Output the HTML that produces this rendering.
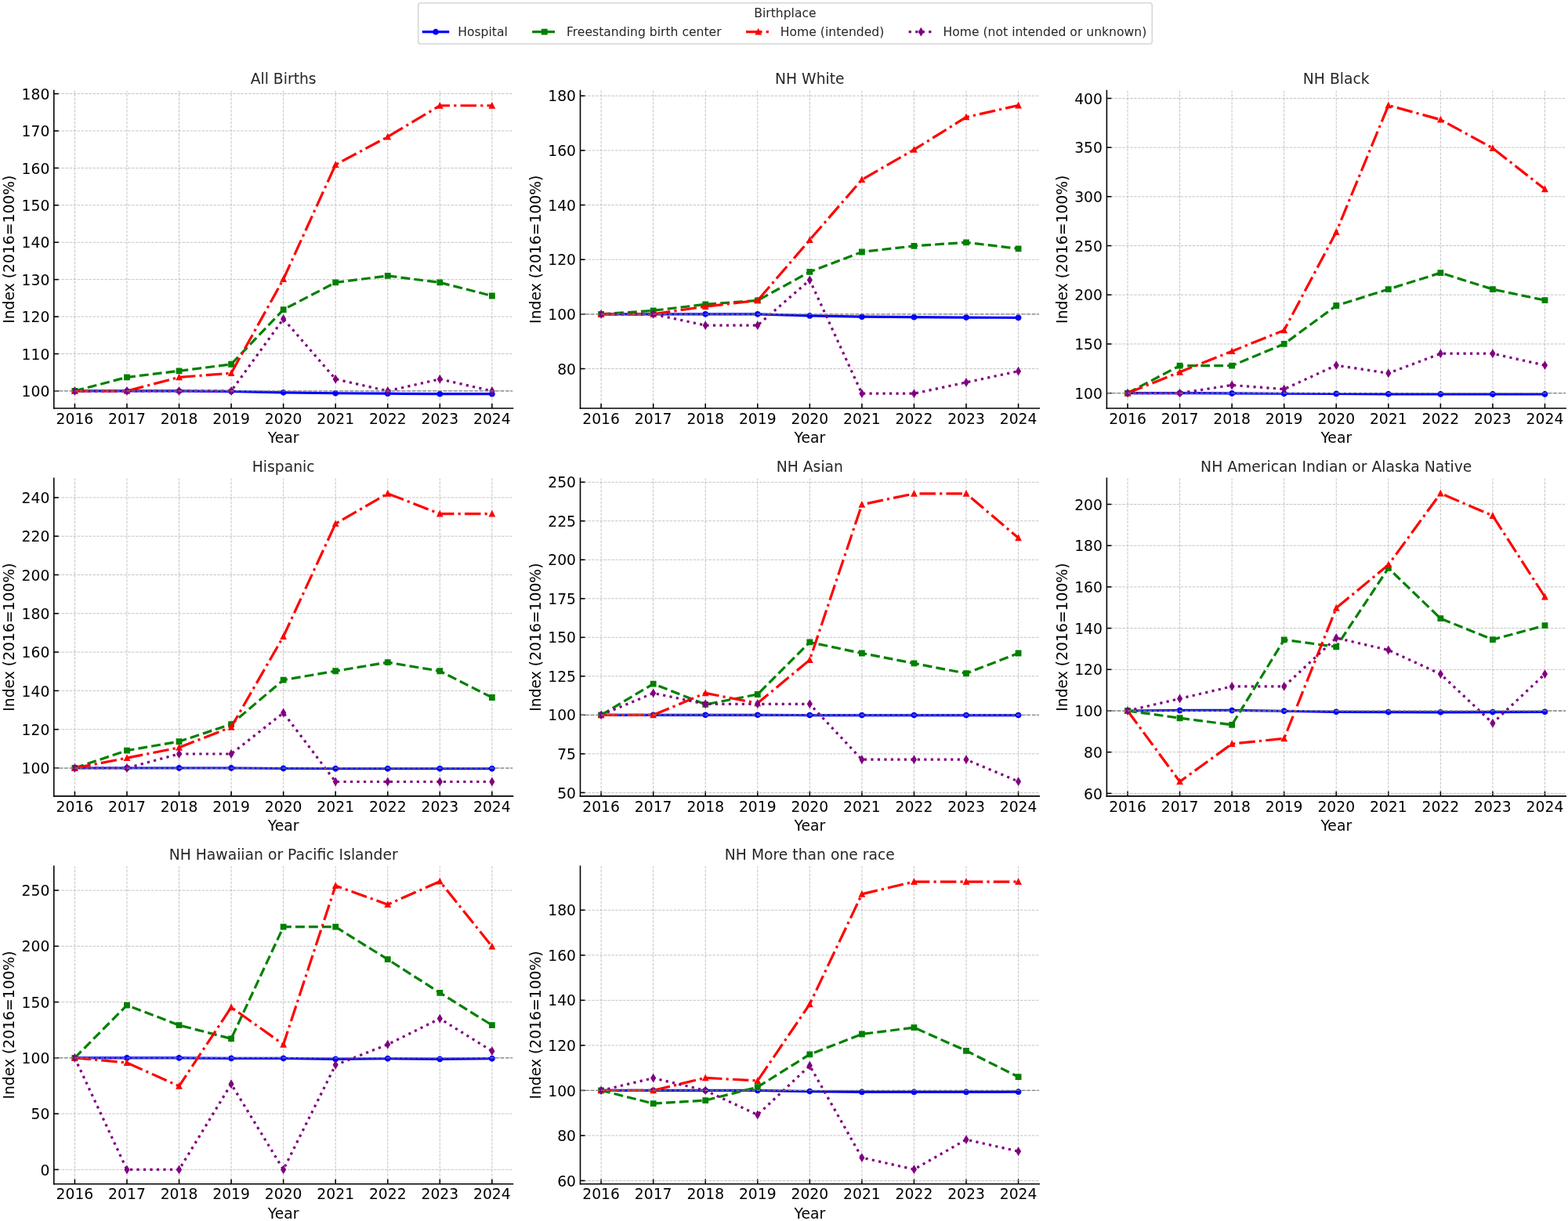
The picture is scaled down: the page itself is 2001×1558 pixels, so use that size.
<!DOCTYPE html>
<html><head><meta charset="utf-8"><title>Birthplace index by race/ethnicity</title>
<style>html,body{margin:0;padding:0;background:#fff;width:2001px;height:1558px;overflow:hidden}
text{font-family:"DejaVu Sans","Liberation Sans",sans-serif}</style></head>
<body>
<svg width="2001" height="1558" viewBox="0 0 1280.64 997.12" style="display:block">
<defs>
<style type="text/css">svg *{stroke-linejoin: round; stroke-linecap: butt}</style>
</defs>
<g id="figure_1">
<g id="patch_1">
<path d="M 0 997.12
L 1280.64 997.12
L 1280.64 0
L 0 0
z
" style="fill: #ffffff"/>
</g>
<g id="axes_1">
<g id="patch_2">
<path d="M 44.032 333.44
L 418.88 333.44
L 418.88 73.92
L 44.032 73.92
z
" style="fill: #ffffff"/>
</g>
<g id="matplotlib.axis_1">
<g id="xtick_1">
<g id="line2d_1">
<path d="M 61.070545 333.44
L 61.070545 73.92
" clip-path="url(#p42d1062738)" style="fill: none; stroke-dasharray: 2.22,0.96; stroke-dashoffset: 0; stroke: #b0b0b0; stroke-opacity: 0.8; stroke-width: 0.6"/>
</g>
<g id="line2d_2">
<g>
<path d="M 0 0
L 0 -3.85
" transform="translate(61.070545 333.44)" style="stroke: #000000; stroke: #000000"/>
</g>
</g>
<g id="text_1">
<text style="font-size: 12px; font-family: 'DejaVu Sans', 'Liberation Sans', sans-serif; text-anchor: middle" x="61.070545" y="346.058125" transform="rotate(-0 61.070545 346.058125)">2016</text>
</g>
</g>
<g id="xtick_2">
<g id="line2d_3">
<path d="M 103.666909 333.44
L 103.666909 73.92
" clip-path="url(#p42d1062738)" style="fill: none; stroke-dasharray: 2.22,0.96; stroke-dashoffset: 0; stroke: #b0b0b0; stroke-opacity: 0.8; stroke-width: 0.6"/>
</g>
<g id="line2d_4">
<g>
<path d="M 0 0
L 0 -3.85
" transform="translate(103.666909 333.44)" style="stroke: #000000; stroke: #000000"/>
</g>
</g>
<g id="text_2">
<text style="font-size: 12px; font-family: 'DejaVu Sans', 'Liberation Sans', sans-serif; text-anchor: middle" x="103.666909" y="346.058125" transform="rotate(-0 103.666909 346.058125)">2017</text>
</g>
</g>
<g id="xtick_3">
<g id="line2d_5">
<path d="M 146.263273 333.44
L 146.263273 73.92
" clip-path="url(#p42d1062738)" style="fill: none; stroke-dasharray: 2.22,0.96; stroke-dashoffset: 0; stroke: #b0b0b0; stroke-opacity: 0.8; stroke-width: 0.6"/>
</g>
<g id="line2d_6">
<g>
<path d="M 0 0
L 0 -3.85
" transform="translate(146.263273 333.44)" style="stroke: #000000; stroke: #000000"/>
</g>
</g>
<g id="text_3">
<text style="font-size: 12px; font-family: 'DejaVu Sans', 'Liberation Sans', sans-serif; text-anchor: middle" x="146.263273" y="346.058125" transform="rotate(-0 146.263273 346.058125)">2018</text>
</g>
</g>
<g id="xtick_4">
<g id="line2d_7">
<path d="M 188.859636 333.44
L 188.859636 73.92
" clip-path="url(#p42d1062738)" style="fill: none; stroke-dasharray: 2.22,0.96; stroke-dashoffset: 0; stroke: #b0b0b0; stroke-opacity: 0.8; stroke-width: 0.6"/>
</g>
<g id="line2d_8">
<g>
<path d="M 0 0
L 0 -3.85
" transform="translate(188.859636 333.44)" style="stroke: #000000; stroke: #000000"/>
</g>
</g>
<g id="text_4">
<text style="font-size: 12px; font-family: 'DejaVu Sans', 'Liberation Sans', sans-serif; text-anchor: middle" x="188.859636" y="346.058125" transform="rotate(-0 188.859636 346.058125)">2019</text>
</g>
</g>
<g id="xtick_5">
<g id="line2d_9">
<path d="M 231.456 333.44
L 231.456 73.92
" clip-path="url(#p42d1062738)" style="fill: none; stroke-dasharray: 2.22,0.96; stroke-dashoffset: 0; stroke: #b0b0b0; stroke-opacity: 0.8; stroke-width: 0.6"/>
</g>
<g id="line2d_10">
<g>
<path d="M 0 0
L 0 -3.85
" transform="translate(231.456 333.44)" style="stroke: #000000; stroke: #000000"/>
</g>
</g>
<g id="text_5">
<text style="font-size: 12px; font-family: 'DejaVu Sans', 'Liberation Sans', sans-serif; text-anchor: middle" x="231.456" y="346.058125" transform="rotate(-0 231.456 346.058125)">2020</text>
</g>
</g>
<g id="xtick_6">
<g id="line2d_11">
<path d="M 274.052364 333.44
L 274.052364 73.92
" clip-path="url(#p42d1062738)" style="fill: none; stroke-dasharray: 2.22,0.96; stroke-dashoffset: 0; stroke: #b0b0b0; stroke-opacity: 0.8; stroke-width: 0.6"/>
</g>
<g id="line2d_12">
<g>
<path d="M 0 0
L 0 -3.85
" transform="translate(274.052364 333.44)" style="stroke: #000000; stroke: #000000"/>
</g>
</g>
<g id="text_6">
<text style="font-size: 12px; font-family: 'DejaVu Sans', 'Liberation Sans', sans-serif; text-anchor: middle" x="274.052364" y="346.058125" transform="rotate(-0 274.052364 346.058125)">2021</text>
</g>
</g>
<g id="xtick_7">
<g id="line2d_13">
<path d="M 316.648727 333.44
L 316.648727 73.92
" clip-path="url(#p42d1062738)" style="fill: none; stroke-dasharray: 2.22,0.96; stroke-dashoffset: 0; stroke: #b0b0b0; stroke-opacity: 0.8; stroke-width: 0.6"/>
</g>
<g id="line2d_14">
<g>
<path d="M 0 0
L 0 -3.85
" transform="translate(316.648727 333.44)" style="stroke: #000000; stroke: #000000"/>
</g>
</g>
<g id="text_7">
<text style="font-size: 12px; font-family: 'DejaVu Sans', 'Liberation Sans', sans-serif; text-anchor: middle" x="316.648727" y="346.058125" transform="rotate(-0 316.648727 346.058125)">2022</text>
</g>
</g>
<g id="xtick_8">
<g id="line2d_15">
<path d="M 359.245091 333.44
L 359.245091 73.92
" clip-path="url(#p42d1062738)" style="fill: none; stroke-dasharray: 2.22,0.96; stroke-dashoffset: 0; stroke: #b0b0b0; stroke-opacity: 0.8; stroke-width: 0.6"/>
</g>
<g id="line2d_16">
<g>
<path d="M 0 0
L 0 -3.85
" transform="translate(359.245091 333.44)" style="stroke: #000000; stroke: #000000"/>
</g>
</g>
<g id="text_8">
<text style="font-size: 12px; font-family: 'DejaVu Sans', 'Liberation Sans', sans-serif; text-anchor: middle" x="359.245091" y="346.058125" transform="rotate(-0 359.245091 346.058125)">2023</text>
</g>
</g>
<g id="xtick_9">
<g id="line2d_17">
<path d="M 401.841455 333.44
L 401.841455 73.92
" clip-path="url(#p42d1062738)" style="fill: none; stroke-dasharray: 2.22,0.96; stroke-dashoffset: 0; stroke: #b0b0b0; stroke-opacity: 0.8; stroke-width: 0.6"/>
</g>
<g id="line2d_18">
<g>
<path d="M 0 0
L 0 -3.85
" transform="translate(401.841455 333.44)" style="stroke: #000000; stroke: #000000"/>
</g>
</g>
<g id="text_9">
<text style="font-size: 12px; font-family: 'DejaVu Sans', 'Liberation Sans', sans-serif; text-anchor: middle" x="401.841455" y="346.058125" transform="rotate(-0 401.841455 346.058125)">2024</text>
</g>
</g>
<g id="text_10">
<text style="font-size: 12px; font-family: 'DejaVu Sans', 'Liberation Sans', sans-serif; text-anchor: middle" x="231.456" y="361.671875" transform="rotate(-0 231.456 361.671875)">Year</text>
</g>
</g>
<g id="matplotlib.axis_2">
<g id="ytick_1">
<g id="line2d_19">
<path d="M 44.032 319.296
L 418.88 319.296
" clip-path="url(#p42d1062738)" style="fill: none; stroke-dasharray: 2.22,0.96; stroke-dashoffset: 0; stroke: #b0b0b0; stroke-opacity: 0.8; stroke-width: 0.6"/>
</g>
<g id="line2d_20">
<g>
<path d="M 0 0
L 3.85 0
" transform="translate(44.032 319.296)" style="stroke: #000000; stroke: #000000"/>
</g>
</g>
<g id="text_11">
<text style="font-size: 12px; font-family: 'DejaVu Sans', 'Liberation Sans', sans-serif; text-anchor: end" x="40.532" y="323.855062" transform="rotate(-0 40.532 323.855062)">100</text>
</g>
</g>
<g id="ytick_2">
<g id="line2d_21">
<path d="M 44.032 288.952
L 418.88 288.952
" clip-path="url(#p42d1062738)" style="fill: none; stroke-dasharray: 2.22,0.96; stroke-dashoffset: 0; stroke: #b0b0b0; stroke-opacity: 0.8; stroke-width: 0.6"/>
</g>
<g id="line2d_22">
<g>
<path d="M 0 0
L 3.85 0
" transform="translate(44.032 288.952)" style="stroke: #000000; stroke: #000000"/>
</g>
</g>
<g id="text_12">
<text style="font-size: 12px; font-family: 'DejaVu Sans', 'Liberation Sans', sans-serif; text-anchor: end" x="40.532" y="293.511062" transform="rotate(-0 40.532 293.511062)">110</text>
</g>
</g>
<g id="ytick_3">
<g id="line2d_23">
<path d="M 44.032 258.608
L 418.88 258.608
" clip-path="url(#p42d1062738)" style="fill: none; stroke-dasharray: 2.22,0.96; stroke-dashoffset: 0; stroke: #b0b0b0; stroke-opacity: 0.8; stroke-width: 0.6"/>
</g>
<g id="line2d_24">
<g>
<path d="M 0 0
L 3.85 0
" transform="translate(44.032 258.608)" style="stroke: #000000; stroke: #000000"/>
</g>
</g>
<g id="text_13">
<text style="font-size: 12px; font-family: 'DejaVu Sans', 'Liberation Sans', sans-serif; text-anchor: end" x="40.532" y="263.167062" transform="rotate(-0 40.532 263.167062)">120</text>
</g>
</g>
<g id="ytick_4">
<g id="line2d_25">
<path d="M 44.032 228.264
L 418.88 228.264
" clip-path="url(#p42d1062738)" style="fill: none; stroke-dasharray: 2.22,0.96; stroke-dashoffset: 0; stroke: #b0b0b0; stroke-opacity: 0.8; stroke-width: 0.6"/>
</g>
<g id="line2d_26">
<g>
<path d="M 0 0
L 3.85 0
" transform="translate(44.032 228.264)" style="stroke: #000000; stroke: #000000"/>
</g>
</g>
<g id="text_14">
<text style="font-size: 12px; font-family: 'DejaVu Sans', 'Liberation Sans', sans-serif; text-anchor: end" x="40.532" y="232.823062" transform="rotate(-0 40.532 232.823062)">130</text>
</g>
</g>
<g id="ytick_5">
<g id="line2d_27">
<path d="M 44.032 197.92
L 418.88 197.92
" clip-path="url(#p42d1062738)" style="fill: none; stroke-dasharray: 2.22,0.96; stroke-dashoffset: 0; stroke: #b0b0b0; stroke-opacity: 0.8; stroke-width: 0.6"/>
</g>
<g id="line2d_28">
<g>
<path d="M 0 0
L 3.85 0
" transform="translate(44.032 197.92)" style="stroke: #000000; stroke: #000000"/>
</g>
</g>
<g id="text_15">
<text style="font-size: 12px; font-family: 'DejaVu Sans', 'Liberation Sans', sans-serif; text-anchor: end" x="40.532" y="202.479062" transform="rotate(-0 40.532 202.479062)">140</text>
</g>
</g>
<g id="ytick_6">
<g id="line2d_29">
<path d="M 44.032 167.576
L 418.88 167.576
" clip-path="url(#p42d1062738)" style="fill: none; stroke-dasharray: 2.22,0.96; stroke-dashoffset: 0; stroke: #b0b0b0; stroke-opacity: 0.8; stroke-width: 0.6"/>
</g>
<g id="line2d_30">
<g>
<path d="M 0 0
L 3.85 0
" transform="translate(44.032 167.576)" style="stroke: #000000; stroke: #000000"/>
</g>
</g>
<g id="text_16">
<text style="font-size: 12px; font-family: 'DejaVu Sans', 'Liberation Sans', sans-serif; text-anchor: end" x="40.532" y="172.135062" transform="rotate(-0 40.532 172.135062)">150</text>
</g>
</g>
<g id="ytick_7">
<g id="line2d_31">
<path d="M 44.032 137.232
L 418.88 137.232
" clip-path="url(#p42d1062738)" style="fill: none; stroke-dasharray: 2.22,0.96; stroke-dashoffset: 0; stroke: #b0b0b0; stroke-opacity: 0.8; stroke-width: 0.6"/>
</g>
<g id="line2d_32">
<g>
<path d="M 0 0
L 3.85 0
" transform="translate(44.032 137.232)" style="stroke: #000000; stroke: #000000"/>
</g>
</g>
<g id="text_17">
<text style="font-size: 12px; font-family: 'DejaVu Sans', 'Liberation Sans', sans-serif; text-anchor: end" x="40.532" y="141.791062" transform="rotate(-0 40.532 141.791062)">160</text>
</g>
</g>
<g id="ytick_8">
<g id="line2d_33">
<path d="M 44.032 106.888
L 418.88 106.888
" clip-path="url(#p42d1062738)" style="fill: none; stroke-dasharray: 2.22,0.96; stroke-dashoffset: 0; stroke: #b0b0b0; stroke-opacity: 0.8; stroke-width: 0.6"/>
</g>
<g id="line2d_34">
<g>
<path d="M 0 0
L 3.85 0
" transform="translate(44.032 106.888)" style="stroke: #000000; stroke: #000000"/>
</g>
</g>
<g id="text_18">
<text style="font-size: 12px; font-family: 'DejaVu Sans', 'Liberation Sans', sans-serif; text-anchor: end" x="40.532" y="111.447063" transform="rotate(-0 40.532 111.447063)">170</text>
</g>
</g>
<g id="ytick_9">
<g id="line2d_35">
<path d="M 44.032 76.544
L 418.88 76.544
" clip-path="url(#p42d1062738)" style="fill: none; stroke-dasharray: 2.22,0.96; stroke-dashoffset: 0; stroke: #b0b0b0; stroke-opacity: 0.8; stroke-width: 0.6"/>
</g>
<g id="line2d_36">
<g>
<path d="M 0 0
L 3.85 0
" transform="translate(44.032 76.544)" style="stroke: #000000; stroke: #000000"/>
</g>
</g>
<g id="text_19">
<text style="font-size: 12px; font-family: 'DejaVu Sans', 'Liberation Sans', sans-serif; text-anchor: end" x="40.532" y="81.103062" transform="rotate(-0 40.532 81.103062)">180</text>
</g>
</g>
<g id="text_20">
<text style="font-size: 12px; font-family: 'DejaVu Sans', 'Liberation Sans', sans-serif; text-anchor: middle" x="11.631375" y="203.68" transform="rotate(-90 11.631375 203.68)">Index (2016=100%)</text>
</g>
</g>
<g id="line2d_37">
<path d="M 61.070545 319.296
L 103.666909 319.296
L 146.263273 319.296
L 188.859636 319.59944
L 231.456 320.50976
L 274.052364 321.11664
L 316.648727 321.42008
L 359.245091 321.72352
L 401.841455 321.72352
" clip-path="url(#p42d1062738)" style="fill: none; stroke: #0000ff; stroke-width: 2.05; stroke-linecap: square"/>
<g clip-path="url(#p42d1062738)">
<path d="M 0 2
C 0.530406 2 1.03916 1.789267 1.414214 1.414214
C 1.789267 1.03916 2 0.530406 2 0
C 2 -0.530406 1.789267 -1.03916 1.414214 -1.414214
C 1.03916 -1.789267 0.530406 -2 0 -2
C -0.530406 -2 -1.03916 -1.789267 -1.414214 -1.414214
C -1.789267 -1.03916 -2 -0.530406 -2 0
C -2 0.530406 -1.789267 1.03916 -1.414214 1.414214
C -1.03916 1.789267 -0.530406 2 0 2
z
" transform="translate(61.070545 319.296)" style="fill: #0000ff; stroke: #0000ff; stroke: #0000ff"/>
<path d="M 0 2
C 0.530406 2 1.03916 1.789267 1.414214 1.414214
C 1.789267 1.03916 2 0.530406 2 0
C 2 -0.530406 1.789267 -1.03916 1.414214 -1.414214
C 1.03916 -1.789267 0.530406 -2 0 -2
C -0.530406 -2 -1.03916 -1.789267 -1.414214 -1.414214
C -1.789267 -1.03916 -2 -0.530406 -2 0
C -2 0.530406 -1.789267 1.03916 -1.414214 1.414214
C -1.03916 1.789267 -0.530406 2 0 2
z
" transform="translate(103.666909 319.296)" style="fill: #0000ff; stroke: #0000ff; stroke: #0000ff"/>
<path d="M 0 2
C 0.530406 2 1.03916 1.789267 1.414214 1.414214
C 1.789267 1.03916 2 0.530406 2 0
C 2 -0.530406 1.789267 -1.03916 1.414214 -1.414214
C 1.03916 -1.789267 0.530406 -2 0 -2
C -0.530406 -2 -1.03916 -1.789267 -1.414214 -1.414214
C -1.789267 -1.03916 -2 -0.530406 -2 0
C -2 0.530406 -1.789267 1.03916 -1.414214 1.414214
C -1.03916 1.789267 -0.530406 2 0 2
z
" transform="translate(146.263273 319.296)" style="fill: #0000ff; stroke: #0000ff; stroke: #0000ff"/>
<path d="M 0 2
C 0.530406 2 1.03916 1.789267 1.414214 1.414214
C 1.789267 1.03916 2 0.530406 2 0
C 2 -0.530406 1.789267 -1.03916 1.414214 -1.414214
C 1.03916 -1.789267 0.530406 -2 0 -2
C -0.530406 -2 -1.03916 -1.789267 -1.414214 -1.414214
C -1.789267 -1.03916 -2 -0.530406 -2 0
C -2 0.530406 -1.789267 1.03916 -1.414214 1.414214
C -1.03916 1.789267 -0.530406 2 0 2
z
" transform="translate(188.859636 319.59944)" style="fill: #0000ff; stroke: #0000ff; stroke: #0000ff"/>
<path d="M 0 2
C 0.530406 2 1.03916 1.789267 1.414214 1.414214
C 1.789267 1.03916 2 0.530406 2 0
C 2 -0.530406 1.789267 -1.03916 1.414214 -1.414214
C 1.03916 -1.789267 0.530406 -2 0 -2
C -0.530406 -2 -1.03916 -1.789267 -1.414214 -1.414214
C -1.789267 -1.03916 -2 -0.530406 -2 0
C -2 0.530406 -1.789267 1.03916 -1.414214 1.414214
C -1.03916 1.789267 -0.530406 2 0 2
z
" transform="translate(231.456 320.50976)" style="fill: #0000ff; stroke: #0000ff; stroke: #0000ff"/>
<path d="M 0 2
C 0.530406 2 1.03916 1.789267 1.414214 1.414214
C 1.789267 1.03916 2 0.530406 2 0
C 2 -0.530406 1.789267 -1.03916 1.414214 -1.414214
C 1.03916 -1.789267 0.530406 -2 0 -2
C -0.530406 -2 -1.03916 -1.789267 -1.414214 -1.414214
C -1.789267 -1.03916 -2 -0.530406 -2 0
C -2 0.530406 -1.789267 1.03916 -1.414214 1.414214
C -1.03916 1.789267 -0.530406 2 0 2
z
" transform="translate(274.052364 321.11664)" style="fill: #0000ff; stroke: #0000ff; stroke: #0000ff"/>
<path d="M 0 2
C 0.530406 2 1.03916 1.789267 1.414214 1.414214
C 1.789267 1.03916 2 0.530406 2 0
C 2 -0.530406 1.789267 -1.03916 1.414214 -1.414214
C 1.03916 -1.789267 0.530406 -2 0 -2
C -0.530406 -2 -1.03916 -1.789267 -1.414214 -1.414214
C -1.789267 -1.03916 -2 -0.530406 -2 0
C -2 0.530406 -1.789267 1.03916 -1.414214 1.414214
C -1.03916 1.789267 -0.530406 2 0 2
z
" transform="translate(316.648727 321.42008)" style="fill: #0000ff; stroke: #0000ff; stroke: #0000ff"/>
<path d="M 0 2
C 0.530406 2 1.03916 1.789267 1.414214 1.414214
C 1.789267 1.03916 2 0.530406 2 0
C 2 -0.530406 1.789267 -1.03916 1.414214 -1.414214
C 1.03916 -1.789267 0.530406 -2 0 -2
C -0.530406 -2 -1.03916 -1.789267 -1.414214 -1.414214
C -1.789267 -1.03916 -2 -0.530406 -2 0
C -2 0.530406 -1.789267 1.03916 -1.414214 1.414214
C -1.03916 1.789267 -0.530406 2 0 2
z
" transform="translate(359.245091 321.72352)" style="fill: #0000ff; stroke: #0000ff; stroke: #0000ff"/>
<path d="M 0 2
C 0.530406 2 1.03916 1.789267 1.414214 1.414214
C 1.789267 1.03916 2 0.530406 2 0
C 2 -0.530406 1.789267 -1.03916 1.414214 -1.414214
C 1.03916 -1.789267 0.530406 -2 0 -2
C -0.530406 -2 -1.03916 -1.789267 -1.414214 -1.414214
C -1.789267 -1.03916 -2 -0.530406 -2 0
C -2 0.530406 -1.789267 1.03916 -1.414214 1.414214
C -1.03916 1.789267 -0.530406 2 0 2
z
" transform="translate(401.841455 321.72352)" style="fill: #0000ff; stroke: #0000ff; stroke: #0000ff"/>
</g>
</g>
<g id="line2d_38">
<path d="M 61.070545 319.296
L 103.666909 308.06872
L 146.263273 302.91024
L 188.859636 297.44832
L 231.456 252.84264
L 274.052364 230.69152
L 316.648727 225.2296
L 359.245091 230.69152
L 401.841455 241.61536
" clip-path="url(#p42d1062738)" style="fill: none; stroke-dasharray: 7.585,3.28; stroke-dashoffset: 0; stroke: #008000; stroke-width: 2.05"/>
<g clip-path="url(#p42d1062738)">
<path d="M -2 2
L 2 2
L 2 -2
L -2 -2
z
" transform="translate(61.070545 319.296)" style="fill: #008000; stroke: #008000; stroke-linejoin: miter; stroke: #008000; stroke-linejoin: miter"/>
<path d="M -2 2
L 2 2
L 2 -2
L -2 -2
z
" transform="translate(103.666909 308.06872)" style="fill: #008000; stroke: #008000; stroke-linejoin: miter; stroke: #008000; stroke-linejoin: miter"/>
<path d="M -2 2
L 2 2
L 2 -2
L -2 -2
z
" transform="translate(146.263273 302.91024)" style="fill: #008000; stroke: #008000; stroke-linejoin: miter; stroke: #008000; stroke-linejoin: miter"/>
<path d="M -2 2
L 2 2
L 2 -2
L -2 -2
z
" transform="translate(188.859636 297.44832)" style="fill: #008000; stroke: #008000; stroke-linejoin: miter; stroke: #008000; stroke-linejoin: miter"/>
<path d="M -2 2
L 2 2
L 2 -2
L -2 -2
z
" transform="translate(231.456 252.84264)" style="fill: #008000; stroke: #008000; stroke-linejoin: miter; stroke: #008000; stroke-linejoin: miter"/>
<path d="M -2 2
L 2 2
L 2 -2
L -2 -2
z
" transform="translate(274.052364 230.69152)" style="fill: #008000; stroke: #008000; stroke-linejoin: miter; stroke: #008000; stroke-linejoin: miter"/>
<path d="M -2 2
L 2 2
L 2 -2
L -2 -2
z
" transform="translate(316.648727 225.2296)" style="fill: #008000; stroke: #008000; stroke-linejoin: miter; stroke: #008000; stroke-linejoin: miter"/>
<path d="M -2 2
L 2 2
L 2 -2
L -2 -2
z
" transform="translate(359.245091 230.69152)" style="fill: #008000; stroke: #008000; stroke-linejoin: miter; stroke: #008000; stroke-linejoin: miter"/>
<path d="M -2 2
L 2 2
L 2 -2
L -2 -2
z
" transform="translate(401.841455 241.61536)" style="fill: #008000; stroke: #008000; stroke-linejoin: miter; stroke: #008000; stroke-linejoin: miter"/>
</g>
</g>
<g id="line2d_39">
<path d="M 61.070545 319.296
L 103.666909 319.296
L 146.263273 308.06872
L 188.859636 304.73088
L 231.456 227.96056
L 274.052364 134.50104
L 316.648727 111.74304
L 359.245091 86.25408
L 401.841455 86.25408
" clip-path="url(#p42d1062738)" style="fill: none; stroke-dasharray: 13.12,3.28,2.05,3.28; stroke-dashoffset: 0; stroke: #ff0000; stroke-width: 2.05"/>
<g clip-path="url(#p42d1062738)">
<path d="M 0 -2
L -2 2
L 2 2
z
" transform="translate(61.070545 319.296)" style="fill: #ff0000; stroke: #ff0000; stroke-linejoin: miter; stroke: #ff0000; stroke-linejoin: miter"/>
<path d="M 0 -2
L -2 2
L 2 2
z
" transform="translate(103.666909 319.296)" style="fill: #ff0000; stroke: #ff0000; stroke-linejoin: miter; stroke: #ff0000; stroke-linejoin: miter"/>
<path d="M 0 -2
L -2 2
L 2 2
z
" transform="translate(146.263273 308.06872)" style="fill: #ff0000; stroke: #ff0000; stroke-linejoin: miter; stroke: #ff0000; stroke-linejoin: miter"/>
<path d="M 0 -2
L -2 2
L 2 2
z
" transform="translate(188.859636 304.73088)" style="fill: #ff0000; stroke: #ff0000; stroke-linejoin: miter; stroke: #ff0000; stroke-linejoin: miter"/>
<path d="M 0 -2
L -2 2
L 2 2
z
" transform="translate(231.456 227.96056)" style="fill: #ff0000; stroke: #ff0000; stroke-linejoin: miter; stroke: #ff0000; stroke-linejoin: miter"/>
<path d="M 0 -2
L -2 2
L 2 2
z
" transform="translate(274.052364 134.50104)" style="fill: #ff0000; stroke: #ff0000; stroke-linejoin: miter; stroke: #ff0000; stroke-linejoin: miter"/>
<path d="M 0 -2
L -2 2
L 2 2
z
" transform="translate(316.648727 111.74304)" style="fill: #ff0000; stroke: #ff0000; stroke-linejoin: miter; stroke: #ff0000; stroke-linejoin: miter"/>
<path d="M 0 -2
L -2 2
L 2 2
z
" transform="translate(359.245091 86.25408)" style="fill: #ff0000; stroke: #ff0000; stroke-linejoin: miter; stroke: #ff0000; stroke-linejoin: miter"/>
<path d="M 0 -2
L -2 2
L 2 2
z
" transform="translate(401.841455 86.25408)" style="fill: #ff0000; stroke: #ff0000; stroke-linejoin: miter; stroke: #ff0000; stroke-linejoin: miter"/>
</g>
</g>
<g id="line2d_40">
<path d="M 61.070545 319.296
L 103.666909 319.296
L 146.263273 319.296
L 188.859636 319.296
L 231.456 260.42864
L 274.052364 309.58592
L 316.648727 319.296
L 359.245091 309.58592
L 401.841455 319.296
" clip-path="url(#p42d1062738)" style="fill: none; stroke-dasharray: 2.05,3.3825; stroke-dashoffset: 0; stroke: #800080; stroke-width: 2.05"/>
<g clip-path="url(#p42d1062738)">
<path d="M -0 2.828427
L 1.697056 0
L 0 -2.828427
L -1.697056 -0
z
" transform="translate(61.070545 319.296)" style="fill: #800080; stroke: #800080; stroke-linejoin: miter; stroke: #800080; stroke-linejoin: miter"/>
<path d="M -0 2.828427
L 1.697056 0
L 0 -2.828427
L -1.697056 -0
z
" transform="translate(103.666909 319.296)" style="fill: #800080; stroke: #800080; stroke-linejoin: miter; stroke: #800080; stroke-linejoin: miter"/>
<path d="M -0 2.828427
L 1.697056 0
L 0 -2.828427
L -1.697056 -0
z
" transform="translate(146.263273 319.296)" style="fill: #800080; stroke: #800080; stroke-linejoin: miter; stroke: #800080; stroke-linejoin: miter"/>
<path d="M -0 2.828427
L 1.697056 0
L 0 -2.828427
L -1.697056 -0
z
" transform="translate(188.859636 319.296)" style="fill: #800080; stroke: #800080; stroke-linejoin: miter; stroke: #800080; stroke-linejoin: miter"/>
<path d="M -0 2.828427
L 1.697056 0
L 0 -2.828427
L -1.697056 -0
z
" transform="translate(231.456 260.42864)" style="fill: #800080; stroke: #800080; stroke-linejoin: miter; stroke: #800080; stroke-linejoin: miter"/>
<path d="M -0 2.828427
L 1.697056 0
L 0 -2.828427
L -1.697056 -0
z
" transform="translate(274.052364 309.58592)" style="fill: #800080; stroke: #800080; stroke-linejoin: miter; stroke: #800080; stroke-linejoin: miter"/>
<path d="M -0 2.828427
L 1.697056 0
L 0 -2.828427
L -1.697056 -0
z
" transform="translate(316.648727 319.296)" style="fill: #800080; stroke: #800080; stroke-linejoin: miter; stroke: #800080; stroke-linejoin: miter"/>
<path d="M -0 2.828427
L 1.697056 0
L 0 -2.828427
L -1.697056 -0
z
" transform="translate(359.245091 309.58592)" style="fill: #800080; stroke: #800080; stroke-linejoin: miter; stroke: #800080; stroke-linejoin: miter"/>
<path d="M -0 2.828427
L 1.697056 0
L 0 -2.828427
L -1.697056 -0
z
" transform="translate(401.841455 319.296)" style="fill: #800080; stroke: #800080; stroke-linejoin: miter; stroke: #800080; stroke-linejoin: miter"/>
</g>
</g>
<g id="line2d_41">
<path d="M 44.032 319.296
L 418.88 319.296
" clip-path="url(#p42d1062738)" style="fill: none; stroke-dasharray: 2.96,1.28; stroke-dashoffset: 0; stroke: #808080; stroke-width: 0.8"/>
</g>
<g id="patch_3">
<path d="M 44.032 333.44
L 44.032 73.92
" style="fill: none; stroke: #000000; stroke-linejoin: miter; stroke-linecap: square"/>
</g>
<g id="patch_4">
<path d="M 44.032 333.44
L 418.88 333.44
" style="fill: none; stroke: #000000; stroke-linejoin: miter; stroke-linecap: square"/>
</g>
<g id="text_21">
<text style="font-size: 12px; font-family: 'DejaVu Sans', 'Liberation Sans', sans-serif; text-anchor: middle; fill: #262626" x="231.456" y="68.52" transform="rotate(-0 231.456 68.52)">All Births</text>
</g>
</g>
<g id="axes_2">
<g id="patch_5">
<path d="M 473.92 333.44
L 848.768 333.44
L 848.768 73.92
L 473.92 73.92
z
" style="fill: #ffffff"/>
</g>
<g id="matplotlib.axis_3">
<g id="xtick_10">
<g id="line2d_42">
<path d="M 490.958545 333.44
L 490.958545 73.92
" clip-path="url(#p2471ae372f)" style="fill: none; stroke-dasharray: 2.22,0.96; stroke-dashoffset: 0; stroke: #b0b0b0; stroke-opacity: 0.8; stroke-width: 0.6"/>
</g>
<g id="line2d_43">
<g>
<path d="M 0 0
L 0 -3.85
" transform="translate(490.958545 333.44)" style="stroke: #000000; stroke: #000000"/>
</g>
</g>
<g id="text_22">
<text style="font-size: 12px; font-family: 'DejaVu Sans', 'Liberation Sans', sans-serif; text-anchor: middle" x="490.958545" y="346.058125" transform="rotate(-0 490.958545 346.058125)">2016</text>
</g>
</g>
<g id="xtick_11">
<g id="line2d_44">
<path d="M 533.554909 333.44
L 533.554909 73.92
" clip-path="url(#p2471ae372f)" style="fill: none; stroke-dasharray: 2.22,0.96; stroke-dashoffset: 0; stroke: #b0b0b0; stroke-opacity: 0.8; stroke-width: 0.6"/>
</g>
<g id="line2d_45">
<g>
<path d="M 0 0
L 0 -3.85
" transform="translate(533.554909 333.44)" style="stroke: #000000; stroke: #000000"/>
</g>
</g>
<g id="text_23">
<text style="font-size: 12px; font-family: 'DejaVu Sans', 'Liberation Sans', sans-serif; text-anchor: middle" x="533.554909" y="346.058125" transform="rotate(-0 533.554909 346.058125)">2017</text>
</g>
</g>
<g id="xtick_12">
<g id="line2d_46">
<path d="M 576.151273 333.44
L 576.151273 73.92
" clip-path="url(#p2471ae372f)" style="fill: none; stroke-dasharray: 2.22,0.96; stroke-dashoffset: 0; stroke: #b0b0b0; stroke-opacity: 0.8; stroke-width: 0.6"/>
</g>
<g id="line2d_47">
<g>
<path d="M 0 0
L 0 -3.85
" transform="translate(576.151273 333.44)" style="stroke: #000000; stroke: #000000"/>
</g>
</g>
<g id="text_24">
<text style="font-size: 12px; font-family: 'DejaVu Sans', 'Liberation Sans', sans-serif; text-anchor: middle" x="576.151273" y="346.058125" transform="rotate(-0 576.151273 346.058125)">2018</text>
</g>
</g>
<g id="xtick_13">
<g id="line2d_48">
<path d="M 618.747636 333.44
L 618.747636 73.92
" clip-path="url(#p2471ae372f)" style="fill: none; stroke-dasharray: 2.22,0.96; stroke-dashoffset: 0; stroke: #b0b0b0; stroke-opacity: 0.8; stroke-width: 0.6"/>
</g>
<g id="line2d_49">
<g>
<path d="M 0 0
L 0 -3.85
" transform="translate(618.747636 333.44)" style="stroke: #000000; stroke: #000000"/>
</g>
</g>
<g id="text_25">
<text style="font-size: 12px; font-family: 'DejaVu Sans', 'Liberation Sans', sans-serif; text-anchor: middle" x="618.747636" y="346.058125" transform="rotate(-0 618.747636 346.058125)">2019</text>
</g>
</g>
<g id="xtick_14">
<g id="line2d_50">
<path d="M 661.344 333.44
L 661.344 73.92
" clip-path="url(#p2471ae372f)" style="fill: none; stroke-dasharray: 2.22,0.96; stroke-dashoffset: 0; stroke: #b0b0b0; stroke-opacity: 0.8; stroke-width: 0.6"/>
</g>
<g id="line2d_51">
<g>
<path d="M 0 0
L 0 -3.85
" transform="translate(661.344 333.44)" style="stroke: #000000; stroke: #000000"/>
</g>
</g>
<g id="text_26">
<text style="font-size: 12px; font-family: 'DejaVu Sans', 'Liberation Sans', sans-serif; text-anchor: middle" x="661.344" y="346.058125" transform="rotate(-0 661.344 346.058125)">2020</text>
</g>
</g>
<g id="xtick_15">
<g id="line2d_52">
<path d="M 703.940364 333.44
L 703.940364 73.92
" clip-path="url(#p2471ae372f)" style="fill: none; stroke-dasharray: 2.22,0.96; stroke-dashoffset: 0; stroke: #b0b0b0; stroke-opacity: 0.8; stroke-width: 0.6"/>
</g>
<g id="line2d_53">
<g>
<path d="M 0 0
L 0 -3.85
" transform="translate(703.940364 333.44)" style="stroke: #000000; stroke: #000000"/>
</g>
</g>
<g id="text_27">
<text style="font-size: 12px; font-family: 'DejaVu Sans', 'Liberation Sans', sans-serif; text-anchor: middle" x="703.940364" y="346.058125" transform="rotate(-0 703.940364 346.058125)">2021</text>
</g>
</g>
<g id="xtick_16">
<g id="line2d_54">
<path d="M 746.536727 333.44
L 746.536727 73.92
" clip-path="url(#p2471ae372f)" style="fill: none; stroke-dasharray: 2.22,0.96; stroke-dashoffset: 0; stroke: #b0b0b0; stroke-opacity: 0.8; stroke-width: 0.6"/>
</g>
<g id="line2d_55">
<g>
<path d="M 0 0
L 0 -3.85
" transform="translate(746.536727 333.44)" style="stroke: #000000; stroke: #000000"/>
</g>
</g>
<g id="text_28">
<text style="font-size: 12px; font-family: 'DejaVu Sans', 'Liberation Sans', sans-serif; text-anchor: middle" x="746.536727" y="346.058125" transform="rotate(-0 746.536727 346.058125)">2022</text>
</g>
</g>
<g id="xtick_17">
<g id="line2d_56">
<path d="M 789.133091 333.44
L 789.133091 73.92
" clip-path="url(#p2471ae372f)" style="fill: none; stroke-dasharray: 2.22,0.96; stroke-dashoffset: 0; stroke: #b0b0b0; stroke-opacity: 0.8; stroke-width: 0.6"/>
</g>
<g id="line2d_57">
<g>
<path d="M 0 0
L 0 -3.85
" transform="translate(789.133091 333.44)" style="stroke: #000000; stroke: #000000"/>
</g>
</g>
<g id="text_29">
<text style="font-size: 12px; font-family: 'DejaVu Sans', 'Liberation Sans', sans-serif; text-anchor: middle" x="789.133091" y="346.058125" transform="rotate(-0 789.133091 346.058125)">2023</text>
</g>
</g>
<g id="xtick_18">
<g id="line2d_58">
<path d="M 831.729455 333.44
L 831.729455 73.92
" clip-path="url(#p2471ae372f)" style="fill: none; stroke-dasharray: 2.22,0.96; stroke-dashoffset: 0; stroke: #b0b0b0; stroke-opacity: 0.8; stroke-width: 0.6"/>
</g>
<g id="line2d_59">
<g>
<path d="M 0 0
L 0 -3.85
" transform="translate(831.729455 333.44)" style="stroke: #000000; stroke: #000000"/>
</g>
</g>
<g id="text_30">
<text style="font-size: 12px; font-family: 'DejaVu Sans', 'Liberation Sans', sans-serif; text-anchor: middle" x="831.729455" y="346.058125" transform="rotate(-0 831.729455 346.058125)">2024</text>
</g>
</g>
<g id="text_31">
<text style="font-size: 12px; font-family: 'DejaVu Sans', 'Liberation Sans', sans-serif; text-anchor: middle" x="661.344" y="361.671875" transform="rotate(-0 661.344 361.671875)">Year</text>
</g>
</g>
<g id="matplotlib.axis_4">
<g id="ytick_10">
<g id="line2d_60">
<path d="M 473.92 301.12
L 848.768 301.12
" clip-path="url(#p2471ae372f)" style="fill: none; stroke-dasharray: 2.22,0.96; stroke-dashoffset: 0; stroke: #b0b0b0; stroke-opacity: 0.8; stroke-width: 0.6"/>
</g>
<g id="line2d_61">
<g>
<path d="M 0 0
L 3.85 0
" transform="translate(473.92 301.12)" style="stroke: #000000; stroke: #000000"/>
</g>
</g>
<g id="text_32">
<text style="font-size: 12px; font-family: 'DejaVu Sans', 'Liberation Sans', sans-serif; text-anchor: end" x="470.42" y="305.679062" transform="rotate(-0 470.42 305.679062)">80</text>
</g>
</g>
<g id="ytick_11">
<g id="line2d_62">
<path d="M 473.92 256.5504
L 848.768 256.5504
" clip-path="url(#p2471ae372f)" style="fill: none; stroke-dasharray: 2.22,0.96; stroke-dashoffset: 0; stroke: #b0b0b0; stroke-opacity: 0.8; stroke-width: 0.6"/>
</g>
<g id="line2d_63">
<g>
<path d="M 0 0
L 3.85 0
" transform="translate(473.92 256.5504)" style="stroke: #000000; stroke: #000000"/>
</g>
</g>
<g id="text_33">
<text style="font-size: 12px; font-family: 'DejaVu Sans', 'Liberation Sans', sans-serif; text-anchor: end" x="470.42" y="261.109462" transform="rotate(-0 470.42 261.109462)">100</text>
</g>
</g>
<g id="ytick_12">
<g id="line2d_64">
<path d="M 473.92 211.9808
L 848.768 211.9808
" clip-path="url(#p2471ae372f)" style="fill: none; stroke-dasharray: 2.22,0.96; stroke-dashoffset: 0; stroke: #b0b0b0; stroke-opacity: 0.8; stroke-width: 0.6"/>
</g>
<g id="line2d_65">
<g>
<path d="M 0 0
L 3.85 0
" transform="translate(473.92 211.9808)" style="stroke: #000000; stroke: #000000"/>
</g>
</g>
<g id="text_34">
<text style="font-size: 12px; font-family: 'DejaVu Sans', 'Liberation Sans', sans-serif; text-anchor: end" x="470.42" y="216.539862" transform="rotate(-0 470.42 216.539862)">120</text>
</g>
</g>
<g id="ytick_13">
<g id="line2d_66">
<path d="M 473.92 167.4112
L 848.768 167.4112
" clip-path="url(#p2471ae372f)" style="fill: none; stroke-dasharray: 2.22,0.96; stroke-dashoffset: 0; stroke: #b0b0b0; stroke-opacity: 0.8; stroke-width: 0.6"/>
</g>
<g id="line2d_67">
<g>
<path d="M 0 0
L 3.85 0
" transform="translate(473.92 167.4112)" style="stroke: #000000; stroke: #000000"/>
</g>
</g>
<g id="text_35">
<text style="font-size: 12px; font-family: 'DejaVu Sans', 'Liberation Sans', sans-serif; text-anchor: end" x="470.42" y="171.970262" transform="rotate(-0 470.42 171.970262)">140</text>
</g>
</g>
<g id="ytick_14">
<g id="line2d_68">
<path d="M 473.92 122.8416
L 848.768 122.8416
" clip-path="url(#p2471ae372f)" style="fill: none; stroke-dasharray: 2.22,0.96; stroke-dashoffset: 0; stroke: #b0b0b0; stroke-opacity: 0.8; stroke-width: 0.6"/>
</g>
<g id="line2d_69">
<g>
<path d="M 0 0
L 3.85 0
" transform="translate(473.92 122.8416)" style="stroke: #000000; stroke: #000000"/>
</g>
</g>
<g id="text_36">
<text style="font-size: 12px; font-family: 'DejaVu Sans', 'Liberation Sans', sans-serif; text-anchor: end" x="470.42" y="127.400662" transform="rotate(-0 470.42 127.400662)">160</text>
</g>
</g>
<g id="ytick_15">
<g id="line2d_70">
<path d="M 473.92 78.272
L 848.768 78.272
" clip-path="url(#p2471ae372f)" style="fill: none; stroke-dasharray: 2.22,0.96; stroke-dashoffset: 0; stroke: #b0b0b0; stroke-opacity: 0.8; stroke-width: 0.6"/>
</g>
<g id="line2d_71">
<g>
<path d="M 0 0
L 3.85 0
" transform="translate(473.92 78.272)" style="stroke: #000000; stroke: #000000"/>
</g>
</g>
<g id="text_37">
<text style="font-size: 12px; font-family: 'DejaVu Sans', 'Liberation Sans', sans-serif; text-anchor: end" x="470.42" y="82.831062" transform="rotate(-0 470.42 82.831062)">180</text>
</g>
</g>
<g id="text_38">
<text style="font-size: 12px; font-family: 'DejaVu Sans', 'Liberation Sans', sans-serif; text-anchor: middle" x="441.519375" y="203.68" transform="rotate(-90 441.519375 203.68)">Index (2016=100%)</text>
</g>
</g>
<g id="line2d_72">
<path d="M 490.958545 256.5504
L 533.554909 256.5504
L 576.151273 256.5504
L 618.747636 256.5504
L 661.344 257.887488
L 703.940364 258.667456
L 746.536727 259.001728
L 789.133091 259.224576
L 831.729455 259.447424
" clip-path="url(#p2471ae372f)" style="fill: none; stroke: #0000ff; stroke-width: 2.05; stroke-linecap: square"/>
<g clip-path="url(#p2471ae372f)">
<path d="M 0 2
C 0.530406 2 1.03916 1.789267 1.414214 1.414214
C 1.789267 1.03916 2 0.530406 2 0
C 2 -0.530406 1.789267 -1.03916 1.414214 -1.414214
C 1.03916 -1.789267 0.530406 -2 0 -2
C -0.530406 -2 -1.03916 -1.789267 -1.414214 -1.414214
C -1.789267 -1.03916 -2 -0.530406 -2 0
C -2 0.530406 -1.789267 1.03916 -1.414214 1.414214
C -1.03916 1.789267 -0.530406 2 0 2
z
" transform="translate(490.958545 256.5504)" style="fill: #0000ff; stroke: #0000ff; stroke: #0000ff"/>
<path d="M 0 2
C 0.530406 2 1.03916 1.789267 1.414214 1.414214
C 1.789267 1.03916 2 0.530406 2 0
C 2 -0.530406 1.789267 -1.03916 1.414214 -1.414214
C 1.03916 -1.789267 0.530406 -2 0 -2
C -0.530406 -2 -1.03916 -1.789267 -1.414214 -1.414214
C -1.789267 -1.03916 -2 -0.530406 -2 0
C -2 0.530406 -1.789267 1.03916 -1.414214 1.414214
C -1.03916 1.789267 -0.530406 2 0 2
z
" transform="translate(533.554909 256.5504)" style="fill: #0000ff; stroke: #0000ff; stroke: #0000ff"/>
<path d="M 0 2
C 0.530406 2 1.03916 1.789267 1.414214 1.414214
C 1.789267 1.03916 2 0.530406 2 0
C 2 -0.530406 1.789267 -1.03916 1.414214 -1.414214
C 1.03916 -1.789267 0.530406 -2 0 -2
C -0.530406 -2 -1.03916 -1.789267 -1.414214 -1.414214
C -1.789267 -1.03916 -2 -0.530406 -2 0
C -2 0.530406 -1.789267 1.03916 -1.414214 1.414214
C -1.03916 1.789267 -0.530406 2 0 2
z
" transform="translate(576.151273 256.5504)" style="fill: #0000ff; stroke: #0000ff; stroke: #0000ff"/>
<path d="M 0 2
C 0.530406 2 1.03916 1.789267 1.414214 1.414214
C 1.789267 1.03916 2 0.530406 2 0
C 2 -0.530406 1.789267 -1.03916 1.414214 -1.414214
C 1.03916 -1.789267 0.530406 -2 0 -2
C -0.530406 -2 -1.03916 -1.789267 -1.414214 -1.414214
C -1.789267 -1.03916 -2 -0.530406 -2 0
C -2 0.530406 -1.789267 1.03916 -1.414214 1.414214
C -1.03916 1.789267 -0.530406 2 0 2
z
" transform="translate(618.747636 256.5504)" style="fill: #0000ff; stroke: #0000ff; stroke: #0000ff"/>
<path d="M 0 2
C 0.530406 2 1.03916 1.789267 1.414214 1.414214
C 1.789267 1.03916 2 0.530406 2 0
C 2 -0.530406 1.789267 -1.03916 1.414214 -1.414214
C 1.03916 -1.789267 0.530406 -2 0 -2
C -0.530406 -2 -1.03916 -1.789267 -1.414214 -1.414214
C -1.789267 -1.03916 -2 -0.530406 -2 0
C -2 0.530406 -1.789267 1.03916 -1.414214 1.414214
C -1.03916 1.789267 -0.530406 2 0 2
z
" transform="translate(661.344 257.887488)" style="fill: #0000ff; stroke: #0000ff; stroke: #0000ff"/>
<path d="M 0 2
C 0.530406 2 1.03916 1.789267 1.414214 1.414214
C 1.789267 1.03916 2 0.530406 2 0
C 2 -0.530406 1.789267 -1.03916 1.414214 -1.414214
C 1.03916 -1.789267 0.530406 -2 0 -2
C -0.530406 -2 -1.03916 -1.789267 -1.414214 -1.414214
C -1.789267 -1.03916 -2 -0.530406 -2 0
C -2 0.530406 -1.789267 1.03916 -1.414214 1.414214
C -1.03916 1.789267 -0.530406 2 0 2
z
" transform="translate(703.940364 258.667456)" style="fill: #0000ff; stroke: #0000ff; stroke: #0000ff"/>
<path d="M 0 2
C 0.530406 2 1.03916 1.789267 1.414214 1.414214
C 1.789267 1.03916 2 0.530406 2 0
C 2 -0.530406 1.789267 -1.03916 1.414214 -1.414214
C 1.03916 -1.789267 0.530406 -2 0 -2
C -0.530406 -2 -1.03916 -1.789267 -1.414214 -1.414214
C -1.789267 -1.03916 -2 -0.530406 -2 0
C -2 0.530406 -1.789267 1.03916 -1.414214 1.414214
C -1.03916 1.789267 -0.530406 2 0 2
z
" transform="translate(746.536727 259.001728)" style="fill: #0000ff; stroke: #0000ff; stroke: #0000ff"/>
<path d="M 0 2
C 0.530406 2 1.03916 1.789267 1.414214 1.414214
C 1.789267 1.03916 2 0.530406 2 0
C 2 -0.530406 1.789267 -1.03916 1.414214 -1.414214
C 1.03916 -1.789267 0.530406 -2 0 -2
C -0.530406 -2 -1.03916 -1.789267 -1.414214 -1.414214
C -1.789267 -1.03916 -2 -0.530406 -2 0
C -2 0.530406 -1.789267 1.03916 -1.414214 1.414214
C -1.03916 1.789267 -0.530406 2 0 2
z
" transform="translate(789.133091 259.224576)" style="fill: #0000ff; stroke: #0000ff; stroke: #0000ff"/>
<path d="M 0 2
C 0.530406 2 1.03916 1.789267 1.414214 1.414214
C 1.789267 1.03916 2 0.530406 2 0
C 2 -0.530406 1.789267 -1.03916 1.414214 -1.414214
C 1.03916 -1.789267 0.530406 -2 0 -2
C -0.530406 -2 -1.03916 -1.789267 -1.414214 -1.414214
C -1.789267 -1.03916 -2 -0.530406 -2 0
C -2 0.530406 -1.789267 1.03916 -1.414214 1.414214
C -1.03916 1.789267 -0.530406 2 0 2
z
" transform="translate(831.729455 259.447424)" style="fill: #0000ff; stroke: #0000ff; stroke: #0000ff"/>
</g>
</g>
<g id="line2d_73">
<path d="M 490.958545 256.5504
L 533.554909 253.653376
L 576.151273 248.527872
L 618.747636 245.408
L 661.344 222.00896
L 703.940364 205.741056
L 746.536727 200.8384
L 789.133091 197.941376
L 831.729455 203.06688
" clip-path="url(#p2471ae372f)" style="fill: none; stroke-dasharray: 7.585,3.28; stroke-dashoffset: 0; stroke: #008000; stroke-width: 2.05"/>
<g clip-path="url(#p2471ae372f)">
<path d="M -2 2
L 2 2
L 2 -2
L -2 -2
z
" transform="translate(490.958545 256.5504)" style="fill: #008000; stroke: #008000; stroke-linejoin: miter; stroke: #008000; stroke-linejoin: miter"/>
<path d="M -2 2
L 2 2
L 2 -2
L -2 -2
z
" transform="translate(533.554909 253.653376)" style="fill: #008000; stroke: #008000; stroke-linejoin: miter; stroke: #008000; stroke-linejoin: miter"/>
<path d="M -2 2
L 2 2
L 2 -2
L -2 -2
z
" transform="translate(576.151273 248.527872)" style="fill: #008000; stroke: #008000; stroke-linejoin: miter; stroke: #008000; stroke-linejoin: miter"/>
<path d="M -2 2
L 2 2
L 2 -2
L -2 -2
z
" transform="translate(618.747636 245.408)" style="fill: #008000; stroke: #008000; stroke-linejoin: miter; stroke: #008000; stroke-linejoin: miter"/>
<path d="M -2 2
L 2 2
L 2 -2
L -2 -2
z
" transform="translate(661.344 222.00896)" style="fill: #008000; stroke: #008000; stroke-linejoin: miter; stroke: #008000; stroke-linejoin: miter"/>
<path d="M -2 2
L 2 2
L 2 -2
L -2 -2
z
" transform="translate(703.940364 205.741056)" style="fill: #008000; stroke: #008000; stroke-linejoin: miter; stroke: #008000; stroke-linejoin: miter"/>
<path d="M -2 2
L 2 2
L 2 -2
L -2 -2
z
" transform="translate(746.536727 200.8384)" style="fill: #008000; stroke: #008000; stroke-linejoin: miter; stroke: #008000; stroke-linejoin: miter"/>
<path d="M -2 2
L 2 2
L 2 -2
L -2 -2
z
" transform="translate(789.133091 197.941376)" style="fill: #008000; stroke: #008000; stroke-linejoin: miter; stroke: #008000; stroke-linejoin: miter"/>
<path d="M -2 2
L 2 2
L 2 -2
L -2 -2
z
" transform="translate(831.729455 203.06688)" style="fill: #008000; stroke: #008000; stroke-linejoin: miter; stroke: #008000; stroke-linejoin: miter"/>
</g>
</g>
<g id="line2d_74">
<path d="M 490.958545 256.5504
L 533.554909 256.5504
L 576.151273 250.310656
L 618.747636 245.408
L 661.344 195.935744
L 703.940364 146.686336
L 746.536727 122.173056
L 789.133091 95.654144
L 831.729455 86.07168
" clip-path="url(#p2471ae372f)" style="fill: none; stroke-dasharray: 13.12,3.28,2.05,3.28; stroke-dashoffset: 0; stroke: #ff0000; stroke-width: 2.05"/>
<g clip-path="url(#p2471ae372f)">
<path d="M 0 -2
L -2 2
L 2 2
z
" transform="translate(490.958545 256.5504)" style="fill: #ff0000; stroke: #ff0000; stroke-linejoin: miter; stroke: #ff0000; stroke-linejoin: miter"/>
<path d="M 0 -2
L -2 2
L 2 2
z
" transform="translate(533.554909 256.5504)" style="fill: #ff0000; stroke: #ff0000; stroke-linejoin: miter; stroke: #ff0000; stroke-linejoin: miter"/>
<path d="M 0 -2
L -2 2
L 2 2
z
" transform="translate(576.151273 250.310656)" style="fill: #ff0000; stroke: #ff0000; stroke-linejoin: miter; stroke: #ff0000; stroke-linejoin: miter"/>
<path d="M 0 -2
L -2 2
L 2 2
z
" transform="translate(618.747636 245.408)" style="fill: #ff0000; stroke: #ff0000; stroke-linejoin: miter; stroke: #ff0000; stroke-linejoin: miter"/>
<path d="M 0 -2
L -2 2
L 2 2
z
" transform="translate(661.344 195.935744)" style="fill: #ff0000; stroke: #ff0000; stroke-linejoin: miter; stroke: #ff0000; stroke-linejoin: miter"/>
<path d="M 0 -2
L -2 2
L 2 2
z
" transform="translate(703.940364 146.686336)" style="fill: #ff0000; stroke: #ff0000; stroke-linejoin: miter; stroke: #ff0000; stroke-linejoin: miter"/>
<path d="M 0 -2
L -2 2
L 2 2
z
" transform="translate(746.536727 122.173056)" style="fill: #ff0000; stroke: #ff0000; stroke-linejoin: miter; stroke: #ff0000; stroke-linejoin: miter"/>
<path d="M 0 -2
L -2 2
L 2 2
z
" transform="translate(789.133091 95.654144)" style="fill: #ff0000; stroke: #ff0000; stroke-linejoin: miter; stroke: #ff0000; stroke-linejoin: miter"/>
<path d="M 0 -2
L -2 2
L 2 2
z
" transform="translate(831.729455 86.07168)" style="fill: #ff0000; stroke: #ff0000; stroke-linejoin: miter; stroke: #ff0000; stroke-linejoin: miter"/>
</g>
</g>
<g id="line2d_75">
<path d="M 490.958545 256.5504
L 533.554909 256.5504
L 576.151273 265.687168
L 618.747636 265.687168
L 661.344 228.6944
L 703.940364 321.399168
L 746.536727 321.399168
L 789.133091 312.2624
L 831.729455 303.125632
" clip-path="url(#p2471ae372f)" style="fill: none; stroke-dasharray: 2.05,3.3825; stroke-dashoffset: 0; stroke: #800080; stroke-width: 2.05"/>
<g clip-path="url(#p2471ae372f)">
<path d="M -0 2.828427
L 1.697056 0
L 0 -2.828427
L -1.697056 -0
z
" transform="translate(490.958545 256.5504)" style="fill: #800080; stroke: #800080; stroke-linejoin: miter; stroke: #800080; stroke-linejoin: miter"/>
<path d="M -0 2.828427
L 1.697056 0
L 0 -2.828427
L -1.697056 -0
z
" transform="translate(533.554909 256.5504)" style="fill: #800080; stroke: #800080; stroke-linejoin: miter; stroke: #800080; stroke-linejoin: miter"/>
<path d="M -0 2.828427
L 1.697056 0
L 0 -2.828427
L -1.697056 -0
z
" transform="translate(576.151273 265.687168)" style="fill: #800080; stroke: #800080; stroke-linejoin: miter; stroke: #800080; stroke-linejoin: miter"/>
<path d="M -0 2.828427
L 1.697056 0
L 0 -2.828427
L -1.697056 -0
z
" transform="translate(618.747636 265.687168)" style="fill: #800080; stroke: #800080; stroke-linejoin: miter; stroke: #800080; stroke-linejoin: miter"/>
<path d="M -0 2.828427
L 1.697056 0
L 0 -2.828427
L -1.697056 -0
z
" transform="translate(661.344 228.6944)" style="fill: #800080; stroke: #800080; stroke-linejoin: miter; stroke: #800080; stroke-linejoin: miter"/>
<path d="M -0 2.828427
L 1.697056 0
L 0 -2.828427
L -1.697056 -0
z
" transform="translate(703.940364 321.399168)" style="fill: #800080; stroke: #800080; stroke-linejoin: miter; stroke: #800080; stroke-linejoin: miter"/>
<path d="M -0 2.828427
L 1.697056 0
L 0 -2.828427
L -1.697056 -0
z
" transform="translate(746.536727 321.399168)" style="fill: #800080; stroke: #800080; stroke-linejoin: miter; stroke: #800080; stroke-linejoin: miter"/>
<path d="M -0 2.828427
L 1.697056 0
L 0 -2.828427
L -1.697056 -0
z
" transform="translate(789.133091 312.2624)" style="fill: #800080; stroke: #800080; stroke-linejoin: miter; stroke: #800080; stroke-linejoin: miter"/>
<path d="M -0 2.828427
L 1.697056 0
L 0 -2.828427
L -1.697056 -0
z
" transform="translate(831.729455 303.125632)" style="fill: #800080; stroke: #800080; stroke-linejoin: miter; stroke: #800080; stroke-linejoin: miter"/>
</g>
</g>
<g id="line2d_76">
<path d="M 473.92 256.5504
L 848.768 256.5504
" clip-path="url(#p2471ae372f)" style="fill: none; stroke-dasharray: 2.96,1.28; stroke-dashoffset: 0; stroke: #808080; stroke-width: 0.8"/>
</g>
<g id="patch_6">
<path d="M 473.92 333.44
L 473.92 73.92
" style="fill: none; stroke: #000000; stroke-linejoin: miter; stroke-linecap: square"/>
</g>
<g id="patch_7">
<path d="M 473.92 333.44
L 848.768 333.44
" style="fill: none; stroke: #000000; stroke-linejoin: miter; stroke-linecap: square"/>
</g>
<g id="text_39">
<text style="font-size: 12px; font-family: 'DejaVu Sans', 'Liberation Sans', sans-serif; text-anchor: middle; fill: #262626" x="661.344" y="68.52" transform="rotate(-0 661.344 68.52)">NH White</text>
</g>
</g>
<g id="axes_3">
<g id="patch_8">
<path d="M 903.936 333.44
L 1278.784 333.44
L 1278.784 73.92
L 903.936 73.92
z
" style="fill: #ffffff"/>
</g>
<g id="matplotlib.axis_5">
<g id="xtick_19">
<g id="line2d_77">
<path d="M 920.974545 333.44
L 920.974545 73.92
" clip-path="url(#p7671c64854)" style="fill: none; stroke-dasharray: 2.22,0.96; stroke-dashoffset: 0; stroke: #b0b0b0; stroke-opacity: 0.8; stroke-width: 0.6"/>
</g>
<g id="line2d_78">
<g>
<path d="M 0 0
L 0 -3.85
" transform="translate(920.974545 333.44)" style="stroke: #000000; stroke: #000000"/>
</g>
</g>
<g id="text_40">
<text style="font-size: 12px; font-family: 'DejaVu Sans', 'Liberation Sans', sans-serif; text-anchor: middle" x="920.974545" y="346.058125" transform="rotate(-0 920.974545 346.058125)">2016</text>
</g>
</g>
<g id="xtick_20">
<g id="line2d_79">
<path d="M 963.570909 333.44
L 963.570909 73.92
" clip-path="url(#p7671c64854)" style="fill: none; stroke-dasharray: 2.22,0.96; stroke-dashoffset: 0; stroke: #b0b0b0; stroke-opacity: 0.8; stroke-width: 0.6"/>
</g>
<g id="line2d_80">
<g>
<path d="M 0 0
L 0 -3.85
" transform="translate(963.570909 333.44)" style="stroke: #000000; stroke: #000000"/>
</g>
</g>
<g id="text_41">
<text style="font-size: 12px; font-family: 'DejaVu Sans', 'Liberation Sans', sans-serif; text-anchor: middle" x="963.570909" y="346.058125" transform="rotate(-0 963.570909 346.058125)">2017</text>
</g>
</g>
<g id="xtick_21">
<g id="line2d_81">
<path d="M 1006.167273 333.44
L 1006.167273 73.92
" clip-path="url(#p7671c64854)" style="fill: none; stroke-dasharray: 2.22,0.96; stroke-dashoffset: 0; stroke: #b0b0b0; stroke-opacity: 0.8; stroke-width: 0.6"/>
</g>
<g id="line2d_82">
<g>
<path d="M 0 0
L 0 -3.85
" transform="translate(1006.167273 333.44)" style="stroke: #000000; stroke: #000000"/>
</g>
</g>
<g id="text_42">
<text style="font-size: 12px; font-family: 'DejaVu Sans', 'Liberation Sans', sans-serif; text-anchor: middle" x="1006.167273" y="346.058125" transform="rotate(-0 1006.167273 346.058125)">2018</text>
</g>
</g>
<g id="xtick_22">
<g id="line2d_83">
<path d="M 1048.763636 333.44
L 1048.763636 73.92
" clip-path="url(#p7671c64854)" style="fill: none; stroke-dasharray: 2.22,0.96; stroke-dashoffset: 0; stroke: #b0b0b0; stroke-opacity: 0.8; stroke-width: 0.6"/>
</g>
<g id="line2d_84">
<g>
<path d="M 0 0
L 0 -3.85
" transform="translate(1048.763636 333.44)" style="stroke: #000000; stroke: #000000"/>
</g>
</g>
<g id="text_43">
<text style="font-size: 12px; font-family: 'DejaVu Sans', 'Liberation Sans', sans-serif; text-anchor: middle" x="1048.763636" y="346.058125" transform="rotate(-0 1048.763636 346.058125)">2019</text>
</g>
</g>
<g id="xtick_23">
<g id="line2d_85">
<path d="M 1091.36 333.44
L 1091.36 73.92
" clip-path="url(#p7671c64854)" style="fill: none; stroke-dasharray: 2.22,0.96; stroke-dashoffset: 0; stroke: #b0b0b0; stroke-opacity: 0.8; stroke-width: 0.6"/>
</g>
<g id="line2d_86">
<g>
<path d="M 0 0
L 0 -3.85
" transform="translate(1091.36 333.44)" style="stroke: #000000; stroke: #000000"/>
</g>
</g>
<g id="text_44">
<text style="font-size: 12px; font-family: 'DejaVu Sans', 'Liberation Sans', sans-serif; text-anchor: middle" x="1091.36" y="346.058125" transform="rotate(-0 1091.36 346.058125)">2020</text>
</g>
</g>
<g id="xtick_24">
<g id="line2d_87">
<path d="M 1133.956364 333.44
L 1133.956364 73.92
" clip-path="url(#p7671c64854)" style="fill: none; stroke-dasharray: 2.22,0.96; stroke-dashoffset: 0; stroke: #b0b0b0; stroke-opacity: 0.8; stroke-width: 0.6"/>
</g>
<g id="line2d_88">
<g>
<path d="M 0 0
L 0 -3.85
" transform="translate(1133.956364 333.44)" style="stroke: #000000; stroke: #000000"/>
</g>
</g>
<g id="text_45">
<text style="font-size: 12px; font-family: 'DejaVu Sans', 'Liberation Sans', sans-serif; text-anchor: middle" x="1133.956364" y="346.058125" transform="rotate(-0 1133.956364 346.058125)">2021</text>
</g>
</g>
<g id="xtick_25">
<g id="line2d_89">
<path d="M 1176.552727 333.44
L 1176.552727 73.92
" clip-path="url(#p7671c64854)" style="fill: none; stroke-dasharray: 2.22,0.96; stroke-dashoffset: 0; stroke: #b0b0b0; stroke-opacity: 0.8; stroke-width: 0.6"/>
</g>
<g id="line2d_90">
<g>
<path d="M 0 0
L 0 -3.85
" transform="translate(1176.552727 333.44)" style="stroke: #000000; stroke: #000000"/>
</g>
</g>
<g id="text_46">
<text style="font-size: 12px; font-family: 'DejaVu Sans', 'Liberation Sans', sans-serif; text-anchor: middle" x="1176.552727" y="346.058125" transform="rotate(-0 1176.552727 346.058125)">2022</text>
</g>
</g>
<g id="xtick_26">
<g id="line2d_91">
<path d="M 1219.149091 333.44
L 1219.149091 73.92
" clip-path="url(#p7671c64854)" style="fill: none; stroke-dasharray: 2.22,0.96; stroke-dashoffset: 0; stroke: #b0b0b0; stroke-opacity: 0.8; stroke-width: 0.6"/>
</g>
<g id="line2d_92">
<g>
<path d="M 0 0
L 0 -3.85
" transform="translate(1219.149091 333.44)" style="stroke: #000000; stroke: #000000"/>
</g>
</g>
<g id="text_47">
<text style="font-size: 12px; font-family: 'DejaVu Sans', 'Liberation Sans', sans-serif; text-anchor: middle" x="1219.149091" y="346.058125" transform="rotate(-0 1219.149091 346.058125)">2023</text>
</g>
</g>
<g id="xtick_27">
<g id="line2d_93">
<path d="M 1261.745455 333.44
L 1261.745455 73.92
" clip-path="url(#p7671c64854)" style="fill: none; stroke-dasharray: 2.22,0.96; stroke-dashoffset: 0; stroke: #b0b0b0; stroke-opacity: 0.8; stroke-width: 0.6"/>
</g>
<g id="line2d_94">
<g>
<path d="M 0 0
L 0 -3.85
" transform="translate(1261.745455 333.44)" style="stroke: #000000; stroke: #000000"/>
</g>
</g>
<g id="text_48">
<text style="font-size: 12px; font-family: 'DejaVu Sans', 'Liberation Sans', sans-serif; text-anchor: middle" x="1261.745455" y="346.058125" transform="rotate(-0 1261.745455 346.058125)">2024</text>
</g>
</g>
<g id="text_49">
<text style="font-size: 12px; font-family: 'DejaVu Sans', 'Liberation Sans', sans-serif; text-anchor: middle" x="1091.36" y="361.671875" transform="rotate(-0 1091.36 361.671875)">Year</text>
</g>
</g>
<g id="matplotlib.axis_6">
<g id="ytick_16">
<g id="line2d_95">
<path d="M 903.936 321.024
L 1278.784 321.024
" clip-path="url(#p7671c64854)" style="fill: none; stroke-dasharray: 2.22,0.96; stroke-dashoffset: 0; stroke: #b0b0b0; stroke-opacity: 0.8; stroke-width: 0.6"/>
</g>
<g id="line2d_96">
<g>
<path d="M 0 0
L 3.85 0
" transform="translate(903.936 321.024)" style="stroke: #000000; stroke: #000000"/>
</g>
</g>
<g id="text_50">
<text style="font-size: 12px; font-family: 'DejaVu Sans', 'Liberation Sans', sans-serif; text-anchor: end" x="900.436" y="325.583062" transform="rotate(-0 900.436 325.583062)">100</text>
</g>
</g>
<g id="ytick_17">
<g id="line2d_97">
<path d="M 903.936 280.906667
L 1278.784 280.906667
" clip-path="url(#p7671c64854)" style="fill: none; stroke-dasharray: 2.22,0.96; stroke-dashoffset: 0; stroke: #b0b0b0; stroke-opacity: 0.8; stroke-width: 0.6"/>
</g>
<g id="line2d_98">
<g>
<path d="M 0 0
L 3.85 0
" transform="translate(903.936 280.906667)" style="stroke: #000000; stroke: #000000"/>
</g>
</g>
<g id="text_51">
<text style="font-size: 12px; font-family: 'DejaVu Sans', 'Liberation Sans', sans-serif; text-anchor: end" x="900.436" y="285.465729" transform="rotate(-0 900.436 285.465729)">150</text>
</g>
</g>
<g id="ytick_18">
<g id="line2d_99">
<path d="M 903.936 240.789333
L 1278.784 240.789333
" clip-path="url(#p7671c64854)" style="fill: none; stroke-dasharray: 2.22,0.96; stroke-dashoffset: 0; stroke: #b0b0b0; stroke-opacity: 0.8; stroke-width: 0.6"/>
</g>
<g id="line2d_100">
<g>
<path d="M 0 0
L 3.85 0
" transform="translate(903.936 240.789333)" style="stroke: #000000; stroke: #000000"/>
</g>
</g>
<g id="text_52">
<text style="font-size: 12px; font-family: 'DejaVu Sans', 'Liberation Sans', sans-serif; text-anchor: end" x="900.436" y="245.348396" transform="rotate(-0 900.436 245.348396)">200</text>
</g>
</g>
<g id="ytick_19">
<g id="line2d_101">
<path d="M 903.936 200.672
L 1278.784 200.672
" clip-path="url(#p7671c64854)" style="fill: none; stroke-dasharray: 2.22,0.96; stroke-dashoffset: 0; stroke: #b0b0b0; stroke-opacity: 0.8; stroke-width: 0.6"/>
</g>
<g id="line2d_102">
<g>
<path d="M 0 0
L 3.85 0
" transform="translate(903.936 200.672)" style="stroke: #000000; stroke: #000000"/>
</g>
</g>
<g id="text_53">
<text style="font-size: 12px; font-family: 'DejaVu Sans', 'Liberation Sans', sans-serif; text-anchor: end" x="900.436" y="205.231062" transform="rotate(-0 900.436 205.231062)">250</text>
</g>
</g>
<g id="ytick_20">
<g id="line2d_103">
<path d="M 903.936 160.554667
L 1278.784 160.554667
" clip-path="url(#p7671c64854)" style="fill: none; stroke-dasharray: 2.22,0.96; stroke-dashoffset: 0; stroke: #b0b0b0; stroke-opacity: 0.8; stroke-width: 0.6"/>
</g>
<g id="line2d_104">
<g>
<path d="M 0 0
L 3.85 0
" transform="translate(903.936 160.554667)" style="stroke: #000000; stroke: #000000"/>
</g>
</g>
<g id="text_54">
<text style="font-size: 12px; font-family: 'DejaVu Sans', 'Liberation Sans', sans-serif; text-anchor: end" x="900.436" y="165.113729" transform="rotate(-0 900.436 165.113729)">300</text>
</g>
</g>
<g id="ytick_21">
<g id="line2d_105">
<path d="M 903.936 120.437333
L 1278.784 120.437333
" clip-path="url(#p7671c64854)" style="fill: none; stroke-dasharray: 2.22,0.96; stroke-dashoffset: 0; stroke: #b0b0b0; stroke-opacity: 0.8; stroke-width: 0.6"/>
</g>
<g id="line2d_106">
<g>
<path d="M 0 0
L 3.85 0
" transform="translate(903.936 120.437333)" style="stroke: #000000; stroke: #000000"/>
</g>
</g>
<g id="text_55">
<text style="font-size: 12px; font-family: 'DejaVu Sans', 'Liberation Sans', sans-serif; text-anchor: end" x="900.436" y="124.996396" transform="rotate(-0 900.436 124.996396)">350</text>
</g>
</g>
<g id="ytick_22">
<g id="line2d_107">
<path d="M 903.936 80.32
L 1278.784 80.32
" clip-path="url(#p7671c64854)" style="fill: none; stroke-dasharray: 2.22,0.96; stroke-dashoffset: 0; stroke: #b0b0b0; stroke-opacity: 0.8; stroke-width: 0.6"/>
</g>
<g id="line2d_108">
<g>
<path d="M 0 0
L 3.85 0
" transform="translate(903.936 80.32)" style="stroke: #000000; stroke: #000000"/>
</g>
</g>
<g id="text_56">
<text style="font-size: 12px; font-family: 'DejaVu Sans', 'Liberation Sans', sans-serif; text-anchor: end" x="900.436" y="84.879062" transform="rotate(-0 900.436 84.879062)">400</text>
</g>
</g>
<g id="text_57">
<text style="font-size: 12px; font-family: 'DejaVu Sans', 'Liberation Sans', sans-serif; text-anchor: middle" x="871.535375" y="203.68" transform="rotate(-90 871.535375 203.68)">Index (2016=100%)</text>
</g>
</g>
<g id="line2d_109">
<path d="M 920.974545 321.024
L 963.570909 321.024
L 1006.167273 321.264704
L 1048.763636 321.425173
L 1091.36 321.585643
L 1133.956364 321.826347
L 1176.552727 321.906581
L 1219.149091 321.906581
L 1261.745455 321.906581
" clip-path="url(#p7671c64854)" style="fill: none; stroke: #0000ff; stroke-width: 2.05; stroke-linecap: square"/>
<g clip-path="url(#p7671c64854)">
<path d="M 0 2
C 0.530406 2 1.03916 1.789267 1.414214 1.414214
C 1.789267 1.03916 2 0.530406 2 0
C 2 -0.530406 1.789267 -1.03916 1.414214 -1.414214
C 1.03916 -1.789267 0.530406 -2 0 -2
C -0.530406 -2 -1.03916 -1.789267 -1.414214 -1.414214
C -1.789267 -1.03916 -2 -0.530406 -2 0
C -2 0.530406 -1.789267 1.03916 -1.414214 1.414214
C -1.03916 1.789267 -0.530406 2 0 2
z
" transform="translate(920.974545 321.024)" style="fill: #0000ff; stroke: #0000ff; stroke: #0000ff"/>
<path d="M 0 2
C 0.530406 2 1.03916 1.789267 1.414214 1.414214
C 1.789267 1.03916 2 0.530406 2 0
C 2 -0.530406 1.789267 -1.03916 1.414214 -1.414214
C 1.03916 -1.789267 0.530406 -2 0 -2
C -0.530406 -2 -1.03916 -1.789267 -1.414214 -1.414214
C -1.789267 -1.03916 -2 -0.530406 -2 0
C -2 0.530406 -1.789267 1.03916 -1.414214 1.414214
C -1.03916 1.789267 -0.530406 2 0 2
z
" transform="translate(963.570909 321.024)" style="fill: #0000ff; stroke: #0000ff; stroke: #0000ff"/>
<path d="M 0 2
C 0.530406 2 1.03916 1.789267 1.414214 1.414214
C 1.789267 1.03916 2 0.530406 2 0
C 2 -0.530406 1.789267 -1.03916 1.414214 -1.414214
C 1.03916 -1.789267 0.530406 -2 0 -2
C -0.530406 -2 -1.03916 -1.789267 -1.414214 -1.414214
C -1.789267 -1.03916 -2 -0.530406 -2 0
C -2 0.530406 -1.789267 1.03916 -1.414214 1.414214
C -1.03916 1.789267 -0.530406 2 0 2
z
" transform="translate(1006.167273 321.264704)" style="fill: #0000ff; stroke: #0000ff; stroke: #0000ff"/>
<path d="M 0 2
C 0.530406 2 1.03916 1.789267 1.414214 1.414214
C 1.789267 1.03916 2 0.530406 2 0
C 2 -0.530406 1.789267 -1.03916 1.414214 -1.414214
C 1.03916 -1.789267 0.530406 -2 0 -2
C -0.530406 -2 -1.03916 -1.789267 -1.414214 -1.414214
C -1.789267 -1.03916 -2 -0.530406 -2 0
C -2 0.530406 -1.789267 1.03916 -1.414214 1.414214
C -1.03916 1.789267 -0.530406 2 0 2
z
" transform="translate(1048.763636 321.425173)" style="fill: #0000ff; stroke: #0000ff; stroke: #0000ff"/>
<path d="M 0 2
C 0.530406 2 1.03916 1.789267 1.414214 1.414214
C 1.789267 1.03916 2 0.530406 2 0
C 2 -0.530406 1.789267 -1.03916 1.414214 -1.414214
C 1.03916 -1.789267 0.530406 -2 0 -2
C -0.530406 -2 -1.03916 -1.789267 -1.414214 -1.414214
C -1.789267 -1.03916 -2 -0.530406 -2 0
C -2 0.530406 -1.789267 1.03916 -1.414214 1.414214
C -1.03916 1.789267 -0.530406 2 0 2
z
" transform="translate(1091.36 321.585643)" style="fill: #0000ff; stroke: #0000ff; stroke: #0000ff"/>
<path d="M 0 2
C 0.530406 2 1.03916 1.789267 1.414214 1.414214
C 1.789267 1.03916 2 0.530406 2 0
C 2 -0.530406 1.789267 -1.03916 1.414214 -1.414214
C 1.03916 -1.789267 0.530406 -2 0 -2
C -0.530406 -2 -1.03916 -1.789267 -1.414214 -1.414214
C -1.789267 -1.03916 -2 -0.530406 -2 0
C -2 0.530406 -1.789267 1.03916 -1.414214 1.414214
C -1.03916 1.789267 -0.530406 2 0 2
z
" transform="translate(1133.956364 321.826347)" style="fill: #0000ff; stroke: #0000ff; stroke: #0000ff"/>
<path d="M 0 2
C 0.530406 2 1.03916 1.789267 1.414214 1.414214
C 1.789267 1.03916 2 0.530406 2 0
C 2 -0.530406 1.789267 -1.03916 1.414214 -1.414214
C 1.03916 -1.789267 0.530406 -2 0 -2
C -0.530406 -2 -1.03916 -1.789267 -1.414214 -1.414214
C -1.789267 -1.03916 -2 -0.530406 -2 0
C -2 0.530406 -1.789267 1.03916 -1.414214 1.414214
C -1.03916 1.789267 -0.530406 2 0 2
z
" transform="translate(1176.552727 321.906581)" style="fill: #0000ff; stroke: #0000ff; stroke: #0000ff"/>
<path d="M 0 2
C 0.530406 2 1.03916 1.789267 1.414214 1.414214
C 1.789267 1.03916 2 0.530406 2 0
C 2 -0.530406 1.789267 -1.03916 1.414214 -1.414214
C 1.03916 -1.789267 0.530406 -2 0 -2
C -0.530406 -2 -1.03916 -1.789267 -1.414214 -1.414214
C -1.789267 -1.03916 -2 -0.530406 -2 0
C -2 0.530406 -1.789267 1.03916 -1.414214 1.414214
C -1.03916 1.789267 -0.530406 2 0 2
z
" transform="translate(1219.149091 321.906581)" style="fill: #0000ff; stroke: #0000ff; stroke: #0000ff"/>
<path d="M 0 2
C 0.530406 2 1.03916 1.789267 1.414214 1.414214
C 1.789267 1.03916 2 0.530406 2 0
C 2 -0.530406 1.789267 -1.03916 1.414214 -1.414214
C 1.03916 -1.789267 0.530406 -2 0 -2
C -0.530406 -2 -1.03916 -1.789267 -1.414214 -1.414214
C -1.789267 -1.03916 -2 -0.530406 -2 0
C -2 0.530406 -1.789267 1.03916 -1.414214 1.414214
C -1.03916 1.789267 -0.530406 2 0 2
z
" transform="translate(1261.745455 321.906581)" style="fill: #0000ff; stroke: #0000ff; stroke: #0000ff"/>
</g>
</g>
<g id="line2d_110">
<path d="M 920.974545 321.024
L 963.570909 298.638528
L 1006.167273 298.638528
L 1048.763636 280.906667
L 1091.36 249.615147
L 1133.956364 236.215957
L 1176.552727 222.816768
L 1219.149091 236.215957
L 1261.745455 245.20224
" clip-path="url(#p7671c64854)" style="fill: none; stroke-dasharray: 7.585,3.28; stroke-dashoffset: 0; stroke: #008000; stroke-width: 2.05"/>
<g clip-path="url(#p7671c64854)">
<path d="M -2 2
L 2 2
L 2 -2
L -2 -2
z
" transform="translate(920.974545 321.024)" style="fill: #008000; stroke: #008000; stroke-linejoin: miter; stroke: #008000; stroke-linejoin: miter"/>
<path d="M -2 2
L 2 2
L 2 -2
L -2 -2
z
" transform="translate(963.570909 298.638528)" style="fill: #008000; stroke: #008000; stroke-linejoin: miter; stroke: #008000; stroke-linejoin: miter"/>
<path d="M -2 2
L 2 2
L 2 -2
L -2 -2
z
" transform="translate(1006.167273 298.638528)" style="fill: #008000; stroke: #008000; stroke-linejoin: miter; stroke: #008000; stroke-linejoin: miter"/>
<path d="M -2 2
L 2 2
L 2 -2
L -2 -2
z
" transform="translate(1048.763636 280.906667)" style="fill: #008000; stroke: #008000; stroke-linejoin: miter; stroke: #008000; stroke-linejoin: miter"/>
<path d="M -2 2
L 2 2
L 2 -2
L -2 -2
z
" transform="translate(1091.36 249.615147)" style="fill: #008000; stroke: #008000; stroke-linejoin: miter; stroke: #008000; stroke-linejoin: miter"/>
<path d="M -2 2
L 2 2
L 2 -2
L -2 -2
z
" transform="translate(1133.956364 236.215957)" style="fill: #008000; stroke: #008000; stroke-linejoin: miter; stroke: #008000; stroke-linejoin: miter"/>
<path d="M -2 2
L 2 2
L 2 -2
L -2 -2
z
" transform="translate(1176.552727 222.816768)" style="fill: #008000; stroke: #008000; stroke-linejoin: miter; stroke: #008000; stroke-linejoin: miter"/>
<path d="M -2 2
L 2 2
L 2 -2
L -2 -2
z
" transform="translate(1219.149091 236.215957)" style="fill: #008000; stroke: #008000; stroke-linejoin: miter; stroke: #008000; stroke-linejoin: miter"/>
<path d="M -2 2
L 2 2
L 2 -2
L -2 -2
z
" transform="translate(1261.745455 245.20224)" style="fill: #008000; stroke: #008000; stroke-linejoin: miter; stroke: #008000; stroke-linejoin: miter"/>
</g>
</g>
<g id="line2d_111">
<path d="M 920.974545 321.024
L 963.570909 303.853781
L 1006.167273 286.844032
L 1048.763636 269.673813
L 1091.36 189.439147
L 1133.956364 86.016661
L 1176.552727 97.730923
L 1219.149091 120.998976
L 1261.745455 154.456832
" clip-path="url(#p7671c64854)" style="fill: none; stroke-dasharray: 13.12,3.28,2.05,3.28; stroke-dashoffset: 0; stroke: #ff0000; stroke-width: 2.05"/>
<g clip-path="url(#p7671c64854)">
<path d="M 0 -2
L -2 2
L 2 2
z
" transform="translate(920.974545 321.024)" style="fill: #ff0000; stroke: #ff0000; stroke-linejoin: miter; stroke: #ff0000; stroke-linejoin: miter"/>
<path d="M 0 -2
L -2 2
L 2 2
z
" transform="translate(963.570909 303.853781)" style="fill: #ff0000; stroke: #ff0000; stroke-linejoin: miter; stroke: #ff0000; stroke-linejoin: miter"/>
<path d="M 0 -2
L -2 2
L 2 2
z
" transform="translate(1006.167273 286.844032)" style="fill: #ff0000; stroke: #ff0000; stroke-linejoin: miter; stroke: #ff0000; stroke-linejoin: miter"/>
<path d="M 0 -2
L -2 2
L 2 2
z
" transform="translate(1048.763636 269.673813)" style="fill: #ff0000; stroke: #ff0000; stroke-linejoin: miter; stroke: #ff0000; stroke-linejoin: miter"/>
<path d="M 0 -2
L -2 2
L 2 2
z
" transform="translate(1091.36 189.439147)" style="fill: #ff0000; stroke: #ff0000; stroke-linejoin: miter; stroke: #ff0000; stroke-linejoin: miter"/>
<path d="M 0 -2
L -2 2
L 2 2
z
" transform="translate(1133.956364 86.016661)" style="fill: #ff0000; stroke: #ff0000; stroke-linejoin: miter; stroke: #ff0000; stroke-linejoin: miter"/>
<path d="M 0 -2
L -2 2
L 2 2
z
" transform="translate(1176.552727 97.730923)" style="fill: #ff0000; stroke: #ff0000; stroke-linejoin: miter; stroke: #ff0000; stroke-linejoin: miter"/>
<path d="M 0 -2
L -2 2
L 2 2
z
" transform="translate(1219.149091 120.998976)" style="fill: #ff0000; stroke: #ff0000; stroke-linejoin: miter; stroke: #ff0000; stroke-linejoin: miter"/>
<path d="M 0 -2
L -2 2
L 2 2
z
" transform="translate(1261.745455 154.456832)" style="fill: #ff0000; stroke: #ff0000; stroke-linejoin: miter; stroke: #ff0000; stroke-linejoin: miter"/>
</g>
</g>
<g id="line2d_112">
<path d="M 920.974545 321.024
L 963.570909 321.024
L 1006.167273 314.524992
L 1048.763636 317.814613
L 1091.36 298.317589
L 1133.956364 304.816597
L 1176.552727 288.769664
L 1219.149091 288.769664
L 1261.745455 298.317589
" clip-path="url(#p7671c64854)" style="fill: none; stroke-dasharray: 2.05,3.3825; stroke-dashoffset: 0; stroke: #800080; stroke-width: 2.05"/>
<g clip-path="url(#p7671c64854)">
<path d="M -0 2.828427
L 1.697056 0
L 0 -2.828427
L -1.697056 -0
z
" transform="translate(920.974545 321.024)" style="fill: #800080; stroke: #800080; stroke-linejoin: miter; stroke: #800080; stroke-linejoin: miter"/>
<path d="M -0 2.828427
L 1.697056 0
L 0 -2.828427
L -1.697056 -0
z
" transform="translate(963.570909 321.024)" style="fill: #800080; stroke: #800080; stroke-linejoin: miter; stroke: #800080; stroke-linejoin: miter"/>
<path d="M -0 2.828427
L 1.697056 0
L 0 -2.828427
L -1.697056 -0
z
" transform="translate(1006.167273 314.524992)" style="fill: #800080; stroke: #800080; stroke-linejoin: miter; stroke: #800080; stroke-linejoin: miter"/>
<path d="M -0 2.828427
L 1.697056 0
L 0 -2.828427
L -1.697056 -0
z
" transform="translate(1048.763636 317.814613)" style="fill: #800080; stroke: #800080; stroke-linejoin: miter; stroke: #800080; stroke-linejoin: miter"/>
<path d="M -0 2.828427
L 1.697056 0
L 0 -2.828427
L -1.697056 -0
z
" transform="translate(1091.36 298.317589)" style="fill: #800080; stroke: #800080; stroke-linejoin: miter; stroke: #800080; stroke-linejoin: miter"/>
<path d="M -0 2.828427
L 1.697056 0
L 0 -2.828427
L -1.697056 -0
z
" transform="translate(1133.956364 304.816597)" style="fill: #800080; stroke: #800080; stroke-linejoin: miter; stroke: #800080; stroke-linejoin: miter"/>
<path d="M -0 2.828427
L 1.697056 0
L 0 -2.828427
L -1.697056 -0
z
" transform="translate(1176.552727 288.769664)" style="fill: #800080; stroke: #800080; stroke-linejoin: miter; stroke: #800080; stroke-linejoin: miter"/>
<path d="M -0 2.828427
L 1.697056 0
L 0 -2.828427
L -1.697056 -0
z
" transform="translate(1219.149091 288.769664)" style="fill: #800080; stroke: #800080; stroke-linejoin: miter; stroke: #800080; stroke-linejoin: miter"/>
<path d="M -0 2.828427
L 1.697056 0
L 0 -2.828427
L -1.697056 -0
z
" transform="translate(1261.745455 298.317589)" style="fill: #800080; stroke: #800080; stroke-linejoin: miter; stroke: #800080; stroke-linejoin: miter"/>
</g>
</g>
<g id="line2d_113">
<path d="M 903.936 321.024
L 1278.784 321.024
" clip-path="url(#p7671c64854)" style="fill: none; stroke-dasharray: 2.96,1.28; stroke-dashoffset: 0; stroke: #808080; stroke-width: 0.8"/>
</g>
<g id="patch_9">
<path d="M 903.936 333.44
L 903.936 73.92
" style="fill: none; stroke: #000000; stroke-linejoin: miter; stroke-linecap: square"/>
</g>
<g id="patch_10">
<path d="M 903.936 333.44
L 1278.784 333.44
" style="fill: none; stroke: #000000; stroke-linejoin: miter; stroke-linecap: square"/>
</g>
<g id="text_58">
<text style="font-size: 12px; font-family: 'DejaVu Sans', 'Liberation Sans', sans-serif; text-anchor: middle; fill: #262626" x="1091.36" y="68.52" transform="rotate(-0 1091.36 68.52)">NH Black</text>
</g>
</g>
<g id="axes_4">
<g id="patch_11">
<path d="M 44.032 650.144
L 418.88 650.144
L 418.88 390.624
L 44.032 390.624
z
" style="fill: #ffffff"/>
</g>
<g id="matplotlib.axis_7">
<g id="xtick_28">
<g id="line2d_114">
<path d="M 61.070545 650.144
L 61.070545 390.624
" clip-path="url(#pc52edb78c0)" style="fill: none; stroke-dasharray: 2.22,0.96; stroke-dashoffset: 0; stroke: #b0b0b0; stroke-opacity: 0.8; stroke-width: 0.6"/>
</g>
<g id="line2d_115">
<g>
<path d="M 0 0
L 0 -3.85
" transform="translate(61.070545 650.144)" style="stroke: #000000; stroke: #000000"/>
</g>
</g>
<g id="text_59">
<text style="font-size: 12px; font-family: 'DejaVu Sans', 'Liberation Sans', sans-serif; text-anchor: middle" x="61.070545" y="662.762125" transform="rotate(-0 61.070545 662.762125)">2016</text>
</g>
</g>
<g id="xtick_29">
<g id="line2d_116">
<path d="M 103.666909 650.144
L 103.666909 390.624
" clip-path="url(#pc52edb78c0)" style="fill: none; stroke-dasharray: 2.22,0.96; stroke-dashoffset: 0; stroke: #b0b0b0; stroke-opacity: 0.8; stroke-width: 0.6"/>
</g>
<g id="line2d_117">
<g>
<path d="M 0 0
L 0 -3.85
" transform="translate(103.666909 650.144)" style="stroke: #000000; stroke: #000000"/>
</g>
</g>
<g id="text_60">
<text style="font-size: 12px; font-family: 'DejaVu Sans', 'Liberation Sans', sans-serif; text-anchor: middle" x="103.666909" y="662.762125" transform="rotate(-0 103.666909 662.762125)">2017</text>
</g>
</g>
<g id="xtick_30">
<g id="line2d_118">
<path d="M 146.263273 650.144
L 146.263273 390.624
" clip-path="url(#pc52edb78c0)" style="fill: none; stroke-dasharray: 2.22,0.96; stroke-dashoffset: 0; stroke: #b0b0b0; stroke-opacity: 0.8; stroke-width: 0.6"/>
</g>
<g id="line2d_119">
<g>
<path d="M 0 0
L 0 -3.85
" transform="translate(146.263273 650.144)" style="stroke: #000000; stroke: #000000"/>
</g>
</g>
<g id="text_61">
<text style="font-size: 12px; font-family: 'DejaVu Sans', 'Liberation Sans', sans-serif; text-anchor: middle" x="146.263273" y="662.762125" transform="rotate(-0 146.263273 662.762125)">2018</text>
</g>
</g>
<g id="xtick_31">
<g id="line2d_120">
<path d="M 188.859636 650.144
L 188.859636 390.624
" clip-path="url(#pc52edb78c0)" style="fill: none; stroke-dasharray: 2.22,0.96; stroke-dashoffset: 0; stroke: #b0b0b0; stroke-opacity: 0.8; stroke-width: 0.6"/>
</g>
<g id="line2d_121">
<g>
<path d="M 0 0
L 0 -3.85
" transform="translate(188.859636 650.144)" style="stroke: #000000; stroke: #000000"/>
</g>
</g>
<g id="text_62">
<text style="font-size: 12px; font-family: 'DejaVu Sans', 'Liberation Sans', sans-serif; text-anchor: middle" x="188.859636" y="662.762125" transform="rotate(-0 188.859636 662.762125)">2019</text>
</g>
</g>
<g id="xtick_32">
<g id="line2d_122">
<path d="M 231.456 650.144
L 231.456 390.624
" clip-path="url(#pc52edb78c0)" style="fill: none; stroke-dasharray: 2.22,0.96; stroke-dashoffset: 0; stroke: #b0b0b0; stroke-opacity: 0.8; stroke-width: 0.6"/>
</g>
<g id="line2d_123">
<g>
<path d="M 0 0
L 0 -3.85
" transform="translate(231.456 650.144)" style="stroke: #000000; stroke: #000000"/>
</g>
</g>
<g id="text_63">
<text style="font-size: 12px; font-family: 'DejaVu Sans', 'Liberation Sans', sans-serif; text-anchor: middle" x="231.456" y="662.762125" transform="rotate(-0 231.456 662.762125)">2020</text>
</g>
</g>
<g id="xtick_33">
<g id="line2d_124">
<path d="M 274.052364 650.144
L 274.052364 390.624
" clip-path="url(#pc52edb78c0)" style="fill: none; stroke-dasharray: 2.22,0.96; stroke-dashoffset: 0; stroke: #b0b0b0; stroke-opacity: 0.8; stroke-width: 0.6"/>
</g>
<g id="line2d_125">
<g>
<path d="M 0 0
L 0 -3.85
" transform="translate(274.052364 650.144)" style="stroke: #000000; stroke: #000000"/>
</g>
</g>
<g id="text_64">
<text style="font-size: 12px; font-family: 'DejaVu Sans', 'Liberation Sans', sans-serif; text-anchor: middle" x="274.052364" y="662.762125" transform="rotate(-0 274.052364 662.762125)">2021</text>
</g>
</g>
<g id="xtick_34">
<g id="line2d_126">
<path d="M 316.648727 650.144
L 316.648727 390.624
" clip-path="url(#pc52edb78c0)" style="fill: none; stroke-dasharray: 2.22,0.96; stroke-dashoffset: 0; stroke: #b0b0b0; stroke-opacity: 0.8; stroke-width: 0.6"/>
</g>
<g id="line2d_127">
<g>
<path d="M 0 0
L 0 -3.85
" transform="translate(316.648727 650.144)" style="stroke: #000000; stroke: #000000"/>
</g>
</g>
<g id="text_65">
<text style="font-size: 12px; font-family: 'DejaVu Sans', 'Liberation Sans', sans-serif; text-anchor: middle" x="316.648727" y="662.762125" transform="rotate(-0 316.648727 662.762125)">2022</text>
</g>
</g>
<g id="xtick_35">
<g id="line2d_128">
<path d="M 359.245091 650.144
L 359.245091 390.624
" clip-path="url(#pc52edb78c0)" style="fill: none; stroke-dasharray: 2.22,0.96; stroke-dashoffset: 0; stroke: #b0b0b0; stroke-opacity: 0.8; stroke-width: 0.6"/>
</g>
<g id="line2d_129">
<g>
<path d="M 0 0
L 0 -3.85
" transform="translate(359.245091 650.144)" style="stroke: #000000; stroke: #000000"/>
</g>
</g>
<g id="text_66">
<text style="font-size: 12px; font-family: 'DejaVu Sans', 'Liberation Sans', sans-serif; text-anchor: middle" x="359.245091" y="662.762125" transform="rotate(-0 359.245091 662.762125)">2023</text>
</g>
</g>
<g id="xtick_36">
<g id="line2d_130">
<path d="M 401.841455 650.144
L 401.841455 390.624
" clip-path="url(#pc52edb78c0)" style="fill: none; stroke-dasharray: 2.22,0.96; stroke-dashoffset: 0; stroke: #b0b0b0; stroke-opacity: 0.8; stroke-width: 0.6"/>
</g>
<g id="line2d_131">
<g>
<path d="M 0 0
L 0 -3.85
" transform="translate(401.841455 650.144)" style="stroke: #000000; stroke: #000000"/>
</g>
</g>
<g id="text_67">
<text style="font-size: 12px; font-family: 'DejaVu Sans', 'Liberation Sans', sans-serif; text-anchor: middle" x="401.841455" y="662.762125" transform="rotate(-0 401.841455 662.762125)">2024</text>
</g>
</g>
<g id="text_68">
<text style="font-size: 12px; font-family: 'DejaVu Sans', 'Liberation Sans', sans-serif; text-anchor: middle" x="231.456" y="678.375875" transform="rotate(-0 231.456 678.375875)">Year</text>
</g>
</g>
<g id="matplotlib.axis_8">
<g id="ytick_23">
<g id="line2d_132">
<path d="M 44.032 627.2
L 418.88 627.2
" clip-path="url(#pc52edb78c0)" style="fill: none; stroke-dasharray: 2.22,0.96; stroke-dashoffset: 0; stroke: #b0b0b0; stroke-opacity: 0.8; stroke-width: 0.6"/>
</g>
<g id="line2d_133">
<g>
<path d="M 0 0
L 3.85 0
" transform="translate(44.032 627.2)" style="stroke: #000000; stroke: #000000"/>
</g>
</g>
<g id="text_69">
<text style="font-size: 12px; font-family: 'DejaVu Sans', 'Liberation Sans', sans-serif; text-anchor: end" x="40.532" y="631.759062" transform="rotate(-0 40.532 631.759062)">100</text>
</g>
</g>
<g id="ytick_24">
<g id="line2d_134">
<path d="M 44.032 595.648
L 418.88 595.648
" clip-path="url(#pc52edb78c0)" style="fill: none; stroke-dasharray: 2.22,0.96; stroke-dashoffset: 0; stroke: #b0b0b0; stroke-opacity: 0.8; stroke-width: 0.6"/>
</g>
<g id="line2d_135">
<g>
<path d="M 0 0
L 3.85 0
" transform="translate(44.032 595.648)" style="stroke: #000000; stroke: #000000"/>
</g>
</g>
<g id="text_70">
<text style="font-size: 12px; font-family: 'DejaVu Sans', 'Liberation Sans', sans-serif; text-anchor: end" x="40.532" y="600.207062" transform="rotate(-0 40.532 600.207062)">120</text>
</g>
</g>
<g id="ytick_25">
<g id="line2d_136">
<path d="M 44.032 564.096
L 418.88 564.096
" clip-path="url(#pc52edb78c0)" style="fill: none; stroke-dasharray: 2.22,0.96; stroke-dashoffset: 0; stroke: #b0b0b0; stroke-opacity: 0.8; stroke-width: 0.6"/>
</g>
<g id="line2d_137">
<g>
<path d="M 0 0
L 3.85 0
" transform="translate(44.032 564.096)" style="stroke: #000000; stroke: #000000"/>
</g>
</g>
<g id="text_71">
<text style="font-size: 12px; font-family: 'DejaVu Sans', 'Liberation Sans', sans-serif; text-anchor: end" x="40.532" y="568.655062" transform="rotate(-0 40.532 568.655062)">140</text>
</g>
</g>
<g id="ytick_26">
<g id="line2d_138">
<path d="M 44.032 532.544
L 418.88 532.544
" clip-path="url(#pc52edb78c0)" style="fill: none; stroke-dasharray: 2.22,0.96; stroke-dashoffset: 0; stroke: #b0b0b0; stroke-opacity: 0.8; stroke-width: 0.6"/>
</g>
<g id="line2d_139">
<g>
<path d="M 0 0
L 3.85 0
" transform="translate(44.032 532.544)" style="stroke: #000000; stroke: #000000"/>
</g>
</g>
<g id="text_72">
<text style="font-size: 12px; font-family: 'DejaVu Sans', 'Liberation Sans', sans-serif; text-anchor: end" x="40.532" y="537.103062" transform="rotate(-0 40.532 537.103062)">160</text>
</g>
</g>
<g id="ytick_27">
<g id="line2d_140">
<path d="M 44.032 500.992
L 418.88 500.992
" clip-path="url(#pc52edb78c0)" style="fill: none; stroke-dasharray: 2.22,0.96; stroke-dashoffset: 0; stroke: #b0b0b0; stroke-opacity: 0.8; stroke-width: 0.6"/>
</g>
<g id="line2d_141">
<g>
<path d="M 0 0
L 3.85 0
" transform="translate(44.032 500.992)" style="stroke: #000000; stroke: #000000"/>
</g>
</g>
<g id="text_73">
<text style="font-size: 12px; font-family: 'DejaVu Sans', 'Liberation Sans', sans-serif; text-anchor: end" x="40.532" y="505.551062" transform="rotate(-0 40.532 505.551062)">180</text>
</g>
</g>
<g id="ytick_28">
<g id="line2d_142">
<path d="M 44.032 469.44
L 418.88 469.44
" clip-path="url(#pc52edb78c0)" style="fill: none; stroke-dasharray: 2.22,0.96; stroke-dashoffset: 0; stroke: #b0b0b0; stroke-opacity: 0.8; stroke-width: 0.6"/>
</g>
<g id="line2d_143">
<g>
<path d="M 0 0
L 3.85 0
" transform="translate(44.032 469.44)" style="stroke: #000000; stroke: #000000"/>
</g>
</g>
<g id="text_74">
<text style="font-size: 12px; font-family: 'DejaVu Sans', 'Liberation Sans', sans-serif; text-anchor: end" x="40.532" y="473.999062" transform="rotate(-0 40.532 473.999062)">200</text>
</g>
</g>
<g id="ytick_29">
<g id="line2d_144">
<path d="M 44.032 437.888
L 418.88 437.888
" clip-path="url(#pc52edb78c0)" style="fill: none; stroke-dasharray: 2.22,0.96; stroke-dashoffset: 0; stroke: #b0b0b0; stroke-opacity: 0.8; stroke-width: 0.6"/>
</g>
<g id="line2d_145">
<g>
<path d="M 0 0
L 3.85 0
" transform="translate(44.032 437.888)" style="stroke: #000000; stroke: #000000"/>
</g>
</g>
<g id="text_75">
<text style="font-size: 12px; font-family: 'DejaVu Sans', 'Liberation Sans', sans-serif; text-anchor: end" x="40.532" y="442.447063" transform="rotate(-0 40.532 442.447063)">220</text>
</g>
</g>
<g id="ytick_30">
<g id="line2d_146">
<path d="M 44.032 406.336
L 418.88 406.336
" clip-path="url(#pc52edb78c0)" style="fill: none; stroke-dasharray: 2.22,0.96; stroke-dashoffset: 0; stroke: #b0b0b0; stroke-opacity: 0.8; stroke-width: 0.6"/>
</g>
<g id="line2d_147">
<g>
<path d="M 0 0
L 3.85 0
" transform="translate(44.032 406.336)" style="stroke: #000000; stroke: #000000"/>
</g>
</g>
<g id="text_76">
<text style="font-size: 12px; font-family: 'DejaVu Sans', 'Liberation Sans', sans-serif; text-anchor: end" x="40.532" y="410.895062" transform="rotate(-0 40.532 410.895062)">240</text>
</g>
</g>
<g id="text_77">
<text style="font-size: 12px; font-family: 'DejaVu Sans', 'Liberation Sans', sans-serif; text-anchor: middle" x="11.631375" y="520.384" transform="rotate(-90 11.631375 520.384)">Index (2016=100%)</text>
</g>
</g>
<g id="line2d_148">
<path d="M 61.070545 627.2
L 103.666909 627.2
L 146.263273 627.2
L 188.859636 627.2
L 231.456 627.51552
L 274.052364 627.67328
L 316.648727 627.67328
L 359.245091 627.67328
L 401.841455 627.67328
" clip-path="url(#pc52edb78c0)" style="fill: none; stroke: #0000ff; stroke-width: 2.05; stroke-linecap: square"/>
<g clip-path="url(#pc52edb78c0)">
<path d="M 0 2
C 0.530406 2 1.03916 1.789267 1.414214 1.414214
C 1.789267 1.03916 2 0.530406 2 0
C 2 -0.530406 1.789267 -1.03916 1.414214 -1.414214
C 1.03916 -1.789267 0.530406 -2 0 -2
C -0.530406 -2 -1.03916 -1.789267 -1.414214 -1.414214
C -1.789267 -1.03916 -2 -0.530406 -2 0
C -2 0.530406 -1.789267 1.03916 -1.414214 1.414214
C -1.03916 1.789267 -0.530406 2 0 2
z
" transform="translate(61.070545 627.2)" style="fill: #0000ff; stroke: #0000ff; stroke: #0000ff"/>
<path d="M 0 2
C 0.530406 2 1.03916 1.789267 1.414214 1.414214
C 1.789267 1.03916 2 0.530406 2 0
C 2 -0.530406 1.789267 -1.03916 1.414214 -1.414214
C 1.03916 -1.789267 0.530406 -2 0 -2
C -0.530406 -2 -1.03916 -1.789267 -1.414214 -1.414214
C -1.789267 -1.03916 -2 -0.530406 -2 0
C -2 0.530406 -1.789267 1.03916 -1.414214 1.414214
C -1.03916 1.789267 -0.530406 2 0 2
z
" transform="translate(103.666909 627.2)" style="fill: #0000ff; stroke: #0000ff; stroke: #0000ff"/>
<path d="M 0 2
C 0.530406 2 1.03916 1.789267 1.414214 1.414214
C 1.789267 1.03916 2 0.530406 2 0
C 2 -0.530406 1.789267 -1.03916 1.414214 -1.414214
C 1.03916 -1.789267 0.530406 -2 0 -2
C -0.530406 -2 -1.03916 -1.789267 -1.414214 -1.414214
C -1.789267 -1.03916 -2 -0.530406 -2 0
C -2 0.530406 -1.789267 1.03916 -1.414214 1.414214
C -1.03916 1.789267 -0.530406 2 0 2
z
" transform="translate(146.263273 627.2)" style="fill: #0000ff; stroke: #0000ff; stroke: #0000ff"/>
<path d="M 0 2
C 0.530406 2 1.03916 1.789267 1.414214 1.414214
C 1.789267 1.03916 2 0.530406 2 0
C 2 -0.530406 1.789267 -1.03916 1.414214 -1.414214
C 1.03916 -1.789267 0.530406 -2 0 -2
C -0.530406 -2 -1.03916 -1.789267 -1.414214 -1.414214
C -1.789267 -1.03916 -2 -0.530406 -2 0
C -2 0.530406 -1.789267 1.03916 -1.414214 1.414214
C -1.03916 1.789267 -0.530406 2 0 2
z
" transform="translate(188.859636 627.2)" style="fill: #0000ff; stroke: #0000ff; stroke: #0000ff"/>
<path d="M 0 2
C 0.530406 2 1.03916 1.789267 1.414214 1.414214
C 1.789267 1.03916 2 0.530406 2 0
C 2 -0.530406 1.789267 -1.03916 1.414214 -1.414214
C 1.03916 -1.789267 0.530406 -2 0 -2
C -0.530406 -2 -1.03916 -1.789267 -1.414214 -1.414214
C -1.789267 -1.03916 -2 -0.530406 -2 0
C -2 0.530406 -1.789267 1.03916 -1.414214 1.414214
C -1.03916 1.789267 -0.530406 2 0 2
z
" transform="translate(231.456 627.51552)" style="fill: #0000ff; stroke: #0000ff; stroke: #0000ff"/>
<path d="M 0 2
C 0.530406 2 1.03916 1.789267 1.414214 1.414214
C 1.789267 1.03916 2 0.530406 2 0
C 2 -0.530406 1.789267 -1.03916 1.414214 -1.414214
C 1.03916 -1.789267 0.530406 -2 0 -2
C -0.530406 -2 -1.03916 -1.789267 -1.414214 -1.414214
C -1.789267 -1.03916 -2 -0.530406 -2 0
C -2 0.530406 -1.789267 1.03916 -1.414214 1.414214
C -1.03916 1.789267 -0.530406 2 0 2
z
" transform="translate(274.052364 627.67328)" style="fill: #0000ff; stroke: #0000ff; stroke: #0000ff"/>
<path d="M 0 2
C 0.530406 2 1.03916 1.789267 1.414214 1.414214
C 1.789267 1.03916 2 0.530406 2 0
C 2 -0.530406 1.789267 -1.03916 1.414214 -1.414214
C 1.03916 -1.789267 0.530406 -2 0 -2
C -0.530406 -2 -1.03916 -1.789267 -1.414214 -1.414214
C -1.789267 -1.03916 -2 -0.530406 -2 0
C -2 0.530406 -1.789267 1.03916 -1.414214 1.414214
C -1.03916 1.789267 -0.530406 2 0 2
z
" transform="translate(316.648727 627.67328)" style="fill: #0000ff; stroke: #0000ff; stroke: #0000ff"/>
<path d="M 0 2
C 0.530406 2 1.03916 1.789267 1.414214 1.414214
C 1.789267 1.03916 2 0.530406 2 0
C 2 -0.530406 1.789267 -1.03916 1.414214 -1.414214
C 1.03916 -1.789267 0.530406 -2 0 -2
C -0.530406 -2 -1.03916 -1.789267 -1.414214 -1.414214
C -1.789267 -1.03916 -2 -0.530406 -2 0
C -2 0.530406 -1.789267 1.03916 -1.414214 1.414214
C -1.03916 1.789267 -0.530406 2 0 2
z
" transform="translate(359.245091 627.67328)" style="fill: #0000ff; stroke: #0000ff; stroke: #0000ff"/>
<path d="M 0 2
C 0.530406 2 1.03916 1.789267 1.414214 1.414214
C 1.789267 1.03916 2 0.530406 2 0
C 2 -0.530406 1.789267 -1.03916 1.414214 -1.414214
C 1.03916 -1.789267 0.530406 -2 0 -2
C -0.530406 -2 -1.03916 -1.789267 -1.414214 -1.414214
C -1.789267 -1.03916 -2 -0.530406 -2 0
C -2 0.530406 -1.789267 1.03916 -1.414214 1.414214
C -1.03916 1.789267 -0.530406 2 0 2
z
" transform="translate(401.841455 627.67328)" style="fill: #0000ff; stroke: #0000ff; stroke: #0000ff"/>
</g>
</g>
<g id="line2d_149">
<path d="M 61.070545 627.2
L 103.666909 612.84384
L 146.263273 605.58688
L 188.859636 591.38848
L 231.456 555.26144
L 274.052364 548.00448
L 316.648727 540.90528
L 359.245091 548.00448
L 401.841455 569.6176
" clip-path="url(#pc52edb78c0)" style="fill: none; stroke-dasharray: 7.585,3.28; stroke-dashoffset: 0; stroke: #008000; stroke-width: 2.05"/>
<g clip-path="url(#pc52edb78c0)">
<path d="M -2 2
L 2 2
L 2 -2
L -2 -2
z
" transform="translate(61.070545 627.2)" style="fill: #008000; stroke: #008000; stroke-linejoin: miter; stroke: #008000; stroke-linejoin: miter"/>
<path d="M -2 2
L 2 2
L 2 -2
L -2 -2
z
" transform="translate(103.666909 612.84384)" style="fill: #008000; stroke: #008000; stroke-linejoin: miter; stroke: #008000; stroke-linejoin: miter"/>
<path d="M -2 2
L 2 2
L 2 -2
L -2 -2
z
" transform="translate(146.263273 605.58688)" style="fill: #008000; stroke: #008000; stroke-linejoin: miter; stroke: #008000; stroke-linejoin: miter"/>
<path d="M -2 2
L 2 2
L 2 -2
L -2 -2
z
" transform="translate(188.859636 591.38848)" style="fill: #008000; stroke: #008000; stroke-linejoin: miter; stroke: #008000; stroke-linejoin: miter"/>
<path d="M -2 2
L 2 2
L 2 -2
L -2 -2
z
" transform="translate(231.456 555.26144)" style="fill: #008000; stroke: #008000; stroke-linejoin: miter; stroke: #008000; stroke-linejoin: miter"/>
<path d="M -2 2
L 2 2
L 2 -2
L -2 -2
z
" transform="translate(274.052364 548.00448)" style="fill: #008000; stroke: #008000; stroke-linejoin: miter; stroke: #008000; stroke-linejoin: miter"/>
<path d="M -2 2
L 2 2
L 2 -2
L -2 -2
z
" transform="translate(316.648727 540.90528)" style="fill: #008000; stroke: #008000; stroke-linejoin: miter; stroke: #008000; stroke-linejoin: miter"/>
<path d="M -2 2
L 2 2
L 2 -2
L -2 -2
z
" transform="translate(359.245091 548.00448)" style="fill: #008000; stroke: #008000; stroke-linejoin: miter; stroke: #008000; stroke-linejoin: miter"/>
<path d="M -2 2
L 2 2
L 2 -2
L -2 -2
z
" transform="translate(401.841455 569.6176)" style="fill: #008000; stroke: #008000; stroke-linejoin: miter; stroke: #008000; stroke-linejoin: miter"/>
</g>
</g>
<g id="line2d_150">
<path d="M 61.070545 627.2
L 103.666909 618.99648
L 146.263273 610.47744
L 188.859636 593.75488
L 231.456 519.76544
L 274.052364 427.6336
L 316.648727 403.02304
L 359.245091 419.58784
L 401.841455 419.58784
" clip-path="url(#pc52edb78c0)" style="fill: none; stroke-dasharray: 13.12,3.28,2.05,3.28; stroke-dashoffset: 0; stroke: #ff0000; stroke-width: 2.05"/>
<g clip-path="url(#pc52edb78c0)">
<path d="M 0 -2
L -2 2
L 2 2
z
" transform="translate(61.070545 627.2)" style="fill: #ff0000; stroke: #ff0000; stroke-linejoin: miter; stroke: #ff0000; stroke-linejoin: miter"/>
<path d="M 0 -2
L -2 2
L 2 2
z
" transform="translate(103.666909 618.99648)" style="fill: #ff0000; stroke: #ff0000; stroke-linejoin: miter; stroke: #ff0000; stroke-linejoin: miter"/>
<path d="M 0 -2
L -2 2
L 2 2
z
" transform="translate(146.263273 610.47744)" style="fill: #ff0000; stroke: #ff0000; stroke-linejoin: miter; stroke: #ff0000; stroke-linejoin: miter"/>
<path d="M 0 -2
L -2 2
L 2 2
z
" transform="translate(188.859636 593.75488)" style="fill: #ff0000; stroke: #ff0000; stroke-linejoin: miter; stroke: #ff0000; stroke-linejoin: miter"/>
<path d="M 0 -2
L -2 2
L 2 2
z
" transform="translate(231.456 519.76544)" style="fill: #ff0000; stroke: #ff0000; stroke-linejoin: miter; stroke: #ff0000; stroke-linejoin: miter"/>
<path d="M 0 -2
L -2 2
L 2 2
z
" transform="translate(274.052364 427.6336)" style="fill: #ff0000; stroke: #ff0000; stroke-linejoin: miter; stroke: #ff0000; stroke-linejoin: miter"/>
<path d="M 0 -2
L -2 2
L 2 2
z
" transform="translate(316.648727 403.02304)" style="fill: #ff0000; stroke: #ff0000; stroke-linejoin: miter; stroke: #ff0000; stroke-linejoin: miter"/>
<path d="M 0 -2
L -2 2
L 2 2
z
" transform="translate(359.245091 419.58784)" style="fill: #ff0000; stroke: #ff0000; stroke-linejoin: miter; stroke: #ff0000; stroke-linejoin: miter"/>
<path d="M 0 -2
L -2 2
L 2 2
z
" transform="translate(401.841455 419.58784)" style="fill: #ff0000; stroke: #ff0000; stroke-linejoin: miter; stroke: #ff0000; stroke-linejoin: miter"/>
</g>
</g>
<g id="line2d_151">
<path d="M 61.070545 627.2
L 103.666909 627.2
L 146.263273 615.68352
L 188.859636 615.68352
L 231.456 582.08064
L 274.052364 638.40096
L 316.648727 638.40096
L 359.245091 638.40096
L 401.841455 638.40096
" clip-path="url(#pc52edb78c0)" style="fill: none; stroke-dasharray: 2.05,3.3825; stroke-dashoffset: 0; stroke: #800080; stroke-width: 2.05"/>
<g clip-path="url(#pc52edb78c0)">
<path d="M -0 2.828427
L 1.697056 0
L 0 -2.828427
L -1.697056 -0
z
" transform="translate(61.070545 627.2)" style="fill: #800080; stroke: #800080; stroke-linejoin: miter; stroke: #800080; stroke-linejoin: miter"/>
<path d="M -0 2.828427
L 1.697056 0
L 0 -2.828427
L -1.697056 -0
z
" transform="translate(103.666909 627.2)" style="fill: #800080; stroke: #800080; stroke-linejoin: miter; stroke: #800080; stroke-linejoin: miter"/>
<path d="M -0 2.828427
L 1.697056 0
L 0 -2.828427
L -1.697056 -0
z
" transform="translate(146.263273 615.68352)" style="fill: #800080; stroke: #800080; stroke-linejoin: miter; stroke: #800080; stroke-linejoin: miter"/>
<path d="M -0 2.828427
L 1.697056 0
L 0 -2.828427
L -1.697056 -0
z
" transform="translate(188.859636 615.68352)" style="fill: #800080; stroke: #800080; stroke-linejoin: miter; stroke: #800080; stroke-linejoin: miter"/>
<path d="M -0 2.828427
L 1.697056 0
L 0 -2.828427
L -1.697056 -0
z
" transform="translate(231.456 582.08064)" style="fill: #800080; stroke: #800080; stroke-linejoin: miter; stroke: #800080; stroke-linejoin: miter"/>
<path d="M -0 2.828427
L 1.697056 0
L 0 -2.828427
L -1.697056 -0
z
" transform="translate(274.052364 638.40096)" style="fill: #800080; stroke: #800080; stroke-linejoin: miter; stroke: #800080; stroke-linejoin: miter"/>
<path d="M -0 2.828427
L 1.697056 0
L 0 -2.828427
L -1.697056 -0
z
" transform="translate(316.648727 638.40096)" style="fill: #800080; stroke: #800080; stroke-linejoin: miter; stroke: #800080; stroke-linejoin: miter"/>
<path d="M -0 2.828427
L 1.697056 0
L 0 -2.828427
L -1.697056 -0
z
" transform="translate(359.245091 638.40096)" style="fill: #800080; stroke: #800080; stroke-linejoin: miter; stroke: #800080; stroke-linejoin: miter"/>
<path d="M -0 2.828427
L 1.697056 0
L 0 -2.828427
L -1.697056 -0
z
" transform="translate(401.841455 638.40096)" style="fill: #800080; stroke: #800080; stroke-linejoin: miter; stroke: #800080; stroke-linejoin: miter"/>
</g>
</g>
<g id="line2d_152">
<path d="M 44.032 627.2
L 418.88 627.2
" clip-path="url(#pc52edb78c0)" style="fill: none; stroke-dasharray: 2.96,1.28; stroke-dashoffset: 0; stroke: #808080; stroke-width: 0.8"/>
</g>
<g id="patch_12">
<path d="M 44.032 650.144
L 44.032 390.624
" style="fill: none; stroke: #000000; stroke-linejoin: miter; stroke-linecap: square"/>
</g>
<g id="patch_13">
<path d="M 44.032 650.144
L 418.88 650.144
" style="fill: none; stroke: #000000; stroke-linejoin: miter; stroke-linecap: square"/>
</g>
<g id="text_78">
<text style="font-size: 12px; font-family: 'DejaVu Sans', 'Liberation Sans', sans-serif; text-anchor: middle; fill: #262626" x="231.456" y="385.224" transform="rotate(-0 231.456 385.224)">Hispanic</text>
</g>
</g>
<g id="axes_5">
<g id="patch_14">
<path d="M 473.92 650.144
L 848.768 650.144
L 848.768 390.624
L 473.92 390.624
z
" style="fill: #ffffff"/>
</g>
<g id="matplotlib.axis_9">
<g id="xtick_37">
<g id="line2d_153">
<path d="M 490.958545 650.144
L 490.958545 390.624
" clip-path="url(#p35eec04493)" style="fill: none; stroke-dasharray: 2.22,0.96; stroke-dashoffset: 0; stroke: #b0b0b0; stroke-opacity: 0.8; stroke-width: 0.6"/>
</g>
<g id="line2d_154">
<g>
<path d="M 0 0
L 0 -3.85
" transform="translate(490.958545 650.144)" style="stroke: #000000; stroke: #000000"/>
</g>
</g>
<g id="text_79">
<text style="font-size: 12px; font-family: 'DejaVu Sans', 'Liberation Sans', sans-serif; text-anchor: middle" x="490.958545" y="662.762125" transform="rotate(-0 490.958545 662.762125)">2016</text>
</g>
</g>
<g id="xtick_38">
<g id="line2d_155">
<path d="M 533.554909 650.144
L 533.554909 390.624
" clip-path="url(#p35eec04493)" style="fill: none; stroke-dasharray: 2.22,0.96; stroke-dashoffset: 0; stroke: #b0b0b0; stroke-opacity: 0.8; stroke-width: 0.6"/>
</g>
<g id="line2d_156">
<g>
<path d="M 0 0
L 0 -3.85
" transform="translate(533.554909 650.144)" style="stroke: #000000; stroke: #000000"/>
</g>
</g>
<g id="text_80">
<text style="font-size: 12px; font-family: 'DejaVu Sans', 'Liberation Sans', sans-serif; text-anchor: middle" x="533.554909" y="662.762125" transform="rotate(-0 533.554909 662.762125)">2017</text>
</g>
</g>
<g id="xtick_39">
<g id="line2d_157">
<path d="M 576.151273 650.144
L 576.151273 390.624
" clip-path="url(#p35eec04493)" style="fill: none; stroke-dasharray: 2.22,0.96; stroke-dashoffset: 0; stroke: #b0b0b0; stroke-opacity: 0.8; stroke-width: 0.6"/>
</g>
<g id="line2d_158">
<g>
<path d="M 0 0
L 0 -3.85
" transform="translate(576.151273 650.144)" style="stroke: #000000; stroke: #000000"/>
</g>
</g>
<g id="text_81">
<text style="font-size: 12px; font-family: 'DejaVu Sans', 'Liberation Sans', sans-serif; text-anchor: middle" x="576.151273" y="662.762125" transform="rotate(-0 576.151273 662.762125)">2018</text>
</g>
</g>
<g id="xtick_40">
<g id="line2d_159">
<path d="M 618.747636 650.144
L 618.747636 390.624
" clip-path="url(#p35eec04493)" style="fill: none; stroke-dasharray: 2.22,0.96; stroke-dashoffset: 0; stroke: #b0b0b0; stroke-opacity: 0.8; stroke-width: 0.6"/>
</g>
<g id="line2d_160">
<g>
<path d="M 0 0
L 0 -3.85
" transform="translate(618.747636 650.144)" style="stroke: #000000; stroke: #000000"/>
</g>
</g>
<g id="text_82">
<text style="font-size: 12px; font-family: 'DejaVu Sans', 'Liberation Sans', sans-serif; text-anchor: middle" x="618.747636" y="662.762125" transform="rotate(-0 618.747636 662.762125)">2019</text>
</g>
</g>
<g id="xtick_41">
<g id="line2d_161">
<path d="M 661.344 650.144
L 661.344 390.624
" clip-path="url(#p35eec04493)" style="fill: none; stroke-dasharray: 2.22,0.96; stroke-dashoffset: 0; stroke: #b0b0b0; stroke-opacity: 0.8; stroke-width: 0.6"/>
</g>
<g id="line2d_162">
<g>
<path d="M 0 0
L 0 -3.85
" transform="translate(661.344 650.144)" style="stroke: #000000; stroke: #000000"/>
</g>
</g>
<g id="text_83">
<text style="font-size: 12px; font-family: 'DejaVu Sans', 'Liberation Sans', sans-serif; text-anchor: middle" x="661.344" y="662.762125" transform="rotate(-0 661.344 662.762125)">2020</text>
</g>
</g>
<g id="xtick_42">
<g id="line2d_163">
<path d="M 703.940364 650.144
L 703.940364 390.624
" clip-path="url(#p35eec04493)" style="fill: none; stroke-dasharray: 2.22,0.96; stroke-dashoffset: 0; stroke: #b0b0b0; stroke-opacity: 0.8; stroke-width: 0.6"/>
</g>
<g id="line2d_164">
<g>
<path d="M 0 0
L 0 -3.85
" transform="translate(703.940364 650.144)" style="stroke: #000000; stroke: #000000"/>
</g>
</g>
<g id="text_84">
<text style="font-size: 12px; font-family: 'DejaVu Sans', 'Liberation Sans', sans-serif; text-anchor: middle" x="703.940364" y="662.762125" transform="rotate(-0 703.940364 662.762125)">2021</text>
</g>
</g>
<g id="xtick_43">
<g id="line2d_165">
<path d="M 746.536727 650.144
L 746.536727 390.624
" clip-path="url(#p35eec04493)" style="fill: none; stroke-dasharray: 2.22,0.96; stroke-dashoffset: 0; stroke: #b0b0b0; stroke-opacity: 0.8; stroke-width: 0.6"/>
</g>
<g id="line2d_166">
<g>
<path d="M 0 0
L 0 -3.85
" transform="translate(746.536727 650.144)" style="stroke: #000000; stroke: #000000"/>
</g>
</g>
<g id="text_85">
<text style="font-size: 12px; font-family: 'DejaVu Sans', 'Liberation Sans', sans-serif; text-anchor: middle" x="746.536727" y="662.762125" transform="rotate(-0 746.536727 662.762125)">2022</text>
</g>
</g>
<g id="xtick_44">
<g id="line2d_167">
<path d="M 789.133091 650.144
L 789.133091 390.624
" clip-path="url(#p35eec04493)" style="fill: none; stroke-dasharray: 2.22,0.96; stroke-dashoffset: 0; stroke: #b0b0b0; stroke-opacity: 0.8; stroke-width: 0.6"/>
</g>
<g id="line2d_168">
<g>
<path d="M 0 0
L 0 -3.85
" transform="translate(789.133091 650.144)" style="stroke: #000000; stroke: #000000"/>
</g>
</g>
<g id="text_86">
<text style="font-size: 12px; font-family: 'DejaVu Sans', 'Liberation Sans', sans-serif; text-anchor: middle" x="789.133091" y="662.762125" transform="rotate(-0 789.133091 662.762125)">2023</text>
</g>
</g>
<g id="xtick_45">
<g id="line2d_169">
<path d="M 831.729455 650.144
L 831.729455 390.624
" clip-path="url(#p35eec04493)" style="fill: none; stroke-dasharray: 2.22,0.96; stroke-dashoffset: 0; stroke: #b0b0b0; stroke-opacity: 0.8; stroke-width: 0.6"/>
</g>
<g id="line2d_170">
<g>
<path d="M 0 0
L 0 -3.85
" transform="translate(831.729455 650.144)" style="stroke: #000000; stroke: #000000"/>
</g>
</g>
<g id="text_87">
<text style="font-size: 12px; font-family: 'DejaVu Sans', 'Liberation Sans', sans-serif; text-anchor: middle" x="831.729455" y="662.762125" transform="rotate(-0 831.729455 662.762125)">2024</text>
</g>
</g>
<g id="text_88">
<text style="font-size: 12px; font-family: 'DejaVu Sans', 'Liberation Sans', sans-serif; text-anchor: middle" x="661.344" y="678.375875" transform="rotate(-0 661.344 678.375875)">Year</text>
</g>
</g>
<g id="matplotlib.axis_10">
<g id="ytick_31">
<g id="line2d_171">
<path d="M 473.92 647.296
L 848.768 647.296
" clip-path="url(#p35eec04493)" style="fill: none; stroke-dasharray: 2.22,0.96; stroke-dashoffset: 0; stroke: #b0b0b0; stroke-opacity: 0.8; stroke-width: 0.6"/>
</g>
<g id="line2d_172">
<g>
<path d="M 0 0
L 3.85 0
" transform="translate(473.92 647.296)" style="stroke: #000000; stroke: #000000"/>
</g>
</g>
<g id="text_89">
<text style="font-size: 12px; font-family: 'DejaVu Sans', 'Liberation Sans', sans-serif; text-anchor: end" x="470.42" y="651.855062" transform="rotate(-0 470.42 651.855062)">50</text>
</g>
</g>
<g id="ytick_32">
<g id="line2d_173">
<path d="M 473.92 615.604
L 848.768 615.604
" clip-path="url(#p35eec04493)" style="fill: none; stroke-dasharray: 2.22,0.96; stroke-dashoffset: 0; stroke: #b0b0b0; stroke-opacity: 0.8; stroke-width: 0.6"/>
</g>
<g id="line2d_174">
<g>
<path d="M 0 0
L 3.85 0
" transform="translate(473.92 615.604)" style="stroke: #000000; stroke: #000000"/>
</g>
</g>
<g id="text_90">
<text style="font-size: 12px; font-family: 'DejaVu Sans', 'Liberation Sans', sans-serif; text-anchor: end" x="470.42" y="620.163062" transform="rotate(-0 470.42 620.163062)">75</text>
</g>
</g>
<g id="ytick_33">
<g id="line2d_175">
<path d="M 473.92 583.912
L 848.768 583.912
" clip-path="url(#p35eec04493)" style="fill: none; stroke-dasharray: 2.22,0.96; stroke-dashoffset: 0; stroke: #b0b0b0; stroke-opacity: 0.8; stroke-width: 0.6"/>
</g>
<g id="line2d_176">
<g>
<path d="M 0 0
L 3.85 0
" transform="translate(473.92 583.912)" style="stroke: #000000; stroke: #000000"/>
</g>
</g>
<g id="text_91">
<text style="font-size: 12px; font-family: 'DejaVu Sans', 'Liberation Sans', sans-serif; text-anchor: end" x="470.42" y="588.471063" transform="rotate(-0 470.42 588.471063)">100</text>
</g>
</g>
<g id="ytick_34">
<g id="line2d_177">
<path d="M 473.92 552.22
L 848.768 552.22
" clip-path="url(#p35eec04493)" style="fill: none; stroke-dasharray: 2.22,0.96; stroke-dashoffset: 0; stroke: #b0b0b0; stroke-opacity: 0.8; stroke-width: 0.6"/>
</g>
<g id="line2d_178">
<g>
<path d="M 0 0
L 3.85 0
" transform="translate(473.92 552.22)" style="stroke: #000000; stroke: #000000"/>
</g>
</g>
<g id="text_92">
<text style="font-size: 12px; font-family: 'DejaVu Sans', 'Liberation Sans', sans-serif; text-anchor: end" x="470.42" y="556.779063" transform="rotate(-0 470.42 556.779063)">125</text>
</g>
</g>
<g id="ytick_35">
<g id="line2d_179">
<path d="M 473.92 520.528
L 848.768 520.528
" clip-path="url(#p35eec04493)" style="fill: none; stroke-dasharray: 2.22,0.96; stroke-dashoffset: 0; stroke: #b0b0b0; stroke-opacity: 0.8; stroke-width: 0.6"/>
</g>
<g id="line2d_180">
<g>
<path d="M 0 0
L 3.85 0
" transform="translate(473.92 520.528)" style="stroke: #000000; stroke: #000000"/>
</g>
</g>
<g id="text_93">
<text style="font-size: 12px; font-family: 'DejaVu Sans', 'Liberation Sans', sans-serif; text-anchor: end" x="470.42" y="525.087063" transform="rotate(-0 470.42 525.087063)">150</text>
</g>
</g>
<g id="ytick_36">
<g id="line2d_181">
<path d="M 473.92 488.836
L 848.768 488.836
" clip-path="url(#p35eec04493)" style="fill: none; stroke-dasharray: 2.22,0.96; stroke-dashoffset: 0; stroke: #b0b0b0; stroke-opacity: 0.8; stroke-width: 0.6"/>
</g>
<g id="line2d_182">
<g>
<path d="M 0 0
L 3.85 0
" transform="translate(473.92 488.836)" style="stroke: #000000; stroke: #000000"/>
</g>
</g>
<g id="text_94">
<text style="font-size: 12px; font-family: 'DejaVu Sans', 'Liberation Sans', sans-serif; text-anchor: end" x="470.42" y="493.395062" transform="rotate(-0 470.42 493.395062)">175</text>
</g>
</g>
<g id="ytick_37">
<g id="line2d_183">
<path d="M 473.92 457.144
L 848.768 457.144
" clip-path="url(#p35eec04493)" style="fill: none; stroke-dasharray: 2.22,0.96; stroke-dashoffset: 0; stroke: #b0b0b0; stroke-opacity: 0.8; stroke-width: 0.6"/>
</g>
<g id="line2d_184">
<g>
<path d="M 0 0
L 3.85 0
" transform="translate(473.92 457.144)" style="stroke: #000000; stroke: #000000"/>
</g>
</g>
<g id="text_95">
<text style="font-size: 12px; font-family: 'DejaVu Sans', 'Liberation Sans', sans-serif; text-anchor: end" x="470.42" y="461.703062" transform="rotate(-0 470.42 461.703062)">200</text>
</g>
</g>
<g id="ytick_38">
<g id="line2d_185">
<path d="M 473.92 425.452
L 848.768 425.452
" clip-path="url(#p35eec04493)" style="fill: none; stroke-dasharray: 2.22,0.96; stroke-dashoffset: 0; stroke: #b0b0b0; stroke-opacity: 0.8; stroke-width: 0.6"/>
</g>
<g id="line2d_186">
<g>
<path d="M 0 0
L 3.85 0
" transform="translate(473.92 425.452)" style="stroke: #000000; stroke: #000000"/>
</g>
</g>
<g id="text_96">
<text style="font-size: 12px; font-family: 'DejaVu Sans', 'Liberation Sans', sans-serif; text-anchor: end" x="470.42" y="430.011062" transform="rotate(-0 470.42 430.011062)">225</text>
</g>
</g>
<g id="ytick_39">
<g id="line2d_187">
<path d="M 473.92 393.76
L 848.768 393.76
" clip-path="url(#p35eec04493)" style="fill: none; stroke-dasharray: 2.22,0.96; stroke-dashoffset: 0; stroke: #b0b0b0; stroke-opacity: 0.8; stroke-width: 0.6"/>
</g>
<g id="line2d_188">
<g>
<path d="M 0 0
L 3.85 0
" transform="translate(473.92 393.76)" style="stroke: #000000; stroke: #000000"/>
</g>
</g>
<g id="text_97">
<text style="font-size: 12px; font-family: 'DejaVu Sans', 'Liberation Sans', sans-serif; text-anchor: end" x="470.42" y="398.319062" transform="rotate(-0 470.42 398.319062)">250</text>
</g>
</g>
<g id="text_98">
<text style="font-size: 12px; font-family: 'DejaVu Sans', 'Liberation Sans', sans-serif; text-anchor: middle" x="441.519375" y="520.384" transform="rotate(-90 441.519375 520.384)">Index (2016=100%)</text>
</g>
</g>
<g id="line2d_189">
<path d="M 490.958545 583.912
L 533.554909 583.912
L 576.151273 583.912
L 618.747636 583.912
L 661.344 584.038768
L 703.940364 584.038768
L 746.536727 584.038768
L 789.133091 584.038768
L 831.729455 584.038768
" clip-path="url(#p35eec04493)" style="fill: none; stroke: #0000ff; stroke-width: 2.05; stroke-linecap: square"/>
<g clip-path="url(#p35eec04493)">
<path d="M 0 2
C 0.530406 2 1.03916 1.789267 1.414214 1.414214
C 1.789267 1.03916 2 0.530406 2 0
C 2 -0.530406 1.789267 -1.03916 1.414214 -1.414214
C 1.03916 -1.789267 0.530406 -2 0 -2
C -0.530406 -2 -1.03916 -1.789267 -1.414214 -1.414214
C -1.789267 -1.03916 -2 -0.530406 -2 0
C -2 0.530406 -1.789267 1.03916 -1.414214 1.414214
C -1.03916 1.789267 -0.530406 2 0 2
z
" transform="translate(490.958545 583.912)" style="fill: #0000ff; stroke: #0000ff; stroke: #0000ff"/>
<path d="M 0 2
C 0.530406 2 1.03916 1.789267 1.414214 1.414214
C 1.789267 1.03916 2 0.530406 2 0
C 2 -0.530406 1.789267 -1.03916 1.414214 -1.414214
C 1.03916 -1.789267 0.530406 -2 0 -2
C -0.530406 -2 -1.03916 -1.789267 -1.414214 -1.414214
C -1.789267 -1.03916 -2 -0.530406 -2 0
C -2 0.530406 -1.789267 1.03916 -1.414214 1.414214
C -1.03916 1.789267 -0.530406 2 0 2
z
" transform="translate(533.554909 583.912)" style="fill: #0000ff; stroke: #0000ff; stroke: #0000ff"/>
<path d="M 0 2
C 0.530406 2 1.03916 1.789267 1.414214 1.414214
C 1.789267 1.03916 2 0.530406 2 0
C 2 -0.530406 1.789267 -1.03916 1.414214 -1.414214
C 1.03916 -1.789267 0.530406 -2 0 -2
C -0.530406 -2 -1.03916 -1.789267 -1.414214 -1.414214
C -1.789267 -1.03916 -2 -0.530406 -2 0
C -2 0.530406 -1.789267 1.03916 -1.414214 1.414214
C -1.03916 1.789267 -0.530406 2 0 2
z
" transform="translate(576.151273 583.912)" style="fill: #0000ff; stroke: #0000ff; stroke: #0000ff"/>
<path d="M 0 2
C 0.530406 2 1.03916 1.789267 1.414214 1.414214
C 1.789267 1.03916 2 0.530406 2 0
C 2 -0.530406 1.789267 -1.03916 1.414214 -1.414214
C 1.03916 -1.789267 0.530406 -2 0 -2
C -0.530406 -2 -1.03916 -1.789267 -1.414214 -1.414214
C -1.789267 -1.03916 -2 -0.530406 -2 0
C -2 0.530406 -1.789267 1.03916 -1.414214 1.414214
C -1.03916 1.789267 -0.530406 2 0 2
z
" transform="translate(618.747636 583.912)" style="fill: #0000ff; stroke: #0000ff; stroke: #0000ff"/>
<path d="M 0 2
C 0.530406 2 1.03916 1.789267 1.414214 1.414214
C 1.789267 1.03916 2 0.530406 2 0
C 2 -0.530406 1.789267 -1.03916 1.414214 -1.414214
C 1.03916 -1.789267 0.530406 -2 0 -2
C -0.530406 -2 -1.03916 -1.789267 -1.414214 -1.414214
C -1.789267 -1.03916 -2 -0.530406 -2 0
C -2 0.530406 -1.789267 1.03916 -1.414214 1.414214
C -1.03916 1.789267 -0.530406 2 0 2
z
" transform="translate(661.344 584.038768)" style="fill: #0000ff; stroke: #0000ff; stroke: #0000ff"/>
<path d="M 0 2
C 0.530406 2 1.03916 1.789267 1.414214 1.414214
C 1.789267 1.03916 2 0.530406 2 0
C 2 -0.530406 1.789267 -1.03916 1.414214 -1.414214
C 1.03916 -1.789267 0.530406 -2 0 -2
C -0.530406 -2 -1.03916 -1.789267 -1.414214 -1.414214
C -1.789267 -1.03916 -2 -0.530406 -2 0
C -2 0.530406 -1.789267 1.03916 -1.414214 1.414214
C -1.03916 1.789267 -0.530406 2 0 2
z
" transform="translate(703.940364 584.038768)" style="fill: #0000ff; stroke: #0000ff; stroke: #0000ff"/>
<path d="M 0 2
C 0.530406 2 1.03916 1.789267 1.414214 1.414214
C 1.789267 1.03916 2 0.530406 2 0
C 2 -0.530406 1.789267 -1.03916 1.414214 -1.414214
C 1.03916 -1.789267 0.530406 -2 0 -2
C -0.530406 -2 -1.03916 -1.789267 -1.414214 -1.414214
C -1.789267 -1.03916 -2 -0.530406 -2 0
C -2 0.530406 -1.789267 1.03916 -1.414214 1.414214
C -1.03916 1.789267 -0.530406 2 0 2
z
" transform="translate(746.536727 584.038768)" style="fill: #0000ff; stroke: #0000ff; stroke: #0000ff"/>
<path d="M 0 2
C 0.530406 2 1.03916 1.789267 1.414214 1.414214
C 1.789267 1.03916 2 0.530406 2 0
C 2 -0.530406 1.789267 -1.03916 1.414214 -1.414214
C 1.03916 -1.789267 0.530406 -2 0 -2
C -0.530406 -2 -1.03916 -1.789267 -1.414214 -1.414214
C -1.789267 -1.03916 -2 -0.530406 -2 0
C -2 0.530406 -1.789267 1.03916 -1.414214 1.414214
C -1.03916 1.789267 -0.530406 2 0 2
z
" transform="translate(789.133091 584.038768)" style="fill: #0000ff; stroke: #0000ff; stroke: #0000ff"/>
<path d="M 0 2
C 0.530406 2 1.03916 1.789267 1.414214 1.414214
C 1.789267 1.03916 2 0.530406 2 0
C 2 -0.530406 1.789267 -1.03916 1.414214 -1.414214
C 1.03916 -1.789267 0.530406 -2 0 -2
C -0.530406 -2 -1.03916 -1.789267 -1.414214 -1.414214
C -1.789267 -1.03916 -2 -0.530406 -2 0
C -2 0.530406 -1.789267 1.03916 -1.414214 1.414214
C -1.03916 1.789267 -0.530406 2 0 2
z
" transform="translate(831.729455 584.038768)" style="fill: #0000ff; stroke: #0000ff; stroke: #0000ff"/>
</g>
</g>
<g id="line2d_190">
<path d="M 490.958545 583.912
L 533.554909 558.431632
L 576.151273 575.291776
L 618.747636 567.051856
L 661.344 524.457808
L 703.940364 533.458336
L 746.536727 541.698256
L 789.133091 549.938176
L 831.729455 533.458336
" clip-path="url(#p35eec04493)" style="fill: none; stroke-dasharray: 7.585,3.28; stroke-dashoffset: 0; stroke: #008000; stroke-width: 2.05"/>
<g clip-path="url(#p35eec04493)">
<path d="M -2 2
L 2 2
L 2 -2
L -2 -2
z
" transform="translate(490.958545 583.912)" style="fill: #008000; stroke: #008000; stroke-linejoin: miter; stroke: #008000; stroke-linejoin: miter"/>
<path d="M -2 2
L 2 2
L 2 -2
L -2 -2
z
" transform="translate(533.554909 558.431632)" style="fill: #008000; stroke: #008000; stroke-linejoin: miter; stroke: #008000; stroke-linejoin: miter"/>
<path d="M -2 2
L 2 2
L 2 -2
L -2 -2
z
" transform="translate(576.151273 575.291776)" style="fill: #008000; stroke: #008000; stroke-linejoin: miter; stroke: #008000; stroke-linejoin: miter"/>
<path d="M -2 2
L 2 2
L 2 -2
L -2 -2
z
" transform="translate(618.747636 567.051856)" style="fill: #008000; stroke: #008000; stroke-linejoin: miter; stroke: #008000; stroke-linejoin: miter"/>
<path d="M -2 2
L 2 2
L 2 -2
L -2 -2
z
" transform="translate(661.344 524.457808)" style="fill: #008000; stroke: #008000; stroke-linejoin: miter; stroke: #008000; stroke-linejoin: miter"/>
<path d="M -2 2
L 2 2
L 2 -2
L -2 -2
z
" transform="translate(703.940364 533.458336)" style="fill: #008000; stroke: #008000; stroke-linejoin: miter; stroke: #008000; stroke-linejoin: miter"/>
<path d="M -2 2
L 2 2
L 2 -2
L -2 -2
z
" transform="translate(746.536727 541.698256)" style="fill: #008000; stroke: #008000; stroke-linejoin: miter; stroke: #008000; stroke-linejoin: miter"/>
<path d="M -2 2
L 2 2
L 2 -2
L -2 -2
z
" transform="translate(789.133091 549.938176)" style="fill: #008000; stroke: #008000; stroke-linejoin: miter; stroke: #008000; stroke-linejoin: miter"/>
<path d="M -2 2
L 2 2
L 2 -2
L -2 -2
z
" transform="translate(831.729455 533.458336)" style="fill: #008000; stroke: #008000; stroke-linejoin: miter; stroke: #008000; stroke-linejoin: miter"/>
</g>
</g>
<g id="line2d_191">
<path d="M 490.958545 583.912
L 533.554909 583.912
L 576.151273 566.037712
L 618.747636 574.277632
L 661.344 538.90936
L 703.940364 412.014592
L 746.536727 403.140832
L 789.133091 403.140832
L 831.729455 439.269712
" clip-path="url(#p35eec04493)" style="fill: none; stroke-dasharray: 13.12,3.28,2.05,3.28; stroke-dashoffset: 0; stroke: #ff0000; stroke-width: 2.05"/>
<g clip-path="url(#p35eec04493)">
<path d="M 0 -2
L -2 2
L 2 2
z
" transform="translate(490.958545 583.912)" style="fill: #ff0000; stroke: #ff0000; stroke-linejoin: miter; stroke: #ff0000; stroke-linejoin: miter"/>
<path d="M 0 -2
L -2 2
L 2 2
z
" transform="translate(533.554909 583.912)" style="fill: #ff0000; stroke: #ff0000; stroke-linejoin: miter; stroke: #ff0000; stroke-linejoin: miter"/>
<path d="M 0 -2
L -2 2
L 2 2
z
" transform="translate(576.151273 566.037712)" style="fill: #ff0000; stroke: #ff0000; stroke-linejoin: miter; stroke: #ff0000; stroke-linejoin: miter"/>
<path d="M 0 -2
L -2 2
L 2 2
z
" transform="translate(618.747636 574.277632)" style="fill: #ff0000; stroke: #ff0000; stroke-linejoin: miter; stroke: #ff0000; stroke-linejoin: miter"/>
<path d="M 0 -2
L -2 2
L 2 2
z
" transform="translate(661.344 538.90936)" style="fill: #ff0000; stroke: #ff0000; stroke-linejoin: miter; stroke: #ff0000; stroke-linejoin: miter"/>
<path d="M 0 -2
L -2 2
L 2 2
z
" transform="translate(703.940364 412.014592)" style="fill: #ff0000; stroke: #ff0000; stroke-linejoin: miter; stroke: #ff0000; stroke-linejoin: miter"/>
<path d="M 0 -2
L -2 2
L 2 2
z
" transform="translate(746.536727 403.140832)" style="fill: #ff0000; stroke: #ff0000; stroke-linejoin: miter; stroke: #ff0000; stroke-linejoin: miter"/>
<path d="M 0 -2
L -2 2
L 2 2
z
" transform="translate(789.133091 403.140832)" style="fill: #ff0000; stroke: #ff0000; stroke-linejoin: miter; stroke: #ff0000; stroke-linejoin: miter"/>
<path d="M 0 -2
L -2 2
L 2 2
z
" transform="translate(831.729455 439.269712)" style="fill: #ff0000; stroke: #ff0000; stroke-linejoin: miter; stroke: #ff0000; stroke-linejoin: miter"/>
</g>
</g>
<g id="line2d_192">
<path d="M 490.958545 583.912
L 533.554909 566.037712
L 576.151273 574.911472
L 618.747636 574.911472
L 661.344 574.911472
L 703.940364 620.294416
L 746.536727 620.294416
L 789.133091 620.294416
L 831.729455 638.168704
" clip-path="url(#p35eec04493)" style="fill: none; stroke-dasharray: 2.05,3.3825; stroke-dashoffset: 0; stroke: #800080; stroke-width: 2.05"/>
<g clip-path="url(#p35eec04493)">
<path d="M -0 2.828427
L 1.697056 0
L 0 -2.828427
L -1.697056 -0
z
" transform="translate(490.958545 583.912)" style="fill: #800080; stroke: #800080; stroke-linejoin: miter; stroke: #800080; stroke-linejoin: miter"/>
<path d="M -0 2.828427
L 1.697056 0
L 0 -2.828427
L -1.697056 -0
z
" transform="translate(533.554909 566.037712)" style="fill: #800080; stroke: #800080; stroke-linejoin: miter; stroke: #800080; stroke-linejoin: miter"/>
<path d="M -0 2.828427
L 1.697056 0
L 0 -2.828427
L -1.697056 -0
z
" transform="translate(576.151273 574.911472)" style="fill: #800080; stroke: #800080; stroke-linejoin: miter; stroke: #800080; stroke-linejoin: miter"/>
<path d="M -0 2.828427
L 1.697056 0
L 0 -2.828427
L -1.697056 -0
z
" transform="translate(618.747636 574.911472)" style="fill: #800080; stroke: #800080; stroke-linejoin: miter; stroke: #800080; stroke-linejoin: miter"/>
<path d="M -0 2.828427
L 1.697056 0
L 0 -2.828427
L -1.697056 -0
z
" transform="translate(661.344 574.911472)" style="fill: #800080; stroke: #800080; stroke-linejoin: miter; stroke: #800080; stroke-linejoin: miter"/>
<path d="M -0 2.828427
L 1.697056 0
L 0 -2.828427
L -1.697056 -0
z
" transform="translate(703.940364 620.294416)" style="fill: #800080; stroke: #800080; stroke-linejoin: miter; stroke: #800080; stroke-linejoin: miter"/>
<path d="M -0 2.828427
L 1.697056 0
L 0 -2.828427
L -1.697056 -0
z
" transform="translate(746.536727 620.294416)" style="fill: #800080; stroke: #800080; stroke-linejoin: miter; stroke: #800080; stroke-linejoin: miter"/>
<path d="M -0 2.828427
L 1.697056 0
L 0 -2.828427
L -1.697056 -0
z
" transform="translate(789.133091 620.294416)" style="fill: #800080; stroke: #800080; stroke-linejoin: miter; stroke: #800080; stroke-linejoin: miter"/>
<path d="M -0 2.828427
L 1.697056 0
L 0 -2.828427
L -1.697056 -0
z
" transform="translate(831.729455 638.168704)" style="fill: #800080; stroke: #800080; stroke-linejoin: miter; stroke: #800080; stroke-linejoin: miter"/>
</g>
</g>
<g id="line2d_193">
<path d="M 473.92 583.912
L 848.768 583.912
" clip-path="url(#p35eec04493)" style="fill: none; stroke-dasharray: 2.96,1.28; stroke-dashoffset: 0; stroke: #808080; stroke-width: 0.8"/>
</g>
<g id="patch_15">
<path d="M 473.92 650.144
L 473.92 390.624
" style="fill: none; stroke: #000000; stroke-linejoin: miter; stroke-linecap: square"/>
</g>
<g id="patch_16">
<path d="M 473.92 650.144
L 848.768 650.144
" style="fill: none; stroke: #000000; stroke-linejoin: miter; stroke-linecap: square"/>
</g>
<g id="text_99">
<text style="font-size: 12px; font-family: 'DejaVu Sans', 'Liberation Sans', sans-serif; text-anchor: middle; fill: #262626" x="661.344" y="385.224" transform="rotate(-0 661.344 385.224)">NH Asian</text>
</g>
</g>
<g id="axes_6">
<g id="patch_17">
<path d="M 903.936 650.144
L 1278.784 650.144
L 1278.784 390.624
L 903.936 390.624
z
" style="fill: #ffffff"/>
</g>
<g id="matplotlib.axis_11">
<g id="xtick_46">
<g id="line2d_194">
<path d="M 920.974545 650.144
L 920.974545 390.624
" clip-path="url(#p7bd868a0d3)" style="fill: none; stroke-dasharray: 2.22,0.96; stroke-dashoffset: 0; stroke: #b0b0b0; stroke-opacity: 0.8; stroke-width: 0.6"/>
</g>
<g id="line2d_195">
<g>
<path d="M 0 0
L 0 -3.85
" transform="translate(920.974545 650.144)" style="stroke: #000000; stroke: #000000"/>
</g>
</g>
<g id="text_100">
<text style="font-size: 12px; font-family: 'DejaVu Sans', 'Liberation Sans', sans-serif; text-anchor: middle" x="920.974545" y="662.762125" transform="rotate(-0 920.974545 662.762125)">2016</text>
</g>
</g>
<g id="xtick_47">
<g id="line2d_196">
<path d="M 963.570909 650.144
L 963.570909 390.624
" clip-path="url(#p7bd868a0d3)" style="fill: none; stroke-dasharray: 2.22,0.96; stroke-dashoffset: 0; stroke: #b0b0b0; stroke-opacity: 0.8; stroke-width: 0.6"/>
</g>
<g id="line2d_197">
<g>
<path d="M 0 0
L 0 -3.85
" transform="translate(963.570909 650.144)" style="stroke: #000000; stroke: #000000"/>
</g>
</g>
<g id="text_101">
<text style="font-size: 12px; font-family: 'DejaVu Sans', 'Liberation Sans', sans-serif; text-anchor: middle" x="963.570909" y="662.762125" transform="rotate(-0 963.570909 662.762125)">2017</text>
</g>
</g>
<g id="xtick_48">
<g id="line2d_198">
<path d="M 1006.167273 650.144
L 1006.167273 390.624
" clip-path="url(#p7bd868a0d3)" style="fill: none; stroke-dasharray: 2.22,0.96; stroke-dashoffset: 0; stroke: #b0b0b0; stroke-opacity: 0.8; stroke-width: 0.6"/>
</g>
<g id="line2d_199">
<g>
<path d="M 0 0
L 0 -3.85
" transform="translate(1006.167273 650.144)" style="stroke: #000000; stroke: #000000"/>
</g>
</g>
<g id="text_102">
<text style="font-size: 12px; font-family: 'DejaVu Sans', 'Liberation Sans', sans-serif; text-anchor: middle" x="1006.167273" y="662.762125" transform="rotate(-0 1006.167273 662.762125)">2018</text>
</g>
</g>
<g id="xtick_49">
<g id="line2d_200">
<path d="M 1048.763636 650.144
L 1048.763636 390.624
" clip-path="url(#p7bd868a0d3)" style="fill: none; stroke-dasharray: 2.22,0.96; stroke-dashoffset: 0; stroke: #b0b0b0; stroke-opacity: 0.8; stroke-width: 0.6"/>
</g>
<g id="line2d_201">
<g>
<path d="M 0 0
L 0 -3.85
" transform="translate(1048.763636 650.144)" style="stroke: #000000; stroke: #000000"/>
</g>
</g>
<g id="text_103">
<text style="font-size: 12px; font-family: 'DejaVu Sans', 'Liberation Sans', sans-serif; text-anchor: middle" x="1048.763636" y="662.762125" transform="rotate(-0 1048.763636 662.762125)">2019</text>
</g>
</g>
<g id="xtick_50">
<g id="line2d_202">
<path d="M 1091.36 650.144
L 1091.36 390.624
" clip-path="url(#p7bd868a0d3)" style="fill: none; stroke-dasharray: 2.22,0.96; stroke-dashoffset: 0; stroke: #b0b0b0; stroke-opacity: 0.8; stroke-width: 0.6"/>
</g>
<g id="line2d_203">
<g>
<path d="M 0 0
L 0 -3.85
" transform="translate(1091.36 650.144)" style="stroke: #000000; stroke: #000000"/>
</g>
</g>
<g id="text_104">
<text style="font-size: 12px; font-family: 'DejaVu Sans', 'Liberation Sans', sans-serif; text-anchor: middle" x="1091.36" y="662.762125" transform="rotate(-0 1091.36 662.762125)">2020</text>
</g>
</g>
<g id="xtick_51">
<g id="line2d_204">
<path d="M 1133.956364 650.144
L 1133.956364 390.624
" clip-path="url(#p7bd868a0d3)" style="fill: none; stroke-dasharray: 2.22,0.96; stroke-dashoffset: 0; stroke: #b0b0b0; stroke-opacity: 0.8; stroke-width: 0.6"/>
</g>
<g id="line2d_205">
<g>
<path d="M 0 0
L 0 -3.85
" transform="translate(1133.956364 650.144)" style="stroke: #000000; stroke: #000000"/>
</g>
</g>
<g id="text_105">
<text style="font-size: 12px; font-family: 'DejaVu Sans', 'Liberation Sans', sans-serif; text-anchor: middle" x="1133.956364" y="662.762125" transform="rotate(-0 1133.956364 662.762125)">2021</text>
</g>
</g>
<g id="xtick_52">
<g id="line2d_206">
<path d="M 1176.552727 650.144
L 1176.552727 390.624
" clip-path="url(#p7bd868a0d3)" style="fill: none; stroke-dasharray: 2.22,0.96; stroke-dashoffset: 0; stroke: #b0b0b0; stroke-opacity: 0.8; stroke-width: 0.6"/>
</g>
<g id="line2d_207">
<g>
<path d="M 0 0
L 0 -3.85
" transform="translate(1176.552727 650.144)" style="stroke: #000000; stroke: #000000"/>
</g>
</g>
<g id="text_106">
<text style="font-size: 12px; font-family: 'DejaVu Sans', 'Liberation Sans', sans-serif; text-anchor: middle" x="1176.552727" y="662.762125" transform="rotate(-0 1176.552727 662.762125)">2022</text>
</g>
</g>
<g id="xtick_53">
<g id="line2d_208">
<path d="M 1219.149091 650.144
L 1219.149091 390.624
" clip-path="url(#p7bd868a0d3)" style="fill: none; stroke-dasharray: 2.22,0.96; stroke-dashoffset: 0; stroke: #b0b0b0; stroke-opacity: 0.8; stroke-width: 0.6"/>
</g>
<g id="line2d_209">
<g>
<path d="M 0 0
L 0 -3.85
" transform="translate(1219.149091 650.144)" style="stroke: #000000; stroke: #000000"/>
</g>
</g>
<g id="text_107">
<text style="font-size: 12px; font-family: 'DejaVu Sans', 'Liberation Sans', sans-serif; text-anchor: middle" x="1219.149091" y="662.762125" transform="rotate(-0 1219.149091 662.762125)">2023</text>
</g>
</g>
<g id="xtick_54">
<g id="line2d_210">
<path d="M 1261.745455 650.144
L 1261.745455 390.624
" clip-path="url(#p7bd868a0d3)" style="fill: none; stroke-dasharray: 2.22,0.96; stroke-dashoffset: 0; stroke: #b0b0b0; stroke-opacity: 0.8; stroke-width: 0.6"/>
</g>
<g id="line2d_211">
<g>
<path d="M 0 0
L 0 -3.85
" transform="translate(1261.745455 650.144)" style="stroke: #000000; stroke: #000000"/>
</g>
</g>
<g id="text_108">
<text style="font-size: 12px; font-family: 'DejaVu Sans', 'Liberation Sans', sans-serif; text-anchor: middle" x="1261.745455" y="662.762125" transform="rotate(-0 1261.745455 662.762125)">2024</text>
</g>
</g>
<g id="text_109">
<text style="font-size: 12px; font-family: 'DejaVu Sans', 'Liberation Sans', sans-serif; text-anchor: middle" x="1091.36" y="678.375875" transform="rotate(-0 1091.36 678.375875)">Year</text>
</g>
</g>
<g id="matplotlib.axis_12">
<g id="ytick_40">
<g id="line2d_212">
<path d="M 903.936 647.936
L 1278.784 647.936
" clip-path="url(#p7bd868a0d3)" style="fill: none; stroke-dasharray: 2.22,0.96; stroke-dashoffset: 0; stroke: #b0b0b0; stroke-opacity: 0.8; stroke-width: 0.6"/>
</g>
<g id="line2d_213">
<g>
<path d="M 0 0
L 3.85 0
" transform="translate(903.936 647.936)" style="stroke: #000000; stroke: #000000"/>
</g>
</g>
<g id="text_110">
<text style="font-size: 12px; font-family: 'DejaVu Sans', 'Liberation Sans', sans-serif; text-anchor: end" x="900.436" y="652.495062" transform="rotate(-0 900.436 652.495062)">60</text>
</g>
</g>
<g id="ytick_41">
<g id="line2d_214">
<path d="M 903.936 614.208
L 1278.784 614.208
" clip-path="url(#p7bd868a0d3)" style="fill: none; stroke-dasharray: 2.22,0.96; stroke-dashoffset: 0; stroke: #b0b0b0; stroke-opacity: 0.8; stroke-width: 0.6"/>
</g>
<g id="line2d_215">
<g>
<path d="M 0 0
L 3.85 0
" transform="translate(903.936 614.208)" style="stroke: #000000; stroke: #000000"/>
</g>
</g>
<g id="text_111">
<text style="font-size: 12px; font-family: 'DejaVu Sans', 'Liberation Sans', sans-serif; text-anchor: end" x="900.436" y="618.767062" transform="rotate(-0 900.436 618.767062)">80</text>
</g>
</g>
<g id="ytick_42">
<g id="line2d_216">
<path d="M 903.936 580.48
L 1278.784 580.48
" clip-path="url(#p7bd868a0d3)" style="fill: none; stroke-dasharray: 2.22,0.96; stroke-dashoffset: 0; stroke: #b0b0b0; stroke-opacity: 0.8; stroke-width: 0.6"/>
</g>
<g id="line2d_217">
<g>
<path d="M 0 0
L 3.85 0
" transform="translate(903.936 580.48)" style="stroke: #000000; stroke: #000000"/>
</g>
</g>
<g id="text_112">
<text style="font-size: 12px; font-family: 'DejaVu Sans', 'Liberation Sans', sans-serif; text-anchor: end" x="900.436" y="585.039062" transform="rotate(-0 900.436 585.039062)">100</text>
</g>
</g>
<g id="ytick_43">
<g id="line2d_218">
<path d="M 903.936 546.752
L 1278.784 546.752
" clip-path="url(#p7bd868a0d3)" style="fill: none; stroke-dasharray: 2.22,0.96; stroke-dashoffset: 0; stroke: #b0b0b0; stroke-opacity: 0.8; stroke-width: 0.6"/>
</g>
<g id="line2d_219">
<g>
<path d="M 0 0
L 3.85 0
" transform="translate(903.936 546.752)" style="stroke: #000000; stroke: #000000"/>
</g>
</g>
<g id="text_113">
<text style="font-size: 12px; font-family: 'DejaVu Sans', 'Liberation Sans', sans-serif; text-anchor: end" x="900.436" y="551.311062" transform="rotate(-0 900.436 551.311062)">120</text>
</g>
</g>
<g id="ytick_44">
<g id="line2d_220">
<path d="M 903.936 513.024
L 1278.784 513.024
" clip-path="url(#p7bd868a0d3)" style="fill: none; stroke-dasharray: 2.22,0.96; stroke-dashoffset: 0; stroke: #b0b0b0; stroke-opacity: 0.8; stroke-width: 0.6"/>
</g>
<g id="line2d_221">
<g>
<path d="M 0 0
L 3.85 0
" transform="translate(903.936 513.024)" style="stroke: #000000; stroke: #000000"/>
</g>
</g>
<g id="text_114">
<text style="font-size: 12px; font-family: 'DejaVu Sans', 'Liberation Sans', sans-serif; text-anchor: end" x="900.436" y="517.583062" transform="rotate(-0 900.436 517.583062)">140</text>
</g>
</g>
<g id="ytick_45">
<g id="line2d_222">
<path d="M 903.936 479.296
L 1278.784 479.296
" clip-path="url(#p7bd868a0d3)" style="fill: none; stroke-dasharray: 2.22,0.96; stroke-dashoffset: 0; stroke: #b0b0b0; stroke-opacity: 0.8; stroke-width: 0.6"/>
</g>
<g id="line2d_223">
<g>
<path d="M 0 0
L 3.85 0
" transform="translate(903.936 479.296)" style="stroke: #000000; stroke: #000000"/>
</g>
</g>
<g id="text_115">
<text style="font-size: 12px; font-family: 'DejaVu Sans', 'Liberation Sans', sans-serif; text-anchor: end" x="900.436" y="483.855062" transform="rotate(-0 900.436 483.855062)">160</text>
</g>
</g>
<g id="ytick_46">
<g id="line2d_224">
<path d="M 903.936 445.568
L 1278.784 445.568
" clip-path="url(#p7bd868a0d3)" style="fill: none; stroke-dasharray: 2.22,0.96; stroke-dashoffset: 0; stroke: #b0b0b0; stroke-opacity: 0.8; stroke-width: 0.6"/>
</g>
<g id="line2d_225">
<g>
<path d="M 0 0
L 3.85 0
" transform="translate(903.936 445.568)" style="stroke: #000000; stroke: #000000"/>
</g>
</g>
<g id="text_116">
<text style="font-size: 12px; font-family: 'DejaVu Sans', 'Liberation Sans', sans-serif; text-anchor: end" x="900.436" y="450.127062" transform="rotate(-0 900.436 450.127062)">180</text>
</g>
</g>
<g id="ytick_47">
<g id="line2d_226">
<path d="M 903.936 411.84
L 1278.784 411.84
" clip-path="url(#p7bd868a0d3)" style="fill: none; stroke-dasharray: 2.22,0.96; stroke-dashoffset: 0; stroke: #b0b0b0; stroke-opacity: 0.8; stroke-width: 0.6"/>
</g>
<g id="line2d_227">
<g>
<path d="M 0 0
L 3.85 0
" transform="translate(903.936 411.84)" style="stroke: #000000; stroke: #000000"/>
</g>
</g>
<g id="text_117">
<text style="font-size: 12px; font-family: 'DejaVu Sans', 'Liberation Sans', sans-serif; text-anchor: end" x="900.436" y="416.399063" transform="rotate(-0 900.436 416.399063)">200</text>
</g>
</g>
<g id="text_118">
<text style="font-size: 12px; font-family: 'DejaVu Sans', 'Liberation Sans', sans-serif; text-anchor: middle" x="871.535375" y="520.384" transform="rotate(-90 871.535375 520.384)">Index (2016=100%)</text>
</g>
</g>
<g id="line2d_228">
<path d="M 920.974545 580.48
L 963.570909 580.14272
L 1006.167273 580.14272
L 1048.763636 580.64864
L 1091.36 581.3232
L 1133.956364 581.49184
L 1176.552727 581.66048
L 1219.149091 581.49184
L 1261.745455 581.3232
" clip-path="url(#p7bd868a0d3)" style="fill: none; stroke: #0000ff; stroke-width: 2.05; stroke-linecap: square"/>
<g clip-path="url(#p7bd868a0d3)">
<path d="M 0 2
C 0.530406 2 1.03916 1.789267 1.414214 1.414214
C 1.789267 1.03916 2 0.530406 2 0
C 2 -0.530406 1.789267 -1.03916 1.414214 -1.414214
C 1.03916 -1.789267 0.530406 -2 0 -2
C -0.530406 -2 -1.03916 -1.789267 -1.414214 -1.414214
C -1.789267 -1.03916 -2 -0.530406 -2 0
C -2 0.530406 -1.789267 1.03916 -1.414214 1.414214
C -1.03916 1.789267 -0.530406 2 0 2
z
" transform="translate(920.974545 580.48)" style="fill: #0000ff; stroke: #0000ff; stroke: #0000ff"/>
<path d="M 0 2
C 0.530406 2 1.03916 1.789267 1.414214 1.414214
C 1.789267 1.03916 2 0.530406 2 0
C 2 -0.530406 1.789267 -1.03916 1.414214 -1.414214
C 1.03916 -1.789267 0.530406 -2 0 -2
C -0.530406 -2 -1.03916 -1.789267 -1.414214 -1.414214
C -1.789267 -1.03916 -2 -0.530406 -2 0
C -2 0.530406 -1.789267 1.03916 -1.414214 1.414214
C -1.03916 1.789267 -0.530406 2 0 2
z
" transform="translate(963.570909 580.14272)" style="fill: #0000ff; stroke: #0000ff; stroke: #0000ff"/>
<path d="M 0 2
C 0.530406 2 1.03916 1.789267 1.414214 1.414214
C 1.789267 1.03916 2 0.530406 2 0
C 2 -0.530406 1.789267 -1.03916 1.414214 -1.414214
C 1.03916 -1.789267 0.530406 -2 0 -2
C -0.530406 -2 -1.03916 -1.789267 -1.414214 -1.414214
C -1.789267 -1.03916 -2 -0.530406 -2 0
C -2 0.530406 -1.789267 1.03916 -1.414214 1.414214
C -1.03916 1.789267 -0.530406 2 0 2
z
" transform="translate(1006.167273 580.14272)" style="fill: #0000ff; stroke: #0000ff; stroke: #0000ff"/>
<path d="M 0 2
C 0.530406 2 1.03916 1.789267 1.414214 1.414214
C 1.789267 1.03916 2 0.530406 2 0
C 2 -0.530406 1.789267 -1.03916 1.414214 -1.414214
C 1.03916 -1.789267 0.530406 -2 0 -2
C -0.530406 -2 -1.03916 -1.789267 -1.414214 -1.414214
C -1.789267 -1.03916 -2 -0.530406 -2 0
C -2 0.530406 -1.789267 1.03916 -1.414214 1.414214
C -1.03916 1.789267 -0.530406 2 0 2
z
" transform="translate(1048.763636 580.64864)" style="fill: #0000ff; stroke: #0000ff; stroke: #0000ff"/>
<path d="M 0 2
C 0.530406 2 1.03916 1.789267 1.414214 1.414214
C 1.789267 1.03916 2 0.530406 2 0
C 2 -0.530406 1.789267 -1.03916 1.414214 -1.414214
C 1.03916 -1.789267 0.530406 -2 0 -2
C -0.530406 -2 -1.03916 -1.789267 -1.414214 -1.414214
C -1.789267 -1.03916 -2 -0.530406 -2 0
C -2 0.530406 -1.789267 1.03916 -1.414214 1.414214
C -1.03916 1.789267 -0.530406 2 0 2
z
" transform="translate(1091.36 581.3232)" style="fill: #0000ff; stroke: #0000ff; stroke: #0000ff"/>
<path d="M 0 2
C 0.530406 2 1.03916 1.789267 1.414214 1.414214
C 1.789267 1.03916 2 0.530406 2 0
C 2 -0.530406 1.789267 -1.03916 1.414214 -1.414214
C 1.03916 -1.789267 0.530406 -2 0 -2
C -0.530406 -2 -1.03916 -1.789267 -1.414214 -1.414214
C -1.789267 -1.03916 -2 -0.530406 -2 0
C -2 0.530406 -1.789267 1.03916 -1.414214 1.414214
C -1.03916 1.789267 -0.530406 2 0 2
z
" transform="translate(1133.956364 581.49184)" style="fill: #0000ff; stroke: #0000ff; stroke: #0000ff"/>
<path d="M 0 2
C 0.530406 2 1.03916 1.789267 1.414214 1.414214
C 1.789267 1.03916 2 0.530406 2 0
C 2 -0.530406 1.789267 -1.03916 1.414214 -1.414214
C 1.03916 -1.789267 0.530406 -2 0 -2
C -0.530406 -2 -1.03916 -1.789267 -1.414214 -1.414214
C -1.789267 -1.03916 -2 -0.530406 -2 0
C -2 0.530406 -1.789267 1.03916 -1.414214 1.414214
C -1.03916 1.789267 -0.530406 2 0 2
z
" transform="translate(1176.552727 581.66048)" style="fill: #0000ff; stroke: #0000ff; stroke: #0000ff"/>
<path d="M 0 2
C 0.530406 2 1.03916 1.789267 1.414214 1.414214
C 1.789267 1.03916 2 0.530406 2 0
C 2 -0.530406 1.789267 -1.03916 1.414214 -1.414214
C 1.03916 -1.789267 0.530406 -2 0 -2
C -0.530406 -2 -1.03916 -1.789267 -1.414214 -1.414214
C -1.789267 -1.03916 -2 -0.530406 -2 0
C -2 0.530406 -1.789267 1.03916 -1.414214 1.414214
C -1.03916 1.789267 -0.530406 2 0 2
z
" transform="translate(1219.149091 581.49184)" style="fill: #0000ff; stroke: #0000ff; stroke: #0000ff"/>
<path d="M 0 2
C 0.530406 2 1.03916 1.789267 1.414214 1.414214
C 1.789267 1.03916 2 0.530406 2 0
C 2 -0.530406 1.789267 -1.03916 1.414214 -1.414214
C 1.03916 -1.789267 0.530406 -2 0 -2
C -0.530406 -2 -1.03916 -1.789267 -1.414214 -1.414214
C -1.789267 -1.03916 -2 -0.530406 -2 0
C -2 0.530406 -1.789267 1.03916 -1.414214 1.414214
C -1.03916 1.789267 -0.530406 2 0 2
z
" transform="translate(1261.745455 581.3232)" style="fill: #0000ff; stroke: #0000ff; stroke: #0000ff"/>
</g>
</g>
<g id="line2d_229">
<path d="M 920.974545 580.48
L 963.570909 586.3824
L 1006.167273 591.94752
L 1048.763636 522.46784
L 1091.36 528.2016
L 1133.956364 463.94976
L 1176.552727 505.09792
L 1219.149091 522.2992
L 1261.745455 510.83168
" clip-path="url(#p7bd868a0d3)" style="fill: none; stroke-dasharray: 7.585,3.28; stroke-dashoffset: 0; stroke: #008000; stroke-width: 2.05"/>
<g clip-path="url(#p7bd868a0d3)">
<path d="M -2 2
L 2 2
L 2 -2
L -2 -2
z
" transform="translate(920.974545 580.48)" style="fill: #008000; stroke: #008000; stroke-linejoin: miter; stroke: #008000; stroke-linejoin: miter"/>
<path d="M -2 2
L 2 2
L 2 -2
L -2 -2
z
" transform="translate(963.570909 586.3824)" style="fill: #008000; stroke: #008000; stroke-linejoin: miter; stroke: #008000; stroke-linejoin: miter"/>
<path d="M -2 2
L 2 2
L 2 -2
L -2 -2
z
" transform="translate(1006.167273 591.94752)" style="fill: #008000; stroke: #008000; stroke-linejoin: miter; stroke: #008000; stroke-linejoin: miter"/>
<path d="M -2 2
L 2 2
L 2 -2
L -2 -2
z
" transform="translate(1048.763636 522.46784)" style="fill: #008000; stroke: #008000; stroke-linejoin: miter; stroke: #008000; stroke-linejoin: miter"/>
<path d="M -2 2
L 2 2
L 2 -2
L -2 -2
z
" transform="translate(1091.36 528.2016)" style="fill: #008000; stroke: #008000; stroke-linejoin: miter; stroke: #008000; stroke-linejoin: miter"/>
<path d="M -2 2
L 2 2
L 2 -2
L -2 -2
z
" transform="translate(1133.956364 463.94976)" style="fill: #008000; stroke: #008000; stroke-linejoin: miter; stroke: #008000; stroke-linejoin: miter"/>
<path d="M -2 2
L 2 2
L 2 -2
L -2 -2
z
" transform="translate(1176.552727 505.09792)" style="fill: #008000; stroke: #008000; stroke-linejoin: miter; stroke: #008000; stroke-linejoin: miter"/>
<path d="M -2 2
L 2 2
L 2 -2
L -2 -2
z
" transform="translate(1219.149091 522.2992)" style="fill: #008000; stroke: #008000; stroke-linejoin: miter; stroke: #008000; stroke-linejoin: miter"/>
<path d="M -2 2
L 2 2
L 2 -2
L -2 -2
z
" transform="translate(1261.745455 510.83168)" style="fill: #008000; stroke: #008000; stroke-linejoin: miter; stroke: #008000; stroke-linejoin: miter"/>
</g>
</g>
<g id="line2d_230">
<path d="M 920.974545 580.48
L 963.570909 638.32352
L 1006.167273 607.4624
L 1048.763636 603.07776
L 1091.36 496.49728
L 1133.956364 461.25152
L 1176.552727 402.90208
L 1219.149091 421.1152
L 1261.745455 487.39072
" clip-path="url(#p7bd868a0d3)" style="fill: none; stroke-dasharray: 13.12,3.28,2.05,3.28; stroke-dashoffset: 0; stroke: #ff0000; stroke-width: 2.05"/>
<g clip-path="url(#p7bd868a0d3)">
<path d="M 0 -2
L -2 2
L 2 2
z
" transform="translate(920.974545 580.48)" style="fill: #ff0000; stroke: #ff0000; stroke-linejoin: miter; stroke: #ff0000; stroke-linejoin: miter"/>
<path d="M 0 -2
L -2 2
L 2 2
z
" transform="translate(963.570909 638.32352)" style="fill: #ff0000; stroke: #ff0000; stroke-linejoin: miter; stroke: #ff0000; stroke-linejoin: miter"/>
<path d="M 0 -2
L -2 2
L 2 2
z
" transform="translate(1006.167273 607.4624)" style="fill: #ff0000; stroke: #ff0000; stroke-linejoin: miter; stroke: #ff0000; stroke-linejoin: miter"/>
<path d="M 0 -2
L -2 2
L 2 2
z
" transform="translate(1048.763636 603.07776)" style="fill: #ff0000; stroke: #ff0000; stroke-linejoin: miter; stroke: #ff0000; stroke-linejoin: miter"/>
<path d="M 0 -2
L -2 2
L 2 2
z
" transform="translate(1091.36 496.49728)" style="fill: #ff0000; stroke: #ff0000; stroke-linejoin: miter; stroke: #ff0000; stroke-linejoin: miter"/>
<path d="M 0 -2
L -2 2
L 2 2
z
" transform="translate(1133.956364 461.25152)" style="fill: #ff0000; stroke: #ff0000; stroke-linejoin: miter; stroke: #ff0000; stroke-linejoin: miter"/>
<path d="M 0 -2
L -2 2
L 2 2
z
" transform="translate(1176.552727 402.90208)" style="fill: #ff0000; stroke: #ff0000; stroke-linejoin: miter; stroke: #ff0000; stroke-linejoin: miter"/>
<path d="M 0 -2
L -2 2
L 2 2
z
" transform="translate(1219.149091 421.1152)" style="fill: #ff0000; stroke: #ff0000; stroke-linejoin: miter; stroke: #ff0000; stroke-linejoin: miter"/>
<path d="M 0 -2
L -2 2
L 2 2
z
" transform="translate(1261.745455 487.39072)" style="fill: #ff0000; stroke: #ff0000; stroke-linejoin: miter; stroke: #ff0000; stroke-linejoin: miter"/>
</g>
</g>
<g id="line2d_231">
<path d="M 920.974545 580.48
L 963.570909 570.53024
L 1006.167273 560.58048
L 1048.763636 560.58048
L 1091.36 520.95008
L 1133.956364 530.89984
L 1176.552727 550.46208
L 1219.149091 590.5984
L 1261.745455 550.46208
" clip-path="url(#p7bd868a0d3)" style="fill: none; stroke-dasharray: 2.05,3.3825; stroke-dashoffset: 0; stroke: #800080; stroke-width: 2.05"/>
<g clip-path="url(#p7bd868a0d3)">
<path d="M -0 2.828427
L 1.697056 0
L 0 -2.828427
L -1.697056 -0
z
" transform="translate(920.974545 580.48)" style="fill: #800080; stroke: #800080; stroke-linejoin: miter; stroke: #800080; stroke-linejoin: miter"/>
<path d="M -0 2.828427
L 1.697056 0
L 0 -2.828427
L -1.697056 -0
z
" transform="translate(963.570909 570.53024)" style="fill: #800080; stroke: #800080; stroke-linejoin: miter; stroke: #800080; stroke-linejoin: miter"/>
<path d="M -0 2.828427
L 1.697056 0
L 0 -2.828427
L -1.697056 -0
z
" transform="translate(1006.167273 560.58048)" style="fill: #800080; stroke: #800080; stroke-linejoin: miter; stroke: #800080; stroke-linejoin: miter"/>
<path d="M -0 2.828427
L 1.697056 0
L 0 -2.828427
L -1.697056 -0
z
" transform="translate(1048.763636 560.58048)" style="fill: #800080; stroke: #800080; stroke-linejoin: miter; stroke: #800080; stroke-linejoin: miter"/>
<path d="M -0 2.828427
L 1.697056 0
L 0 -2.828427
L -1.697056 -0
z
" transform="translate(1091.36 520.95008)" style="fill: #800080; stroke: #800080; stroke-linejoin: miter; stroke: #800080; stroke-linejoin: miter"/>
<path d="M -0 2.828427
L 1.697056 0
L 0 -2.828427
L -1.697056 -0
z
" transform="translate(1133.956364 530.89984)" style="fill: #800080; stroke: #800080; stroke-linejoin: miter; stroke: #800080; stroke-linejoin: miter"/>
<path d="M -0 2.828427
L 1.697056 0
L 0 -2.828427
L -1.697056 -0
z
" transform="translate(1176.552727 550.46208)" style="fill: #800080; stroke: #800080; stroke-linejoin: miter; stroke: #800080; stroke-linejoin: miter"/>
<path d="M -0 2.828427
L 1.697056 0
L 0 -2.828427
L -1.697056 -0
z
" transform="translate(1219.149091 590.5984)" style="fill: #800080; stroke: #800080; stroke-linejoin: miter; stroke: #800080; stroke-linejoin: miter"/>
<path d="M -0 2.828427
L 1.697056 0
L 0 -2.828427
L -1.697056 -0
z
" transform="translate(1261.745455 550.46208)" style="fill: #800080; stroke: #800080; stroke-linejoin: miter; stroke: #800080; stroke-linejoin: miter"/>
</g>
</g>
<g id="line2d_232">
<path d="M 903.936 580.48
L 1278.784 580.48
" clip-path="url(#p7bd868a0d3)" style="fill: none; stroke-dasharray: 2.96,1.28; stroke-dashoffset: 0; stroke: #808080; stroke-width: 0.8"/>
</g>
<g id="patch_18">
<path d="M 903.936 650.144
L 903.936 390.624
" style="fill: none; stroke: #000000; stroke-linejoin: miter; stroke-linecap: square"/>
</g>
<g id="patch_19">
<path d="M 903.936 650.144
L 1278.784 650.144
" style="fill: none; stroke: #000000; stroke-linejoin: miter; stroke-linecap: square"/>
</g>
<g id="text_119">
<text style="font-size: 12px; font-family: 'DejaVu Sans', 'Liberation Sans', sans-serif; text-anchor: middle; fill: #262626" x="1091.36" y="385.224" transform="rotate(-0 1091.36 385.224)">NH American Indian or Alaska Native</text>
</g>
</g>
<g id="axes_7">
<g id="patch_20">
<path d="M 44.032 966.848
L 418.88 966.848
L 418.88 707.328
L 44.032 707.328
z
" style="fill: #ffffff"/>
</g>
<g id="matplotlib.axis_13">
<g id="xtick_55">
<g id="line2d_233">
<path d="M 61.070545 966.848
L 61.070545 707.328
" clip-path="url(#pbe686e8713)" style="fill: none; stroke-dasharray: 2.22,0.96; stroke-dashoffset: 0; stroke: #b0b0b0; stroke-opacity: 0.8; stroke-width: 0.6"/>
</g>
<g id="line2d_234">
<g>
<path d="M 0 0
L 0 -3.85
" transform="translate(61.070545 966.848)" style="stroke: #000000; stroke: #000000"/>
</g>
</g>
<g id="text_120">
<text style="font-size: 12px; font-family: 'DejaVu Sans', 'Liberation Sans', sans-serif; text-anchor: middle" x="61.070545" y="979.466125" transform="rotate(-0 61.070545 979.466125)">2016</text>
</g>
</g>
<g id="xtick_56">
<g id="line2d_235">
<path d="M 103.666909 966.848
L 103.666909 707.328
" clip-path="url(#pbe686e8713)" style="fill: none; stroke-dasharray: 2.22,0.96; stroke-dashoffset: 0; stroke: #b0b0b0; stroke-opacity: 0.8; stroke-width: 0.6"/>
</g>
<g id="line2d_236">
<g>
<path d="M 0 0
L 0 -3.85
" transform="translate(103.666909 966.848)" style="stroke: #000000; stroke: #000000"/>
</g>
</g>
<g id="text_121">
<text style="font-size: 12px; font-family: 'DejaVu Sans', 'Liberation Sans', sans-serif; text-anchor: middle" x="103.666909" y="979.466125" transform="rotate(-0 103.666909 979.466125)">2017</text>
</g>
</g>
<g id="xtick_57">
<g id="line2d_237">
<path d="M 146.263273 966.848
L 146.263273 707.328
" clip-path="url(#pbe686e8713)" style="fill: none; stroke-dasharray: 2.22,0.96; stroke-dashoffset: 0; stroke: #b0b0b0; stroke-opacity: 0.8; stroke-width: 0.6"/>
</g>
<g id="line2d_238">
<g>
<path d="M 0 0
L 0 -3.85
" transform="translate(146.263273 966.848)" style="stroke: #000000; stroke: #000000"/>
</g>
</g>
<g id="text_122">
<text style="font-size: 12px; font-family: 'DejaVu Sans', 'Liberation Sans', sans-serif; text-anchor: middle" x="146.263273" y="979.466125" transform="rotate(-0 146.263273 979.466125)">2018</text>
</g>
</g>
<g id="xtick_58">
<g id="line2d_239">
<path d="M 188.859636 966.848
L 188.859636 707.328
" clip-path="url(#pbe686e8713)" style="fill: none; stroke-dasharray: 2.22,0.96; stroke-dashoffset: 0; stroke: #b0b0b0; stroke-opacity: 0.8; stroke-width: 0.6"/>
</g>
<g id="line2d_240">
<g>
<path d="M 0 0
L 0 -3.85
" transform="translate(188.859636 966.848)" style="stroke: #000000; stroke: #000000"/>
</g>
</g>
<g id="text_123">
<text style="font-size: 12px; font-family: 'DejaVu Sans', 'Liberation Sans', sans-serif; text-anchor: middle" x="188.859636" y="979.466125" transform="rotate(-0 188.859636 979.466125)">2019</text>
</g>
</g>
<g id="xtick_59">
<g id="line2d_241">
<path d="M 231.456 966.848
L 231.456 707.328
" clip-path="url(#pbe686e8713)" style="fill: none; stroke-dasharray: 2.22,0.96; stroke-dashoffset: 0; stroke: #b0b0b0; stroke-opacity: 0.8; stroke-width: 0.6"/>
</g>
<g id="line2d_242">
<g>
<path d="M 0 0
L 0 -3.85
" transform="translate(231.456 966.848)" style="stroke: #000000; stroke: #000000"/>
</g>
</g>
<g id="text_124">
<text style="font-size: 12px; font-family: 'DejaVu Sans', 'Liberation Sans', sans-serif; text-anchor: middle" x="231.456" y="979.466125" transform="rotate(-0 231.456 979.466125)">2020</text>
</g>
</g>
<g id="xtick_60">
<g id="line2d_243">
<path d="M 274.052364 966.848
L 274.052364 707.328
" clip-path="url(#pbe686e8713)" style="fill: none; stroke-dasharray: 2.22,0.96; stroke-dashoffset: 0; stroke: #b0b0b0; stroke-opacity: 0.8; stroke-width: 0.6"/>
</g>
<g id="line2d_244">
<g>
<path d="M 0 0
L 0 -3.85
" transform="translate(274.052364 966.848)" style="stroke: #000000; stroke: #000000"/>
</g>
</g>
<g id="text_125">
<text style="font-size: 12px; font-family: 'DejaVu Sans', 'Liberation Sans', sans-serif; text-anchor: middle" x="274.052364" y="979.466125" transform="rotate(-0 274.052364 979.466125)">2021</text>
</g>
</g>
<g id="xtick_61">
<g id="line2d_245">
<path d="M 316.648727 966.848
L 316.648727 707.328
" clip-path="url(#pbe686e8713)" style="fill: none; stroke-dasharray: 2.22,0.96; stroke-dashoffset: 0; stroke: #b0b0b0; stroke-opacity: 0.8; stroke-width: 0.6"/>
</g>
<g id="line2d_246">
<g>
<path d="M 0 0
L 0 -3.85
" transform="translate(316.648727 966.848)" style="stroke: #000000; stroke: #000000"/>
</g>
</g>
<g id="text_126">
<text style="font-size: 12px; font-family: 'DejaVu Sans', 'Liberation Sans', sans-serif; text-anchor: middle" x="316.648727" y="979.466125" transform="rotate(-0 316.648727 979.466125)">2022</text>
</g>
</g>
<g id="xtick_62">
<g id="line2d_247">
<path d="M 359.245091 966.848
L 359.245091 707.328
" clip-path="url(#pbe686e8713)" style="fill: none; stroke-dasharray: 2.22,0.96; stroke-dashoffset: 0; stroke: #b0b0b0; stroke-opacity: 0.8; stroke-width: 0.6"/>
</g>
<g id="line2d_248">
<g>
<path d="M 0 0
L 0 -3.85
" transform="translate(359.245091 966.848)" style="stroke: #000000; stroke: #000000"/>
</g>
</g>
<g id="text_127">
<text style="font-size: 12px; font-family: 'DejaVu Sans', 'Liberation Sans', sans-serif; text-anchor: middle" x="359.245091" y="979.466125" transform="rotate(-0 359.245091 979.466125)">2023</text>
</g>
</g>
<g id="xtick_63">
<g id="line2d_249">
<path d="M 401.841455 966.848
L 401.841455 707.328
" clip-path="url(#pbe686e8713)" style="fill: none; stroke-dasharray: 2.22,0.96; stroke-dashoffset: 0; stroke: #b0b0b0; stroke-opacity: 0.8; stroke-width: 0.6"/>
</g>
<g id="line2d_250">
<g>
<path d="M 0 0
L 0 -3.85
" transform="translate(401.841455 966.848)" style="stroke: #000000; stroke: #000000"/>
</g>
</g>
<g id="text_128">
<text style="font-size: 12px; font-family: 'DejaVu Sans', 'Liberation Sans', sans-serif; text-anchor: middle" x="401.841455" y="979.466125" transform="rotate(-0 401.841455 979.466125)">2024</text>
</g>
</g>
<g id="text_129">
<text style="font-size: 12px; font-family: 'DejaVu Sans', 'Liberation Sans', sans-serif; text-anchor: middle" x="231.456" y="995.079875" transform="rotate(-0 231.456 995.079875)">Year</text>
</g>
</g>
<g id="matplotlib.axis_14">
<g id="ytick_48">
<g id="line2d_251">
<path d="M 44.032 955.136
L 418.88 955.136
" clip-path="url(#pbe686e8713)" style="fill: none; stroke-dasharray: 2.22,0.96; stroke-dashoffset: 0; stroke: #b0b0b0; stroke-opacity: 0.8; stroke-width: 0.6"/>
</g>
<g id="line2d_252">
<g>
<path d="M 0 0
L 3.85 0
" transform="translate(44.032 955.136)" style="stroke: #000000; stroke: #000000"/>
</g>
</g>
<g id="text_130">
<text style="font-size: 12px; font-family: 'DejaVu Sans', 'Liberation Sans', sans-serif; text-anchor: end" x="40.532" y="959.695063" transform="rotate(-0 40.532 959.695063)">0</text>
</g>
</g>
<g id="ytick_49">
<g id="line2d_253">
<path d="M 44.032 909.5296
L 418.88 909.5296
" clip-path="url(#pbe686e8713)" style="fill: none; stroke-dasharray: 2.22,0.96; stroke-dashoffset: 0; stroke: #b0b0b0; stroke-opacity: 0.8; stroke-width: 0.6"/>
</g>
<g id="line2d_254">
<g>
<path d="M 0 0
L 3.85 0
" transform="translate(44.032 909.5296)" style="stroke: #000000; stroke: #000000"/>
</g>
</g>
<g id="text_131">
<text style="font-size: 12px; font-family: 'DejaVu Sans', 'Liberation Sans', sans-serif; text-anchor: end" x="40.532" y="914.088663" transform="rotate(-0 40.532 914.088663)">50</text>
</g>
</g>
<g id="ytick_50">
<g id="line2d_255">
<path d="M 44.032 863.9232
L 418.88 863.9232
" clip-path="url(#pbe686e8713)" style="fill: none; stroke-dasharray: 2.22,0.96; stroke-dashoffset: 0; stroke: #b0b0b0; stroke-opacity: 0.8; stroke-width: 0.6"/>
</g>
<g id="line2d_256">
<g>
<path d="M 0 0
L 3.85 0
" transform="translate(44.032 863.9232)" style="stroke: #000000; stroke: #000000"/>
</g>
</g>
<g id="text_132">
<text style="font-size: 12px; font-family: 'DejaVu Sans', 'Liberation Sans', sans-serif; text-anchor: end" x="40.532" y="868.482263" transform="rotate(-0 40.532 868.482263)">100</text>
</g>
</g>
<g id="ytick_51">
<g id="line2d_257">
<path d="M 44.032 818.3168
L 418.88 818.3168
" clip-path="url(#pbe686e8713)" style="fill: none; stroke-dasharray: 2.22,0.96; stroke-dashoffset: 0; stroke: #b0b0b0; stroke-opacity: 0.8; stroke-width: 0.6"/>
</g>
<g id="line2d_258">
<g>
<path d="M 0 0
L 3.85 0
" transform="translate(44.032 818.3168)" style="stroke: #000000; stroke: #000000"/>
</g>
</g>
<g id="text_133">
<text style="font-size: 12px; font-family: 'DejaVu Sans', 'Liberation Sans', sans-serif; text-anchor: end" x="40.532" y="822.875863" transform="rotate(-0 40.532 822.875863)">150</text>
</g>
</g>
<g id="ytick_52">
<g id="line2d_259">
<path d="M 44.032 772.7104
L 418.88 772.7104
" clip-path="url(#pbe686e8713)" style="fill: none; stroke-dasharray: 2.22,0.96; stroke-dashoffset: 0; stroke: #b0b0b0; stroke-opacity: 0.8; stroke-width: 0.6"/>
</g>
<g id="line2d_260">
<g>
<path d="M 0 0
L 3.85 0
" transform="translate(44.032 772.7104)" style="stroke: #000000; stroke: #000000"/>
</g>
</g>
<g id="text_134">
<text style="font-size: 12px; font-family: 'DejaVu Sans', 'Liberation Sans', sans-serif; text-anchor: end" x="40.532" y="777.269462" transform="rotate(-0 40.532 777.269462)">200</text>
</g>
</g>
<g id="ytick_53">
<g id="line2d_261">
<path d="M 44.032 727.104
L 418.88 727.104
" clip-path="url(#pbe686e8713)" style="fill: none; stroke-dasharray: 2.22,0.96; stroke-dashoffset: 0; stroke: #b0b0b0; stroke-opacity: 0.8; stroke-width: 0.6"/>
</g>
<g id="line2d_262">
<g>
<path d="M 0 0
L 3.85 0
" transform="translate(44.032 727.104)" style="stroke: #000000; stroke: #000000"/>
</g>
</g>
<g id="text_135">
<text style="font-size: 12px; font-family: 'DejaVu Sans', 'Liberation Sans', sans-serif; text-anchor: end" x="40.532" y="731.663062" transform="rotate(-0 40.532 731.663062)">250</text>
</g>
</g>
<g id="text_136">
<text style="font-size: 12px; font-family: 'DejaVu Sans', 'Liberation Sans', sans-serif; text-anchor: middle" x="11.631375" y="837.088" transform="rotate(-90 11.631375 837.088)">Index (2016=100%)</text>
</g>
</g>
<g id="line2d_263">
<path d="M 61.070545 863.9232
L 103.666909 863.9232
L 146.263273 863.9232
L 188.859636 864.288051
L 231.456 864.288051
L 274.052364 864.926541
L 316.648727 864.470477
L 359.245091 864.926541
L 401.841455 864.470477
" clip-path="url(#pbe686e8713)" style="fill: none; stroke: #0000ff; stroke-width: 2.05; stroke-linecap: square"/>
<g clip-path="url(#pbe686e8713)">
<path d="M 0 2
C 0.530406 2 1.03916 1.789267 1.414214 1.414214
C 1.789267 1.03916 2 0.530406 2 0
C 2 -0.530406 1.789267 -1.03916 1.414214 -1.414214
C 1.03916 -1.789267 0.530406 -2 0 -2
C -0.530406 -2 -1.03916 -1.789267 -1.414214 -1.414214
C -1.789267 -1.03916 -2 -0.530406 -2 0
C -2 0.530406 -1.789267 1.03916 -1.414214 1.414214
C -1.03916 1.789267 -0.530406 2 0 2
z
" transform="translate(61.070545 863.9232)" style="fill: #0000ff; stroke: #0000ff; stroke: #0000ff"/>
<path d="M 0 2
C 0.530406 2 1.03916 1.789267 1.414214 1.414214
C 1.789267 1.03916 2 0.530406 2 0
C 2 -0.530406 1.789267 -1.03916 1.414214 -1.414214
C 1.03916 -1.789267 0.530406 -2 0 -2
C -0.530406 -2 -1.03916 -1.789267 -1.414214 -1.414214
C -1.789267 -1.03916 -2 -0.530406 -2 0
C -2 0.530406 -1.789267 1.03916 -1.414214 1.414214
C -1.03916 1.789267 -0.530406 2 0 2
z
" transform="translate(103.666909 863.9232)" style="fill: #0000ff; stroke: #0000ff; stroke: #0000ff"/>
<path d="M 0 2
C 0.530406 2 1.03916 1.789267 1.414214 1.414214
C 1.789267 1.03916 2 0.530406 2 0
C 2 -0.530406 1.789267 -1.03916 1.414214 -1.414214
C 1.03916 -1.789267 0.530406 -2 0 -2
C -0.530406 -2 -1.03916 -1.789267 -1.414214 -1.414214
C -1.789267 -1.03916 -2 -0.530406 -2 0
C -2 0.530406 -1.789267 1.03916 -1.414214 1.414214
C -1.03916 1.789267 -0.530406 2 0 2
z
" transform="translate(146.263273 863.9232)" style="fill: #0000ff; stroke: #0000ff; stroke: #0000ff"/>
<path d="M 0 2
C 0.530406 2 1.03916 1.789267 1.414214 1.414214
C 1.789267 1.03916 2 0.530406 2 0
C 2 -0.530406 1.789267 -1.03916 1.414214 -1.414214
C 1.03916 -1.789267 0.530406 -2 0 -2
C -0.530406 -2 -1.03916 -1.789267 -1.414214 -1.414214
C -1.789267 -1.03916 -2 -0.530406 -2 0
C -2 0.530406 -1.789267 1.03916 -1.414214 1.414214
C -1.03916 1.789267 -0.530406 2 0 2
z
" transform="translate(188.859636 864.288051)" style="fill: #0000ff; stroke: #0000ff; stroke: #0000ff"/>
<path d="M 0 2
C 0.530406 2 1.03916 1.789267 1.414214 1.414214
C 1.789267 1.03916 2 0.530406 2 0
C 2 -0.530406 1.789267 -1.03916 1.414214 -1.414214
C 1.03916 -1.789267 0.530406 -2 0 -2
C -0.530406 -2 -1.03916 -1.789267 -1.414214 -1.414214
C -1.789267 -1.03916 -2 -0.530406 -2 0
C -2 0.530406 -1.789267 1.03916 -1.414214 1.414214
C -1.03916 1.789267 -0.530406 2 0 2
z
" transform="translate(231.456 864.288051)" style="fill: #0000ff; stroke: #0000ff; stroke: #0000ff"/>
<path d="M 0 2
C 0.530406 2 1.03916 1.789267 1.414214 1.414214
C 1.789267 1.03916 2 0.530406 2 0
C 2 -0.530406 1.789267 -1.03916 1.414214 -1.414214
C 1.03916 -1.789267 0.530406 -2 0 -2
C -0.530406 -2 -1.03916 -1.789267 -1.414214 -1.414214
C -1.789267 -1.03916 -2 -0.530406 -2 0
C -2 0.530406 -1.789267 1.03916 -1.414214 1.414214
C -1.03916 1.789267 -0.530406 2 0 2
z
" transform="translate(274.052364 864.926541)" style="fill: #0000ff; stroke: #0000ff; stroke: #0000ff"/>
<path d="M 0 2
C 0.530406 2 1.03916 1.789267 1.414214 1.414214
C 1.789267 1.03916 2 0.530406 2 0
C 2 -0.530406 1.789267 -1.03916 1.414214 -1.414214
C 1.03916 -1.789267 0.530406 -2 0 -2
C -0.530406 -2 -1.03916 -1.789267 -1.414214 -1.414214
C -1.789267 -1.03916 -2 -0.530406 -2 0
C -2 0.530406 -1.789267 1.03916 -1.414214 1.414214
C -1.03916 1.789267 -0.530406 2 0 2
z
" transform="translate(316.648727 864.470477)" style="fill: #0000ff; stroke: #0000ff; stroke: #0000ff"/>
<path d="M 0 2
C 0.530406 2 1.03916 1.789267 1.414214 1.414214
C 1.789267 1.03916 2 0.530406 2 0
C 2 -0.530406 1.789267 -1.03916 1.414214 -1.414214
C 1.03916 -1.789267 0.530406 -2 0 -2
C -0.530406 -2 -1.03916 -1.789267 -1.414214 -1.414214
C -1.789267 -1.03916 -2 -0.530406 -2 0
C -2 0.530406 -1.789267 1.03916 -1.414214 1.414214
C -1.03916 1.789267 -0.530406 2 0 2
z
" transform="translate(359.245091 864.926541)" style="fill: #0000ff; stroke: #0000ff; stroke: #0000ff"/>
<path d="M 0 2
C 0.530406 2 1.03916 1.789267 1.414214 1.414214
C 1.789267 1.03916 2 0.530406 2 0
C 2 -0.530406 1.789267 -1.03916 1.414214 -1.414214
C 1.03916 -1.789267 0.530406 -2 0 -2
C -0.530406 -2 -1.03916 -1.789267 -1.414214 -1.414214
C -1.789267 -1.03916 -2 -0.530406 -2 0
C -2 0.530406 -1.789267 1.03916 -1.414214 1.414214
C -1.03916 1.789267 -0.530406 2 0 2
z
" transform="translate(401.841455 864.470477)" style="fill: #0000ff; stroke: #0000ff; stroke: #0000ff"/>
</g>
</g>
<g id="line2d_264">
<path d="M 61.070545 863.9232
L 103.666909 820.870758
L 146.263273 837.19785
L 188.859636 848.234598
L 231.456 756.930586
L 274.052364 756.930586
L 316.648727 783.47351
L 359.245091 810.746138
L 401.841455 837.19785
" clip-path="url(#pbe686e8713)" style="fill: none; stroke-dasharray: 7.585,3.28; stroke-dashoffset: 0; stroke: #008000; stroke-width: 2.05"/>
<g clip-path="url(#pbe686e8713)">
<path d="M -2 2
L 2 2
L 2 -2
L -2 -2
z
" transform="translate(61.070545 863.9232)" style="fill: #008000; stroke: #008000; stroke-linejoin: miter; stroke: #008000; stroke-linejoin: miter"/>
<path d="M -2 2
L 2 2
L 2 -2
L -2 -2
z
" transform="translate(103.666909 820.870758)" style="fill: #008000; stroke: #008000; stroke-linejoin: miter; stroke: #008000; stroke-linejoin: miter"/>
<path d="M -2 2
L 2 2
L 2 -2
L -2 -2
z
" transform="translate(146.263273 837.19785)" style="fill: #008000; stroke: #008000; stroke-linejoin: miter; stroke: #008000; stroke-linejoin: miter"/>
<path d="M -2 2
L 2 2
L 2 -2
L -2 -2
z
" transform="translate(188.859636 848.234598)" style="fill: #008000; stroke: #008000; stroke-linejoin: miter; stroke: #008000; stroke-linejoin: miter"/>
<path d="M -2 2
L 2 2
L 2 -2
L -2 -2
z
" transform="translate(231.456 756.930586)" style="fill: #008000; stroke: #008000; stroke-linejoin: miter; stroke: #008000; stroke-linejoin: miter"/>
<path d="M -2 2
L 2 2
L 2 -2
L -2 -2
z
" transform="translate(274.052364 756.930586)" style="fill: #008000; stroke: #008000; stroke-linejoin: miter; stroke: #008000; stroke-linejoin: miter"/>
<path d="M -2 2
L 2 2
L 2 -2
L -2 -2
z
" transform="translate(316.648727 783.47351)" style="fill: #008000; stroke: #008000; stroke-linejoin: miter; stroke: #008000; stroke-linejoin: miter"/>
<path d="M -2 2
L 2 2
L 2 -2
L -2 -2
z
" transform="translate(359.245091 810.746138)" style="fill: #008000; stroke: #008000; stroke-linejoin: miter; stroke: #008000; stroke-linejoin: miter"/>
<path d="M -2 2
L 2 2
L 2 -2
L -2 -2
z
" transform="translate(401.841455 837.19785)" style="fill: #008000; stroke: #008000; stroke-linejoin: miter; stroke: #008000; stroke-linejoin: miter"/>
</g>
</g>
<g id="line2d_265">
<path d="M 61.070545 863.9232
L 103.666909 867.84535
L 146.263273 887.000038
L 188.859636 822.603802
L 231.456 852.977664
L 274.052364 723.273062
L 316.648727 738.688026
L 359.245091 719.806976
L 401.841455 772.892826
" clip-path="url(#pbe686e8713)" style="fill: none; stroke-dasharray: 13.12,3.28,2.05,3.28; stroke-dashoffset: 0; stroke: #ff0000; stroke-width: 2.05"/>
<g clip-path="url(#pbe686e8713)">
<path d="M 0 -2
L -2 2
L 2 2
z
" transform="translate(61.070545 863.9232)" style="fill: #ff0000; stroke: #ff0000; stroke-linejoin: miter; stroke: #ff0000; stroke-linejoin: miter"/>
<path d="M 0 -2
L -2 2
L 2 2
z
" transform="translate(103.666909 867.84535)" style="fill: #ff0000; stroke: #ff0000; stroke-linejoin: miter; stroke: #ff0000; stroke-linejoin: miter"/>
<path d="M 0 -2
L -2 2
L 2 2
z
" transform="translate(146.263273 887.000038)" style="fill: #ff0000; stroke: #ff0000; stroke-linejoin: miter; stroke: #ff0000; stroke-linejoin: miter"/>
<path d="M 0 -2
L -2 2
L 2 2
z
" transform="translate(188.859636 822.603802)" style="fill: #ff0000; stroke: #ff0000; stroke-linejoin: miter; stroke: #ff0000; stroke-linejoin: miter"/>
<path d="M 0 -2
L -2 2
L 2 2
z
" transform="translate(231.456 852.977664)" style="fill: #ff0000; stroke: #ff0000; stroke-linejoin: miter; stroke: #ff0000; stroke-linejoin: miter"/>
<path d="M 0 -2
L -2 2
L 2 2
z
" transform="translate(274.052364 723.273062)" style="fill: #ff0000; stroke: #ff0000; stroke-linejoin: miter; stroke: #ff0000; stroke-linejoin: miter"/>
<path d="M 0 -2
L -2 2
L 2 2
z
" transform="translate(316.648727 738.688026)" style="fill: #ff0000; stroke: #ff0000; stroke-linejoin: miter; stroke: #ff0000; stroke-linejoin: miter"/>
<path d="M 0 -2
L -2 2
L 2 2
z
" transform="translate(359.245091 719.806976)" style="fill: #ff0000; stroke: #ff0000; stroke-linejoin: miter; stroke: #ff0000; stroke-linejoin: miter"/>
<path d="M 0 -2
L -2 2
L 2 2
z
" transform="translate(401.841455 772.892826)" style="fill: #ff0000; stroke: #ff0000; stroke-linejoin: miter; stroke: #ff0000; stroke-linejoin: miter"/>
</g>
</g>
<g id="line2d_266">
<path d="M 61.070545 863.9232
L 103.666909 955.136
L 146.263273 955.136
L 188.859636 885.266995
L 231.456 955.136
L 274.052364 869.669606
L 316.648727 852.977664
L 359.245091 831.816294
L 401.841455 858.359219
" clip-path="url(#pbe686e8713)" style="fill: none; stroke-dasharray: 2.05,3.3825; stroke-dashoffset: 0; stroke: #800080; stroke-width: 2.05"/>
<g clip-path="url(#pbe686e8713)">
<path d="M -0 2.828427
L 1.697056 0
L 0 -2.828427
L -1.697056 -0
z
" transform="translate(61.070545 863.9232)" style="fill: #800080; stroke: #800080; stroke-linejoin: miter; stroke: #800080; stroke-linejoin: miter"/>
<path d="M -0 2.828427
L 1.697056 0
L 0 -2.828427
L -1.697056 -0
z
" transform="translate(103.666909 955.136)" style="fill: #800080; stroke: #800080; stroke-linejoin: miter; stroke: #800080; stroke-linejoin: miter"/>
<path d="M -0 2.828427
L 1.697056 0
L 0 -2.828427
L -1.697056 -0
z
" transform="translate(146.263273 955.136)" style="fill: #800080; stroke: #800080; stroke-linejoin: miter; stroke: #800080; stroke-linejoin: miter"/>
<path d="M -0 2.828427
L 1.697056 0
L 0 -2.828427
L -1.697056 -0
z
" transform="translate(188.859636 885.266995)" style="fill: #800080; stroke: #800080; stroke-linejoin: miter; stroke: #800080; stroke-linejoin: miter"/>
<path d="M -0 2.828427
L 1.697056 0
L 0 -2.828427
L -1.697056 -0
z
" transform="translate(231.456 955.136)" style="fill: #800080; stroke: #800080; stroke-linejoin: miter; stroke: #800080; stroke-linejoin: miter"/>
<path d="M -0 2.828427
L 1.697056 0
L 0 -2.828427
L -1.697056 -0
z
" transform="translate(274.052364 869.669606)" style="fill: #800080; stroke: #800080; stroke-linejoin: miter; stroke: #800080; stroke-linejoin: miter"/>
<path d="M -0 2.828427
L 1.697056 0
L 0 -2.828427
L -1.697056 -0
z
" transform="translate(316.648727 852.977664)" style="fill: #800080; stroke: #800080; stroke-linejoin: miter; stroke: #800080; stroke-linejoin: miter"/>
<path d="M -0 2.828427
L 1.697056 0
L 0 -2.828427
L -1.697056 -0
z
" transform="translate(359.245091 831.816294)" style="fill: #800080; stroke: #800080; stroke-linejoin: miter; stroke: #800080; stroke-linejoin: miter"/>
<path d="M -0 2.828427
L 1.697056 0
L 0 -2.828427
L -1.697056 -0
z
" transform="translate(401.841455 858.359219)" style="fill: #800080; stroke: #800080; stroke-linejoin: miter; stroke: #800080; stroke-linejoin: miter"/>
</g>
</g>
<g id="line2d_267">
<path d="M 44.032 863.9232
L 418.88 863.9232
" clip-path="url(#pbe686e8713)" style="fill: none; stroke-dasharray: 2.96,1.28; stroke-dashoffset: 0; stroke: #808080; stroke-width: 0.8"/>
</g>
<g id="patch_21">
<path d="M 44.032 966.848
L 44.032 707.328
" style="fill: none; stroke: #000000; stroke-linejoin: miter; stroke-linecap: square"/>
</g>
<g id="patch_22">
<path d="M 44.032 966.848
L 418.88 966.848
" style="fill: none; stroke: #000000; stroke-linejoin: miter; stroke-linecap: square"/>
</g>
<g id="text_137">
<text style="font-size: 12px; font-family: 'DejaVu Sans', 'Liberation Sans', sans-serif; text-anchor: middle; fill: #262626" x="231.456" y="701.928" transform="rotate(-0 231.456 701.928)">NH Hawaiian or Pacific Islander</text>
</g>
</g>
<g id="axes_8">
<g id="patch_23">
<path d="M 473.92 966.848
L 848.768 966.848
L 848.768 707.328
L 473.92 707.328
z
" style="fill: #ffffff"/>
</g>
<g id="matplotlib.axis_15">
<g id="xtick_64">
<g id="line2d_268">
<path d="M 490.958545 966.848
L 490.958545 707.328
" clip-path="url(#p5e0d0d45de)" style="fill: none; stroke-dasharray: 2.22,0.96; stroke-dashoffset: 0; stroke: #b0b0b0; stroke-opacity: 0.8; stroke-width: 0.6"/>
</g>
<g id="line2d_269">
<g>
<path d="M 0 0
L 0 -3.85
" transform="translate(490.958545 966.848)" style="stroke: #000000; stroke: #000000"/>
</g>
</g>
<g id="text_138">
<text style="font-size: 12px; font-family: 'DejaVu Sans', 'Liberation Sans', sans-serif; text-anchor: middle" x="490.958545" y="979.466125" transform="rotate(-0 490.958545 979.466125)">2016</text>
</g>
</g>
<g id="xtick_65">
<g id="line2d_270">
<path d="M 533.554909 966.848
L 533.554909 707.328
" clip-path="url(#p5e0d0d45de)" style="fill: none; stroke-dasharray: 2.22,0.96; stroke-dashoffset: 0; stroke: #b0b0b0; stroke-opacity: 0.8; stroke-width: 0.6"/>
</g>
<g id="line2d_271">
<g>
<path d="M 0 0
L 0 -3.85
" transform="translate(533.554909 966.848)" style="stroke: #000000; stroke: #000000"/>
</g>
</g>
<g id="text_139">
<text style="font-size: 12px; font-family: 'DejaVu Sans', 'Liberation Sans', sans-serif; text-anchor: middle" x="533.554909" y="979.466125" transform="rotate(-0 533.554909 979.466125)">2017</text>
</g>
</g>
<g id="xtick_66">
<g id="line2d_272">
<path d="M 576.151273 966.848
L 576.151273 707.328
" clip-path="url(#p5e0d0d45de)" style="fill: none; stroke-dasharray: 2.22,0.96; stroke-dashoffset: 0; stroke: #b0b0b0; stroke-opacity: 0.8; stroke-width: 0.6"/>
</g>
<g id="line2d_273">
<g>
<path d="M 0 0
L 0 -3.85
" transform="translate(576.151273 966.848)" style="stroke: #000000; stroke: #000000"/>
</g>
</g>
<g id="text_140">
<text style="font-size: 12px; font-family: 'DejaVu Sans', 'Liberation Sans', sans-serif; text-anchor: middle" x="576.151273" y="979.466125" transform="rotate(-0 576.151273 979.466125)">2018</text>
</g>
</g>
<g id="xtick_67">
<g id="line2d_274">
<path d="M 618.747636 966.848
L 618.747636 707.328
" clip-path="url(#p5e0d0d45de)" style="fill: none; stroke-dasharray: 2.22,0.96; stroke-dashoffset: 0; stroke: #b0b0b0; stroke-opacity: 0.8; stroke-width: 0.6"/>
</g>
<g id="line2d_275">
<g>
<path d="M 0 0
L 0 -3.85
" transform="translate(618.747636 966.848)" style="stroke: #000000; stroke: #000000"/>
</g>
</g>
<g id="text_141">
<text style="font-size: 12px; font-family: 'DejaVu Sans', 'Liberation Sans', sans-serif; text-anchor: middle" x="618.747636" y="979.466125" transform="rotate(-0 618.747636 979.466125)">2019</text>
</g>
</g>
<g id="xtick_68">
<g id="line2d_276">
<path d="M 661.344 966.848
L 661.344 707.328
" clip-path="url(#p5e0d0d45de)" style="fill: none; stroke-dasharray: 2.22,0.96; stroke-dashoffset: 0; stroke: #b0b0b0; stroke-opacity: 0.8; stroke-width: 0.6"/>
</g>
<g id="line2d_277">
<g>
<path d="M 0 0
L 0 -3.85
" transform="translate(661.344 966.848)" style="stroke: #000000; stroke: #000000"/>
</g>
</g>
<g id="text_142">
<text style="font-size: 12px; font-family: 'DejaVu Sans', 'Liberation Sans', sans-serif; text-anchor: middle" x="661.344" y="979.466125" transform="rotate(-0 661.344 979.466125)">2020</text>
</g>
</g>
<g id="xtick_69">
<g id="line2d_278">
<path d="M 703.940364 966.848
L 703.940364 707.328
" clip-path="url(#p5e0d0d45de)" style="fill: none; stroke-dasharray: 2.22,0.96; stroke-dashoffset: 0; stroke: #b0b0b0; stroke-opacity: 0.8; stroke-width: 0.6"/>
</g>
<g id="line2d_279">
<g>
<path d="M 0 0
L 0 -3.85
" transform="translate(703.940364 966.848)" style="stroke: #000000; stroke: #000000"/>
</g>
</g>
<g id="text_143">
<text style="font-size: 12px; font-family: 'DejaVu Sans', 'Liberation Sans', sans-serif; text-anchor: middle" x="703.940364" y="979.466125" transform="rotate(-0 703.940364 979.466125)">2021</text>
</g>
</g>
<g id="xtick_70">
<g id="line2d_280">
<path d="M 746.536727 966.848
L 746.536727 707.328
" clip-path="url(#p5e0d0d45de)" style="fill: none; stroke-dasharray: 2.22,0.96; stroke-dashoffset: 0; stroke: #b0b0b0; stroke-opacity: 0.8; stroke-width: 0.6"/>
</g>
<g id="line2d_281">
<g>
<path d="M 0 0
L 0 -3.85
" transform="translate(746.536727 966.848)" style="stroke: #000000; stroke: #000000"/>
</g>
</g>
<g id="text_144">
<text style="font-size: 12px; font-family: 'DejaVu Sans', 'Liberation Sans', sans-serif; text-anchor: middle" x="746.536727" y="979.466125" transform="rotate(-0 746.536727 979.466125)">2022</text>
</g>
</g>
<g id="xtick_71">
<g id="line2d_282">
<path d="M 789.133091 966.848
L 789.133091 707.328
" clip-path="url(#p5e0d0d45de)" style="fill: none; stroke-dasharray: 2.22,0.96; stroke-dashoffset: 0; stroke: #b0b0b0; stroke-opacity: 0.8; stroke-width: 0.6"/>
</g>
<g id="line2d_283">
<g>
<path d="M 0 0
L 0 -3.85
" transform="translate(789.133091 966.848)" style="stroke: #000000; stroke: #000000"/>
</g>
</g>
<g id="text_145">
<text style="font-size: 12px; font-family: 'DejaVu Sans', 'Liberation Sans', sans-serif; text-anchor: middle" x="789.133091" y="979.466125" transform="rotate(-0 789.133091 979.466125)">2023</text>
</g>
</g>
<g id="xtick_72">
<g id="line2d_284">
<path d="M 831.729455 966.848
L 831.729455 707.328
" clip-path="url(#p5e0d0d45de)" style="fill: none; stroke-dasharray: 2.22,0.96; stroke-dashoffset: 0; stroke: #b0b0b0; stroke-opacity: 0.8; stroke-width: 0.6"/>
</g>
<g id="line2d_285">
<g>
<path d="M 0 0
L 0 -3.85
" transform="translate(831.729455 966.848)" style="stroke: #000000; stroke: #000000"/>
</g>
</g>
<g id="text_146">
<text style="font-size: 12px; font-family: 'DejaVu Sans', 'Liberation Sans', sans-serif; text-anchor: middle" x="831.729455" y="979.466125" transform="rotate(-0 831.729455 979.466125)">2024</text>
</g>
</g>
<g id="text_147">
<text style="font-size: 12px; font-family: 'DejaVu Sans', 'Liberation Sans', sans-serif; text-anchor: middle" x="661.344" y="995.079875" transform="rotate(-0 661.344 995.079875)">Year</text>
</g>
</g>
<g id="matplotlib.axis_16">
<g id="ytick_54">
<g id="line2d_286">
<path d="M 473.92 964.16
L 848.768 964.16
" clip-path="url(#p5e0d0d45de)" style="fill: none; stroke-dasharray: 2.22,0.96; stroke-dashoffset: 0; stroke: #b0b0b0; stroke-opacity: 0.8; stroke-width: 0.6"/>
</g>
<g id="line2d_287">
<g>
<path d="M 0 0
L 3.85 0
" transform="translate(473.92 964.16)" style="stroke: #000000; stroke: #000000"/>
</g>
</g>
<g id="text_148">
<text style="font-size: 12px; font-family: 'DejaVu Sans', 'Liberation Sans', sans-serif; text-anchor: end" x="470.42" y="968.719062" transform="rotate(-0 470.42 968.719062)">60</text>
</g>
</g>
<g id="ytick_55">
<g id="line2d_288">
<path d="M 473.92 927.338667
L 848.768 927.338667
" clip-path="url(#p5e0d0d45de)" style="fill: none; stroke-dasharray: 2.22,0.96; stroke-dashoffset: 0; stroke: #b0b0b0; stroke-opacity: 0.8; stroke-width: 0.6"/>
</g>
<g id="line2d_289">
<g>
<path d="M 0 0
L 3.85 0
" transform="translate(473.92 927.338667)" style="stroke: #000000; stroke: #000000"/>
</g>
</g>
<g id="text_149">
<text style="font-size: 12px; font-family: 'DejaVu Sans', 'Liberation Sans', sans-serif; text-anchor: end" x="470.42" y="931.897729" transform="rotate(-0 470.42 931.897729)">80</text>
</g>
</g>
<g id="ytick_56">
<g id="line2d_290">
<path d="M 473.92 890.517333
L 848.768 890.517333
" clip-path="url(#p5e0d0d45de)" style="fill: none; stroke-dasharray: 2.22,0.96; stroke-dashoffset: 0; stroke: #b0b0b0; stroke-opacity: 0.8; stroke-width: 0.6"/>
</g>
<g id="line2d_291">
<g>
<path d="M 0 0
L 3.85 0
" transform="translate(473.92 890.517333)" style="stroke: #000000; stroke: #000000"/>
</g>
</g>
<g id="text_150">
<text style="font-size: 12px; font-family: 'DejaVu Sans', 'Liberation Sans', sans-serif; text-anchor: end" x="470.42" y="895.076396" transform="rotate(-0 470.42 895.076396)">100</text>
</g>
</g>
<g id="ytick_57">
<g id="line2d_292">
<path d="M 473.92 853.696
L 848.768 853.696
" clip-path="url(#p5e0d0d45de)" style="fill: none; stroke-dasharray: 2.22,0.96; stroke-dashoffset: 0; stroke: #b0b0b0; stroke-opacity: 0.8; stroke-width: 0.6"/>
</g>
<g id="line2d_293">
<g>
<path d="M 0 0
L 3.85 0
" transform="translate(473.92 853.696)" style="stroke: #000000; stroke: #000000"/>
</g>
</g>
<g id="text_151">
<text style="font-size: 12px; font-family: 'DejaVu Sans', 'Liberation Sans', sans-serif; text-anchor: end" x="470.42" y="858.255063" transform="rotate(-0 470.42 858.255063)">120</text>
</g>
</g>
<g id="ytick_58">
<g id="line2d_294">
<path d="M 473.92 816.874667
L 848.768 816.874667
" clip-path="url(#p5e0d0d45de)" style="fill: none; stroke-dasharray: 2.22,0.96; stroke-dashoffset: 0; stroke: #b0b0b0; stroke-opacity: 0.8; stroke-width: 0.6"/>
</g>
<g id="line2d_295">
<g>
<path d="M 0 0
L 3.85 0
" transform="translate(473.92 816.874667)" style="stroke: #000000; stroke: #000000"/>
</g>
</g>
<g id="text_152">
<text style="font-size: 12px; font-family: 'DejaVu Sans', 'Liberation Sans', sans-serif; text-anchor: end" x="470.42" y="821.433729" transform="rotate(-0 470.42 821.433729)">140</text>
</g>
</g>
<g id="ytick_59">
<g id="line2d_296">
<path d="M 473.92 780.053333
L 848.768 780.053333
" clip-path="url(#p5e0d0d45de)" style="fill: none; stroke-dasharray: 2.22,0.96; stroke-dashoffset: 0; stroke: #b0b0b0; stroke-opacity: 0.8; stroke-width: 0.6"/>
</g>
<g id="line2d_297">
<g>
<path d="M 0 0
L 3.85 0
" transform="translate(473.92 780.053333)" style="stroke: #000000; stroke: #000000"/>
</g>
</g>
<g id="text_153">
<text style="font-size: 12px; font-family: 'DejaVu Sans', 'Liberation Sans', sans-serif; text-anchor: end" x="470.42" y="784.612396" transform="rotate(-0 470.42 784.612396)">160</text>
</g>
</g>
<g id="ytick_60">
<g id="line2d_298">
<path d="M 473.92 743.232
L 848.768 743.232
" clip-path="url(#p5e0d0d45de)" style="fill: none; stroke-dasharray: 2.22,0.96; stroke-dashoffset: 0; stroke: #b0b0b0; stroke-opacity: 0.8; stroke-width: 0.6"/>
</g>
<g id="line2d_299">
<g>
<path d="M 0 0
L 3.85 0
" transform="translate(473.92 743.232)" style="stroke: #000000; stroke: #000000"/>
</g>
</g>
<g id="text_154">
<text style="font-size: 12px; font-family: 'DejaVu Sans', 'Liberation Sans', sans-serif; text-anchor: end" x="470.42" y="747.791063" transform="rotate(-0 470.42 747.791063)">180</text>
</g>
</g>
<g id="text_155">
<text style="font-size: 12px; font-family: 'DejaVu Sans', 'Liberation Sans', sans-serif; text-anchor: middle" x="441.519375" y="837.088" transform="rotate(-90 441.519375 837.088)">Index (2016=100%)</text>
</g>
</g>
<g id="line2d_300">
<path d="M 490.958545 890.517333
L 533.554909 890.517333
L 576.151273 890.517333
L 618.747636 890.517333
L 661.344 891.25376
L 703.940364 891.80608
L 746.536727 891.80608
L 789.133091 891.80608
L 831.729455 891.621973
" clip-path="url(#p5e0d0d45de)" style="fill: none; stroke: #0000ff; stroke-width: 2.05; stroke-linecap: square"/>
<g clip-path="url(#p5e0d0d45de)">
<path d="M 0 2
C 0.530406 2 1.03916 1.789267 1.414214 1.414214
C 1.789267 1.03916 2 0.530406 2 0
C 2 -0.530406 1.789267 -1.03916 1.414214 -1.414214
C 1.03916 -1.789267 0.530406 -2 0 -2
C -0.530406 -2 -1.03916 -1.789267 -1.414214 -1.414214
C -1.789267 -1.03916 -2 -0.530406 -2 0
C -2 0.530406 -1.789267 1.03916 -1.414214 1.414214
C -1.03916 1.789267 -0.530406 2 0 2
z
" transform="translate(490.958545 890.517333)" style="fill: #0000ff; stroke: #0000ff; stroke: #0000ff"/>
<path d="M 0 2
C 0.530406 2 1.03916 1.789267 1.414214 1.414214
C 1.789267 1.03916 2 0.530406 2 0
C 2 -0.530406 1.789267 -1.03916 1.414214 -1.414214
C 1.03916 -1.789267 0.530406 -2 0 -2
C -0.530406 -2 -1.03916 -1.789267 -1.414214 -1.414214
C -1.789267 -1.03916 -2 -0.530406 -2 0
C -2 0.530406 -1.789267 1.03916 -1.414214 1.414214
C -1.03916 1.789267 -0.530406 2 0 2
z
" transform="translate(533.554909 890.517333)" style="fill: #0000ff; stroke: #0000ff; stroke: #0000ff"/>
<path d="M 0 2
C 0.530406 2 1.03916 1.789267 1.414214 1.414214
C 1.789267 1.03916 2 0.530406 2 0
C 2 -0.530406 1.789267 -1.03916 1.414214 -1.414214
C 1.03916 -1.789267 0.530406 -2 0 -2
C -0.530406 -2 -1.03916 -1.789267 -1.414214 -1.414214
C -1.789267 -1.03916 -2 -0.530406 -2 0
C -2 0.530406 -1.789267 1.03916 -1.414214 1.414214
C -1.03916 1.789267 -0.530406 2 0 2
z
" transform="translate(576.151273 890.517333)" style="fill: #0000ff; stroke: #0000ff; stroke: #0000ff"/>
<path d="M 0 2
C 0.530406 2 1.03916 1.789267 1.414214 1.414214
C 1.789267 1.03916 2 0.530406 2 0
C 2 -0.530406 1.789267 -1.03916 1.414214 -1.414214
C 1.03916 -1.789267 0.530406 -2 0 -2
C -0.530406 -2 -1.03916 -1.789267 -1.414214 -1.414214
C -1.789267 -1.03916 -2 -0.530406 -2 0
C -2 0.530406 -1.789267 1.03916 -1.414214 1.414214
C -1.03916 1.789267 -0.530406 2 0 2
z
" transform="translate(618.747636 890.517333)" style="fill: #0000ff; stroke: #0000ff; stroke: #0000ff"/>
<path d="M 0 2
C 0.530406 2 1.03916 1.789267 1.414214 1.414214
C 1.789267 1.03916 2 0.530406 2 0
C 2 -0.530406 1.789267 -1.03916 1.414214 -1.414214
C 1.03916 -1.789267 0.530406 -2 0 -2
C -0.530406 -2 -1.03916 -1.789267 -1.414214 -1.414214
C -1.789267 -1.03916 -2 -0.530406 -2 0
C -2 0.530406 -1.789267 1.03916 -1.414214 1.414214
C -1.03916 1.789267 -0.530406 2 0 2
z
" transform="translate(661.344 891.25376)" style="fill: #0000ff; stroke: #0000ff; stroke: #0000ff"/>
<path d="M 0 2
C 0.530406 2 1.03916 1.789267 1.414214 1.414214
C 1.789267 1.03916 2 0.530406 2 0
C 2 -0.530406 1.789267 -1.03916 1.414214 -1.414214
C 1.03916 -1.789267 0.530406 -2 0 -2
C -0.530406 -2 -1.03916 -1.789267 -1.414214 -1.414214
C -1.789267 -1.03916 -2 -0.530406 -2 0
C -2 0.530406 -1.789267 1.03916 -1.414214 1.414214
C -1.03916 1.789267 -0.530406 2 0 2
z
" transform="translate(703.940364 891.80608)" style="fill: #0000ff; stroke: #0000ff; stroke: #0000ff"/>
<path d="M 0 2
C 0.530406 2 1.03916 1.789267 1.414214 1.414214
C 1.789267 1.03916 2 0.530406 2 0
C 2 -0.530406 1.789267 -1.03916 1.414214 -1.414214
C 1.03916 -1.789267 0.530406 -2 0 -2
C -0.530406 -2 -1.03916 -1.789267 -1.414214 -1.414214
C -1.789267 -1.03916 -2 -0.530406 -2 0
C -2 0.530406 -1.789267 1.03916 -1.414214 1.414214
C -1.03916 1.789267 -0.530406 2 0 2
z
" transform="translate(746.536727 891.80608)" style="fill: #0000ff; stroke: #0000ff; stroke: #0000ff"/>
<path d="M 0 2
C 0.530406 2 1.03916 1.789267 1.414214 1.414214
C 1.789267 1.03916 2 0.530406 2 0
C 2 -0.530406 1.789267 -1.03916 1.414214 -1.414214
C 1.03916 -1.789267 0.530406 -2 0 -2
C -0.530406 -2 -1.03916 -1.789267 -1.414214 -1.414214
C -1.789267 -1.03916 -2 -0.530406 -2 0
C -2 0.530406 -1.789267 1.03916 -1.414214 1.414214
C -1.03916 1.789267 -0.530406 2 0 2
z
" transform="translate(789.133091 891.80608)" style="fill: #0000ff; stroke: #0000ff; stroke: #0000ff"/>
<path d="M 0 2
C 0.530406 2 1.03916 1.789267 1.414214 1.414214
C 1.789267 1.03916 2 0.530406 2 0
C 2 -0.530406 1.789267 -1.03916 1.414214 -1.414214
C 1.03916 -1.789267 0.530406 -2 0 -2
C -0.530406 -2 -1.03916 -1.789267 -1.414214 -1.414214
C -1.789267 -1.03916 -2 -0.530406 -2 0
C -2 0.530406 -1.789267 1.03916 -1.414214 1.414214
C -1.03916 1.789267 -0.530406 2 0 2
z
" transform="translate(831.729455 891.621973)" style="fill: #0000ff; stroke: #0000ff; stroke: #0000ff"/>
</g>
</g>
<g id="line2d_301">
<path d="M 490.958545 890.517333
L 533.554909 901.19552
L 576.151273 898.618027
L 618.747636 887.755733
L 661.344 861.060267
L 703.940364 844.490667
L 746.536727 839.151573
L 789.133091 858.11456
L 831.729455 879.470933
" clip-path="url(#p5e0d0d45de)" style="fill: none; stroke-dasharray: 7.585,3.28; stroke-dashoffset: 0; stroke: #008000; stroke-width: 2.05"/>
<g clip-path="url(#p5e0d0d45de)">
<path d="M -2 2
L 2 2
L 2 -2
L -2 -2
z
" transform="translate(490.958545 890.517333)" style="fill: #008000; stroke: #008000; stroke-linejoin: miter; stroke: #008000; stroke-linejoin: miter"/>
<path d="M -2 2
L 2 2
L 2 -2
L -2 -2
z
" transform="translate(533.554909 901.19552)" style="fill: #008000; stroke: #008000; stroke-linejoin: miter; stroke: #008000; stroke-linejoin: miter"/>
<path d="M -2 2
L 2 2
L 2 -2
L -2 -2
z
" transform="translate(576.151273 898.618027)" style="fill: #008000; stroke: #008000; stroke-linejoin: miter; stroke: #008000; stroke-linejoin: miter"/>
<path d="M -2 2
L 2 2
L 2 -2
L -2 -2
z
" transform="translate(618.747636 887.755733)" style="fill: #008000; stroke: #008000; stroke-linejoin: miter; stroke: #008000; stroke-linejoin: miter"/>
<path d="M -2 2
L 2 2
L 2 -2
L -2 -2
z
" transform="translate(661.344 861.060267)" style="fill: #008000; stroke: #008000; stroke-linejoin: miter; stroke: #008000; stroke-linejoin: miter"/>
<path d="M -2 2
L 2 2
L 2 -2
L -2 -2
z
" transform="translate(703.940364 844.490667)" style="fill: #008000; stroke: #008000; stroke-linejoin: miter; stroke: #008000; stroke-linejoin: miter"/>
<path d="M -2 2
L 2 2
L 2 -2
L -2 -2
z
" transform="translate(746.536727 839.151573)" style="fill: #008000; stroke: #008000; stroke-linejoin: miter; stroke: #008000; stroke-linejoin: miter"/>
<path d="M -2 2
L 2 2
L 2 -2
L -2 -2
z
" transform="translate(789.133091 858.11456)" style="fill: #008000; stroke: #008000; stroke-linejoin: miter; stroke: #008000; stroke-linejoin: miter"/>
<path d="M -2 2
L 2 2
L 2 -2
L -2 -2
z
" transform="translate(831.729455 879.470933)" style="fill: #008000; stroke: #008000; stroke-linejoin: miter; stroke: #008000; stroke-linejoin: miter"/>
</g>
</g>
<g id="line2d_302">
<path d="M 490.958545 890.517333
L 533.554909 890.517333
L 576.151273 880.20736
L 618.747636 882.600747
L 661.344 820.00448
L 703.940364 730.160427
L 746.536727 720.03456
L 789.133091 720.03456
L 831.729455 720.03456
" clip-path="url(#p5e0d0d45de)" style="fill: none; stroke-dasharray: 13.12,3.28,2.05,3.28; stroke-dashoffset: 0; stroke: #ff0000; stroke-width: 2.05"/>
<g clip-path="url(#p5e0d0d45de)">
<path d="M 0 -2
L -2 2
L 2 2
z
" transform="translate(490.958545 890.517333)" style="fill: #ff0000; stroke: #ff0000; stroke-linejoin: miter; stroke: #ff0000; stroke-linejoin: miter"/>
<path d="M 0 -2
L -2 2
L 2 2
z
" transform="translate(533.554909 890.517333)" style="fill: #ff0000; stroke: #ff0000; stroke-linejoin: miter; stroke: #ff0000; stroke-linejoin: miter"/>
<path d="M 0 -2
L -2 2
L 2 2
z
" transform="translate(576.151273 880.20736)" style="fill: #ff0000; stroke: #ff0000; stroke-linejoin: miter; stroke: #ff0000; stroke-linejoin: miter"/>
<path d="M 0 -2
L -2 2
L 2 2
z
" transform="translate(618.747636 882.600747)" style="fill: #ff0000; stroke: #ff0000; stroke-linejoin: miter; stroke: #ff0000; stroke-linejoin: miter"/>
<path d="M 0 -2
L -2 2
L 2 2
z
" transform="translate(661.344 820.00448)" style="fill: #ff0000; stroke: #ff0000; stroke-linejoin: miter; stroke: #ff0000; stroke-linejoin: miter"/>
<path d="M 0 -2
L -2 2
L 2 2
z
" transform="translate(703.940364 730.160427)" style="fill: #ff0000; stroke: #ff0000; stroke-linejoin: miter; stroke: #ff0000; stroke-linejoin: miter"/>
<path d="M 0 -2
L -2 2
L 2 2
z
" transform="translate(746.536727 720.03456)" style="fill: #ff0000; stroke: #ff0000; stroke-linejoin: miter; stroke: #ff0000; stroke-linejoin: miter"/>
<path d="M 0 -2
L -2 2
L 2 2
z
" transform="translate(789.133091 720.03456)" style="fill: #ff0000; stroke: #ff0000; stroke-linejoin: miter; stroke: #ff0000; stroke-linejoin: miter"/>
<path d="M 0 -2
L -2 2
L 2 2
z
" transform="translate(831.729455 720.03456)" style="fill: #ff0000; stroke: #ff0000; stroke-linejoin: miter; stroke: #ff0000; stroke-linejoin: miter"/>
</g>
</g>
<g id="line2d_303">
<path d="M 490.958545 890.517333
L 533.554909 880.391467
L 576.151273 890.517333
L 618.747636 910.400853
L 661.344 870.2656
L 703.940364 945.38112
L 746.536727 954.954667
L 789.133091 930.652587
L 831.729455 940.226133
" clip-path="url(#p5e0d0d45de)" style="fill: none; stroke-dasharray: 2.05,3.3825; stroke-dashoffset: 0; stroke: #800080; stroke-width: 2.05"/>
<g clip-path="url(#p5e0d0d45de)">
<path d="M -0 2.828427
L 1.697056 0
L 0 -2.828427
L -1.697056 -0
z
" transform="translate(490.958545 890.517333)" style="fill: #800080; stroke: #800080; stroke-linejoin: miter; stroke: #800080; stroke-linejoin: miter"/>
<path d="M -0 2.828427
L 1.697056 0
L 0 -2.828427
L -1.697056 -0
z
" transform="translate(533.554909 880.391467)" style="fill: #800080; stroke: #800080; stroke-linejoin: miter; stroke: #800080; stroke-linejoin: miter"/>
<path d="M -0 2.828427
L 1.697056 0
L 0 -2.828427
L -1.697056 -0
z
" transform="translate(576.151273 890.517333)" style="fill: #800080; stroke: #800080; stroke-linejoin: miter; stroke: #800080; stroke-linejoin: miter"/>
<path d="M -0 2.828427
L 1.697056 0
L 0 -2.828427
L -1.697056 -0
z
" transform="translate(618.747636 910.400853)" style="fill: #800080; stroke: #800080; stroke-linejoin: miter; stroke: #800080; stroke-linejoin: miter"/>
<path d="M -0 2.828427
L 1.697056 0
L 0 -2.828427
L -1.697056 -0
z
" transform="translate(661.344 870.2656)" style="fill: #800080; stroke: #800080; stroke-linejoin: miter; stroke: #800080; stroke-linejoin: miter"/>
<path d="M -0 2.828427
L 1.697056 0
L 0 -2.828427
L -1.697056 -0
z
" transform="translate(703.940364 945.38112)" style="fill: #800080; stroke: #800080; stroke-linejoin: miter; stroke: #800080; stroke-linejoin: miter"/>
<path d="M -0 2.828427
L 1.697056 0
L 0 -2.828427
L -1.697056 -0
z
" transform="translate(746.536727 954.954667)" style="fill: #800080; stroke: #800080; stroke-linejoin: miter; stroke: #800080; stroke-linejoin: miter"/>
<path d="M -0 2.828427
L 1.697056 0
L 0 -2.828427
L -1.697056 -0
z
" transform="translate(789.133091 930.652587)" style="fill: #800080; stroke: #800080; stroke-linejoin: miter; stroke: #800080; stroke-linejoin: miter"/>
<path d="M -0 2.828427
L 1.697056 0
L 0 -2.828427
L -1.697056 -0
z
" transform="translate(831.729455 940.226133)" style="fill: #800080; stroke: #800080; stroke-linejoin: miter; stroke: #800080; stroke-linejoin: miter"/>
</g>
</g>
<g id="line2d_304">
<path d="M 473.92 890.517333
L 848.768 890.517333
" clip-path="url(#p5e0d0d45de)" style="fill: none; stroke-dasharray: 2.96,1.28; stroke-dashoffset: 0; stroke: #808080; stroke-width: 0.8"/>
</g>
<g id="patch_24">
<path d="M 473.92 966.848
L 473.92 707.328
" style="fill: none; stroke: #000000; stroke-linejoin: miter; stroke-linecap: square"/>
</g>
<g id="patch_25">
<path d="M 473.92 966.848
L 848.768 966.848
" style="fill: none; stroke: #000000; stroke-linejoin: miter; stroke-linecap: square"/>
</g>
<g id="text_156">
<text style="font-size: 12px; font-family: 'DejaVu Sans', 'Liberation Sans', sans-serif; text-anchor: middle; fill: #262626" x="661.344" y="701.928" transform="rotate(-0 661.344 701.928)">NH More than one race</text>
</g>
</g>
<g id="legend_1">
<g id="patch_26">
<path d="M 343.57375 35.88825
L 938.98625 35.88825
Q 940.98625 35.88825 940.98625 33.88825
L 940.98625 4.432
Q 940.98625 2.432 938.98625 2.432
L 343.57375 2.432
Q 341.57375 2.432 341.57375 4.432
L 341.57375 33.88825
Q 341.57375 35.88825 343.57375 35.88825
z
" style="fill: #ffffff; opacity: 0.8; stroke: #cccccc; stroke-linejoin: miter"/>
</g>
<g id="text_157">
<text style="font-size: 10px; font-family: 'DejaVu Sans', 'Liberation Sans', sans-serif; text-anchor: start; fill: #262626" x="615.822969" y="14.330438" transform="rotate(-0 615.822969 14.330438)">Birthplace</text>
</g>
<g id="line2d_305">
<path d="M 345.87375 26.008563
L 355.87375 26.008563
L 365.87375 26.008563
" style="fill: none; stroke: #0000ff; stroke-width: 2.05; stroke-linecap: square"/>
<g>
<path d="M 0 2
C 0.530406 2 1.03916 1.789267 1.414214 1.414214
C 1.789267 1.03916 2 0.530406 2 0
C 2 -0.530406 1.789267 -1.03916 1.414214 -1.414214
C 1.03916 -1.789267 0.530406 -2 0 -2
C -0.530406 -2 -1.03916 -1.789267 -1.414214 -1.414214
C -1.789267 -1.03916 -2 -0.530406 -2 0
C -2 0.530406 -1.789267 1.03916 -1.414214 1.414214
C -1.03916 1.789267 -0.530406 2 0 2
z
" transform="translate(355.87375 26.008563)" style="fill: #0000ff; stroke: #0000ff; stroke: #0000ff"/>
</g>
</g>
<g id="text_158">
<text style="font-size: 10px; font-family: 'DejaVu Sans', 'Liberation Sans', sans-serif; text-anchor: start; fill: #262626" x="373.87375" y="29.508563" transform="rotate(-0 373.87375 29.508563)">Hospital</text>
</g>
<g id="line2d_306">
<path d="M 434.675313 26.008563
L 444.675313 26.008563
L 454.675313 26.008563
" style="fill: none; stroke-dasharray: 7.585,3.28; stroke-dashoffset: 0; stroke: #008000; stroke-width: 2.05"/>
<g>
<path d="M -2 2
L 2 2
L 2 -2
L -2 -2
z
" transform="translate(444.675313 26.008563)" style="fill: #008000; stroke: #008000; stroke-linejoin: miter; stroke: #008000; stroke-linejoin: miter"/>
</g>
</g>
<g id="text_159">
<text style="font-size: 10px; font-family: 'DejaVu Sans', 'Liberation Sans', sans-serif; text-anchor: start; fill: #262626" x="462.675313" y="29.508563" transform="rotate(-0 462.675313 29.508563)">Freestanding birth center</text>
</g>
<g id="line2d_307">
<path d="M 609.326875 26.008563
L 619.326875 26.008563
L 629.326875 26.008563
" style="fill: none; stroke-dasharray: 13.12,3.28,2.05,3.28; stroke-dashoffset: 0; stroke: #ff0000; stroke-width: 2.05"/>
<g>
<path d="M 0 -2
L -2 2
L 2 2
z
" transform="translate(619.326875 26.008563)" style="fill: #ff0000; stroke: #ff0000; stroke-linejoin: miter; stroke: #ff0000; stroke-linejoin: miter"/>
</g>
</g>
<g id="text_160">
<text style="font-size: 10px; font-family: 'DejaVu Sans', 'Liberation Sans', sans-serif; text-anchor: start; fill: #262626" x="637.326875" y="29.508563" transform="rotate(-0 637.326875 29.508563)">Home (intended)</text>
</g>
<g id="line2d_308">
<path d="M 742.2175 26.008563
L 752.2175 26.008563
L 762.2175 26.008563
" style="fill: none; stroke-dasharray: 2.05,3.3825; stroke-dashoffset: 0; stroke: #800080; stroke-width: 2.05"/>
<g>
<path d="M -0 2.828427
L 1.697056 0
L 0 -2.828427
L -1.697056 -0
z
" transform="translate(752.2175 26.008563)" style="fill: #800080; stroke: #800080; stroke-linejoin: miter; stroke: #800080; stroke-linejoin: miter"/>
</g>
</g>
<g id="text_161">
<text style="font-size: 10px; font-family: 'DejaVu Sans', 'Liberation Sans', sans-serif; text-anchor: start; fill: #262626" x="770.2175" y="29.508563" transform="rotate(-0 770.2175 29.508563)">Home (not intended or unknown)</text>
</g>
</g>
</g>
<defs>
<clipPath id="p42d1062738">
<rect x="44.032" y="73.92" width="374.848" height="259.52"/>
</clipPath>
<clipPath id="p2471ae372f">
<rect x="473.92" y="73.92" width="374.848" height="259.52"/>
</clipPath>
<clipPath id="p7671c64854">
<rect x="903.936" y="73.92" width="374.848" height="259.52"/>
</clipPath>
<clipPath id="pc52edb78c0">
<rect x="44.032" y="390.624" width="374.848" height="259.52"/>
</clipPath>
<clipPath id="p35eec04493">
<rect x="473.92" y="390.624" width="374.848" height="259.52"/>
</clipPath>
<clipPath id="p7bd868a0d3">
<rect x="903.936" y="390.624" width="374.848" height="259.52"/>
</clipPath>
<clipPath id="pbe686e8713">
<rect x="44.032" y="707.328" width="374.848" height="259.52"/>
</clipPath>
<clipPath id="p5e0d0d45de">
<rect x="473.92" y="707.328" width="374.848" height="259.52"/>
</clipPath>
</defs>
</svg>

</body></html>
